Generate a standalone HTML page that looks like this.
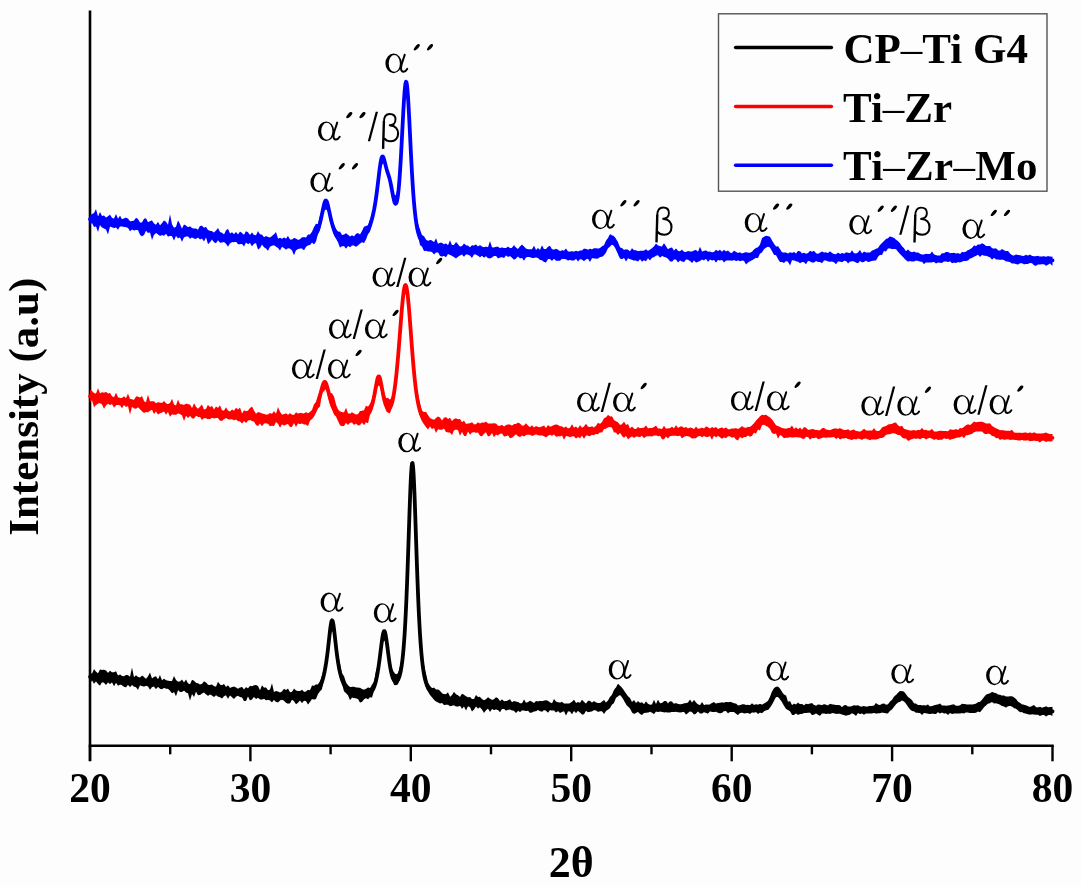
<!DOCTYPE html>
<html><head><meta charset="utf-8"><style>
html,body{margin:0;padding:0;background:#fdfdfd;width:1081px;height:887px;overflow:hidden}
svg{display:block;filter:blur(0.50px)}
.tk{font-family:"Liberation Serif",serif;font-weight:bold;font-size:41.5px;fill:#000}
.lb{font-family:"Liberation Serif",serif;fill:#000}
.lg{font-family:"Liberation Serif",serif;font-weight:bold;font-size:43px;fill:#000}
.ti{font-family:"Liberation Serif",serif;font-weight:bold;font-size:43px;fill:#000}
.ti2{font-family:"Liberation Serif",serif;font-weight:bold;font-size:44px;fill:#000}
</style></head><body>
<svg width="1081" height="887" viewBox="0 0 1081 887">
<defs>
<g id="al">
<path fill-rule="evenodd" d="M8.2 0.1 A8.2 9.8 0 1 0 8.2 19.7 A8.2 9.8 0 1 0 8.2 0.1Z M8.9 1.45 A5.6 8.45 0 1 1 8.9 18.35 A5.6 8.45 0 1 1 8.9 1.45Z"/>
<path d="M19.3 1.2 C18.1 6,15.6 10.5,15.6 14.8 C15.6 19,19.4 19.4,21.8 15.4" fill="none" stroke="#000" stroke-width="2.0" stroke-linecap="round"/>
</g>
<path id="ac" d="M4.3 0.2 C5.8 -0.4 7.0 0.6 6.3 2.0 C5.4 3.6 3.6 5.4 2.0 6.2 C0.8 6.8 -0.2 5.9 0.5 4.7 C1.4 3.2 2.8 1.1 4.3 0.2 Z"/>
<path id="sl" d="M7.9 0 L10.2 0 L2.3 29.4 L0 29.4 Z"/>
<g id="be" fill="none" stroke="#000">
<path d="M3.0 9 C3.0 4,5 0.9,8.8 0.9 C12.6 0.9,14.6 3.2,14.6 6.4 C14.6 10,12 12.2,8 12.3" stroke-width="1.9"/>
<path d="M3.0 8 L2.2 35.8" stroke-width="2.4"/>
<path d="M9 12.3 C14.5 12.5,17.2 16,17.2 20.4 C17.2 25.4,14 28.1,10 28.1 C7 28.1,4.5 27,3 25" stroke-width="2.1"/>
</g>
</defs>
<line x1="90" y1="10.5" x2="90" y2="761" stroke="#000" stroke-width="2.6"/>
<line x1="88.7" y1="745.8" x2="1053.8" y2="745.8" stroke="#000" stroke-width="2.6"/>
<line x1="90.0" y1="745.8" x2="90.0" y2="761.3" stroke="#000" stroke-width="2.4"/>
<text x="90.0" y="802" text-anchor="middle" class="tk">20</text>
<line x1="170.2" y1="745.8" x2="170.2" y2="754.3" stroke="#000" stroke-width="2.4"/>
<line x1="250.4" y1="745.8" x2="250.4" y2="761.3" stroke="#000" stroke-width="2.4"/>
<text x="250.4" y="802" text-anchor="middle" class="tk">30</text>
<line x1="330.6" y1="745.8" x2="330.6" y2="754.3" stroke="#000" stroke-width="2.4"/>
<line x1="410.8" y1="745.8" x2="410.8" y2="761.3" stroke="#000" stroke-width="2.4"/>
<text x="410.8" y="802" text-anchor="middle" class="tk">40</text>
<line x1="491.0" y1="745.8" x2="491.0" y2="754.3" stroke="#000" stroke-width="2.4"/>
<line x1="571.2" y1="745.8" x2="571.2" y2="761.3" stroke="#000" stroke-width="2.4"/>
<text x="571.2" y="802" text-anchor="middle" class="tk">50</text>
<line x1="651.5" y1="745.8" x2="651.5" y2="754.3" stroke="#000" stroke-width="2.4"/>
<line x1="731.7" y1="745.8" x2="731.7" y2="761.3" stroke="#000" stroke-width="2.4"/>
<text x="731.7" y="802" text-anchor="middle" class="tk">60</text>
<line x1="811.9" y1="745.8" x2="811.9" y2="754.3" stroke="#000" stroke-width="2.4"/>
<line x1="892.1" y1="745.8" x2="892.1" y2="761.3" stroke="#000" stroke-width="2.4"/>
<text x="892.1" y="802" text-anchor="middle" class="tk">70</text>
<line x1="972.3" y1="745.8" x2="972.3" y2="754.3" stroke="#000" stroke-width="2.4"/>
<line x1="1052.5" y1="745.8" x2="1052.5" y2="761.3" stroke="#000" stroke-width="2.4"/>
<text x="1052.5" y="802" text-anchor="middle" class="tk">80</text>
<path d="M90.0 219.2 L90.50 219.3 L91.00 219.3 L91.50 219.3 L92.00 219.4 L92.50 219.4 L93.00 219.5 L93.50 219.6 L94.00 219.7 L94.50 219.8 L95.00 219.9 L95.50 220.0 L96.00 220.1 L96.50 220.2 L97.00 220.4 L97.50 220.5 L98.00 220.6 L98.50 220.8 L99.00 220.9 L99.50 221.0 L100.00 221.2 L100.50 221.3 L101.00 221.4 L101.50 221.5 L102.00 221.6 L102.50 221.7 L103.00 221.7 L103.50 221.7 L104.00 221.7 L104.50 221.7 L105.00 221.7 L105.50 221.7 L106.00 221.7 L106.50 221.6 L107.00 221.6 L107.50 221.6 L108.00 221.6 L108.50 221.6 L109.00 221.6 L109.50 221.7 L110.00 221.8 L110.50 221.9 L111.00 222.0 L111.50 222.1 L112.00 222.3 L112.50 222.4 L113.00 222.6 L113.50 222.7 L114.00 222.8 L114.50 222.8 L115.00 222.8 L115.50 222.8 L116.00 222.8 L116.50 222.8 L117.00 222.7 L117.50 222.7 L118.00 222.7 L118.50 222.6 L119.00 222.6 L119.50 222.6 L120.00 222.6 L120.50 222.7 L121.00 222.7 L121.50 222.8 L122.00 222.9 L122.50 223.0 L123.00 223.1 L123.50 223.2 L124.00 223.3 L124.50 223.4 L125.00 223.6 L125.50 223.7 L126.00 223.9 L126.50 224.0 L127.00 224.2 L127.50 224.3 L128.00 224.4 L128.50 224.6 L129.00 224.7 L129.50 224.8 L130.00 224.9 L130.50 224.9 L131.00 225.0 L131.50 225.0 L132.00 225.0 L132.50 225.0 L133.00 225.0 L133.50 225.0 L134.00 225.0 L134.50 225.0 L135.00 225.0 L135.50 225.0 L136.00 225.1 L136.50 225.2 L137.00 225.3 L137.50 225.4 L138.00 225.5 L138.50 225.6 L139.00 225.8 L139.50 225.9 L140.00 226.1 L140.50 226.2 L141.00 226.4 L141.50 226.5 L142.00 226.7 L142.50 226.8 L143.00 226.9 L143.50 227.0 L144.00 227.0 L144.50 227.1 L145.00 227.1 L145.50 227.1 L146.00 227.0 L146.50 227.0 L147.00 227.0 L147.50 227.0 L148.00 227.0 L148.50 227.0 L149.00 227.1 L149.50 227.2 L150.00 227.3 L150.50 227.5 L151.00 227.6 L151.50 227.8 L152.00 228.0 L152.50 228.2 L153.00 228.3 L153.50 228.4 L154.00 228.5 L154.50 228.6 L155.00 228.6 L155.50 228.7 L156.00 228.7 L156.50 228.7 L157.00 228.6 L157.50 228.6 L158.00 228.6 L158.50 228.6 L159.00 228.6 L159.50 228.7 L160.00 228.7 L160.50 228.7 L161.00 228.7 L161.50 228.8 L162.00 228.8 L162.50 228.8 L163.00 228.9 L163.50 228.9 L164.00 228.9 L164.50 229.0 L165.00 229.0 L165.50 229.0 L166.00 229.0 L166.50 229.1 L167.00 229.1 L167.50 229.2 L168.00 229.3 L168.50 229.4 L169.00 229.5 L169.50 229.7 L170.00 229.8 L170.50 230.0 L171.00 230.1 L171.50 230.3 L172.00 230.5 L172.50 230.7 L173.00 230.8 L173.50 231.0 L174.00 231.2 L174.50 231.3 L175.00 231.5 L175.50 231.6 L176.00 231.7 L176.50 231.9 L177.00 232.0 L177.50 232.1 L178.00 232.2 L178.50 232.3 L179.00 232.4 L179.50 232.4 L180.00 232.5 L180.50 232.5 L181.00 232.5 L181.50 232.5 L182.00 232.5 L182.50 232.4 L183.00 232.4 L183.50 232.3 L184.00 232.3 L184.50 232.3 L185.00 232.3 L185.50 232.3 L186.00 232.3 L186.50 232.3 L187.00 232.4 L187.50 232.4 L188.00 232.5 L188.50 232.6 L189.00 232.7 L189.50 232.8 L190.00 232.8 L190.50 232.9 L191.00 232.9 L191.50 233.0 L192.00 233.0 L192.50 233.0 L193.00 233.0 L193.50 233.1 L194.00 233.1 L194.50 233.1 L195.00 233.1 L195.50 233.1 L196.00 233.2 L196.50 233.2 L197.00 233.2 L197.50 233.2 L198.00 233.2 L198.50 233.2 L199.00 233.2 L199.50 233.3 L200.00 233.3 L200.50 233.4 L201.00 233.4 L201.50 233.5 L202.00 233.6 L202.50 233.6 L203.00 233.7 L203.50 233.8 L204.00 233.8 L204.50 233.9 L205.00 234.0 L205.50 234.1 L206.00 234.2 L206.50 234.3 L207.00 234.4 L207.50 234.5 L208.00 234.6 L208.50 234.7 L209.00 234.9 L209.50 235.0 L210.00 235.2 L210.50 235.3 L211.00 235.5 L211.50 235.6 L212.00 235.8 L212.50 235.9 L213.00 236.1 L213.50 236.2 L214.00 236.3 L214.50 236.4 L215.00 236.5 L215.50 236.6 L216.00 236.7 L216.50 236.7 L217.00 236.8 L217.50 236.8 L218.00 236.8 L218.50 236.8 L219.00 236.9 L219.50 236.9 L220.00 237.0 L220.50 237.0 L221.00 237.1 L221.50 237.2 L222.00 237.3 L222.50 237.4 L223.00 237.5 L223.50 237.6 L224.00 237.7 L224.50 237.8 L225.00 237.9 L225.50 238.0 L226.00 238.0 L226.50 238.0 L227.00 238.0 L227.50 238.0 L228.00 238.0 L228.50 238.0 L229.00 238.0 L229.50 238.0 L230.00 238.0 L230.50 237.9 L231.00 237.9 L231.50 237.9 L232.00 237.9 L232.50 237.9 L233.00 237.9 L233.50 238.0 L234.00 238.0 L234.50 238.0 L235.00 238.0 L235.50 238.0 L236.00 238.0 L236.50 238.0 L237.00 238.0 L237.50 237.9 L238.00 237.9 L238.50 237.8 L239.00 237.8 L239.50 237.7 L240.00 237.7 L240.50 237.7 L241.00 237.7 L241.50 237.7 L242.00 237.8 L242.50 237.9 L243.00 238.0 L243.50 238.2 L244.00 238.3 L244.50 238.4 L245.00 238.5 L245.50 238.6 L246.00 238.7 L246.50 238.8 L247.00 238.8 L247.50 238.8 L248.00 238.8 L248.50 238.8 L249.00 238.8 L249.50 238.8 L250.00 238.8 L250.50 238.8 L251.00 238.8 L251.50 238.9 L252.00 239.0 L252.50 239.1 L253.00 239.3 L253.50 239.4 L254.00 239.6 L254.50 239.7 L255.00 239.8 L255.50 239.9 L256.00 239.9 L256.50 240.0 L257.00 240.0 L257.50 240.0 L258.00 240.0 L258.50 240.0 L259.00 240.0 L259.50 240.0 L260.00 240.1 L260.50 240.2 L261.00 240.3 L261.50 240.4 L262.00 240.5 L262.50 240.6 L263.00 240.7 L263.50 240.9 L264.00 241.0 L264.50 241.1 L265.00 241.1 L265.50 241.2 L266.00 241.3 L266.50 241.3 L267.00 241.3 L267.50 241.3 L268.00 241.3 L268.50 241.2 L269.00 241.2 L269.50 241.1 L270.00 241.0 L270.50 241.0 L271.00 240.9 L271.50 240.9 L272.00 240.8 L272.50 240.8 L273.00 240.9 L273.50 240.9 L274.00 241.0 L274.50 241.1 L275.00 241.2 L275.50 241.4 L276.00 241.5 L276.50 241.7 L277.00 241.8 L277.50 242.0 L278.00 242.1 L278.50 242.2 L279.00 242.3 L279.50 242.4 L280.00 242.5 L280.50 242.6 L281.00 242.7 L281.50 242.7 L282.00 242.8 L282.50 242.8 L283.00 242.8 L283.50 242.8 L284.00 242.8 L284.50 242.8 L285.00 242.7 L285.50 242.7 L286.00 242.7 L286.50 242.7 L287.00 242.7 L287.50 242.7 L288.00 242.7 L288.50 242.8 L289.00 242.9 L289.50 243.0 L290.00 243.1 L290.50 243.2 L291.00 243.4 L291.50 243.5 L292.00 243.7 L292.50 243.8 L293.00 243.9 L293.50 244.0 L294.00 244.1 L294.50 244.1 L295.00 244.1 L295.50 244.1 L296.00 244.1 L296.50 244.0 L297.00 243.9 L297.50 243.9 L298.00 243.8 L298.50 243.7 L299.00 243.7 L299.50 243.6 L300.00 243.6 L300.50 243.5 L301.00 243.4 L301.50 243.3 L302.00 243.3 L302.50 243.1 L303.00 243.0 L303.50 242.9 L304.00 242.7 L304.50 242.5 L305.00 242.3 L305.50 242.1 L306.00 241.8 L306.50 241.6 L307.00 241.3 L307.50 241.1 L308.00 240.9 L308.50 240.6 L309.00 240.4 L309.50 240.1 L310.00 239.8 L310.50 239.5 L311.00 239.2 L311.50 238.8 L312.00 238.4 L312.50 238.0 L313.00 237.6 L313.50 237.1 L314.00 236.6 L314.50 236.0 L315.00 235.4 L315.50 234.7 L316.00 233.9 L316.50 233.0 L317.00 232.0 L317.50 230.8 L318.00 229.5 L318.50 228.1 L319.00 226.6 L319.50 224.8 L320.00 223.0 L320.50 220.9 L321.00 218.8 L321.50 216.5 L322.00 214.1 L322.50 211.6 L323.00 209.2 L323.50 206.8 L324.00 204.6 L324.50 202.8 L325.00 201.4 L325.50 200.6 L326.00 200.5 L326.50 201.0 L327.00 202.1 L327.50 203.7 L328.00 205.7 L328.50 207.9 L329.00 210.3 L329.50 212.7 L330.00 215.1 L330.50 217.3 L331.00 219.5 L331.50 221.5 L332.00 223.4 L332.50 225.2 L333.00 226.9 L333.50 228.5 L334.00 229.9 L334.50 231.3 L335.00 232.6 L335.50 233.7 L336.00 234.7 L336.50 235.6 L337.00 236.4 L337.50 237.1 L338.00 237.7 L338.50 238.2 L339.00 238.7 L339.50 239.1 L340.00 239.4 L340.50 239.8 L341.00 240.0 L341.50 240.2 L342.00 240.4 L342.50 240.6 L343.00 240.8 L343.50 240.9 L344.00 241.0 L344.50 241.1 L345.00 241.2 L345.50 241.2 L346.00 241.2 L346.50 241.3 L347.00 241.3 L347.50 241.3 L348.00 241.2 L348.50 241.2 L349.00 241.2 L349.50 241.2 L350.00 241.1 L350.50 241.1 L351.00 241.1 L351.50 241.1 L352.00 241.1 L352.50 241.1 L353.00 241.0 L353.50 241.0 L354.00 240.9 L354.50 240.8 L355.00 240.7 L355.50 240.6 L356.00 240.4 L356.50 240.3 L357.00 240.2 L357.50 240.1 L358.00 239.9 L358.50 239.7 L359.00 239.6 L359.50 239.3 L360.00 239.1 L360.50 238.8 L361.00 238.5 L361.50 238.2 L362.00 237.8 L362.50 237.4 L363.00 236.9 L363.50 236.4 L364.00 235.9 L364.50 235.3 L365.00 234.7 L365.50 234.1 L366.00 233.4 L366.50 232.7 L367.00 232.0 L367.50 231.1 L368.00 230.2 L368.50 229.2 L369.00 228.1 L369.50 226.9 L370.00 225.5 L370.50 224.0 L371.00 222.4 L371.50 220.7 L372.00 218.9 L372.50 216.9 L373.00 214.8 L373.50 212.5 L374.00 210.1 L374.50 207.4 L375.00 204.6 L375.50 201.5 L376.00 198.1 L376.50 194.5 L377.00 190.7 L377.50 186.7 L378.00 182.6 L378.50 178.4 L379.00 174.2 L379.50 170.1 L380.00 166.4 L380.50 163.0 L381.00 160.3 L381.50 158.2 L382.00 156.9 L382.50 156.4 L383.00 156.7 L383.50 157.6 L384.00 159.1 L384.50 160.9 L385.00 162.9 L385.50 164.9 L386.00 166.9 L386.50 168.8 L387.00 170.5 L387.50 172.1 L388.00 173.6 L388.50 175.1 L389.00 176.7 L389.50 178.4 L390.00 180.4 L390.50 182.6 L391.00 185.0 L391.50 187.6 L392.00 190.3 L392.50 193.1 L393.00 195.8 L393.50 198.2 L394.00 200.4 L394.50 202.1 L395.00 203.2 L395.50 203.8 L396.00 203.6 L396.50 202.7 L397.00 201.0 L397.50 198.5 L398.00 195.0 L398.50 190.6 L399.00 185.3 L399.50 179.0 L400.00 171.9 L400.50 163.9 L401.00 155.3 L401.50 146.1 L402.00 136.6 L402.50 126.9 L403.00 117.3 L403.50 108.2 L404.00 99.9 L404.50 92.7 L405.00 87.1 L405.50 83.3 L406.00 81.7 L406.50 82.3 L407.00 85.2 L407.50 90.2 L408.00 96.9 L408.50 105.1 L409.00 114.3 L409.50 124.1 L410.00 134.3 L410.50 144.6 L411.00 154.6 L411.50 164.2 L412.00 173.3 L412.50 181.7 L413.00 189.3 L413.50 196.3 L414.00 202.5 L414.50 208.0 L415.00 212.9 L415.50 217.2 L416.00 221.0 L416.50 224.3 L417.00 227.3 L417.50 229.8 L418.00 232.0 L418.50 233.8 L419.00 235.4 L419.50 236.8 L420.00 237.9 L420.50 238.9 L421.00 239.7 L421.50 240.4 L422.00 241.1 L422.50 241.7 L423.00 242.3 L423.50 242.8 L424.00 243.3 L424.50 243.9 L425.00 244.3 L425.50 244.8 L426.00 245.2 L426.50 245.6 L427.00 246.0 L427.50 246.3 L428.00 246.5 L428.50 246.8 L429.00 246.9 L429.50 247.0 L430.00 247.1 L430.50 247.1 L431.00 247.1 L431.50 247.1 L432.00 247.1 L432.50 247.1 L433.00 247.2 L433.50 247.2 L434.00 247.3 L434.50 247.4 L435.00 247.5 L435.50 247.6 L436.00 247.7 L436.50 247.9 L437.00 248.0 L437.50 248.0 L438.00 248.1 L438.50 248.2 L439.00 248.3 L439.50 248.3 L440.00 248.3 L440.50 248.4 L441.00 248.4 L441.50 248.4 L442.00 248.4 L442.50 248.4 L443.00 248.5 L443.50 248.5 L444.00 248.5 L444.50 248.5 L445.00 248.6 L445.50 248.6 L446.00 248.7 L446.50 248.7 L447.00 248.8 L447.50 248.9 L448.00 249.0 L448.50 249.1 L449.00 249.2 L449.50 249.3 L450.00 249.3 L450.50 249.4 L451.00 249.4 L451.50 249.5 L452.00 249.5 L452.50 249.5 L453.00 249.5 L453.50 249.6 L454.00 249.6 L454.50 249.7 L455.00 249.7 L455.50 249.8 L456.00 249.8 L456.50 249.9 L457.00 250.0 L457.50 250.0 L458.00 250.1 L458.50 250.1 L459.00 250.2 L459.50 250.2 L460.00 250.2 L460.50 250.2 L461.00 250.2 L461.50 250.2 L462.00 250.2 L462.50 250.2 L463.00 250.1 L463.50 250.1 L464.00 250.1 L464.50 250.1 L465.00 250.2 L465.50 250.2 L466.00 250.3 L466.50 250.4 L467.00 250.4 L467.50 250.5 L468.00 250.6 L468.50 250.7 L469.00 250.8 L469.50 250.8 L470.00 250.9 L470.50 250.9 L471.00 251.0 L471.50 251.0 L472.00 251.0 L472.50 251.0 L473.00 251.0 L473.50 251.0 L474.00 250.9 L474.50 250.9 L475.00 250.9 L475.50 250.9 L476.00 250.9 L476.50 250.8 L477.00 250.9 L477.50 250.9 L478.00 250.9 L478.50 250.9 L479.00 251.0 L479.50 251.0 L480.00 251.1 L480.50 251.1 L481.00 251.2 L481.50 251.2 L482.00 251.2 L482.50 251.3 L483.00 251.3 L483.50 251.3 L484.00 251.3 L484.50 251.2 L485.00 251.1 L485.50 251.1 L486.00 251.0 L486.50 250.9 L487.00 250.9 L487.50 250.9 L488.00 250.9 L488.50 250.9 L489.00 251.0 L489.50 251.1 L490.00 251.3 L490.50 251.4 L491.00 251.6 L491.50 251.8 L492.00 251.9 L492.50 252.0 L493.00 252.1 L493.50 252.2 L494.00 252.2 L494.50 252.2 L495.00 252.2 L495.50 252.2 L496.00 252.2 L496.50 252.2 L497.00 252.2 L497.50 252.2 L498.00 252.3 L498.50 252.4 L499.00 252.5 L499.50 252.6 L500.00 252.7 L500.50 252.8 L501.00 252.9 L501.50 252.9 L502.00 252.8 L502.50 252.8 L503.00 252.7 L503.50 252.5 L504.00 252.4 L504.50 252.2 L505.00 252.1 L505.50 252.0 L506.00 251.8 L506.50 251.7 L507.00 251.7 L507.50 251.7 L508.00 251.7 L508.50 251.7 L509.00 251.8 L509.50 251.9 L510.00 252.0 L510.50 252.1 L511.00 252.3 L511.50 252.4 L512.00 252.5 L512.50 252.7 L513.00 252.8 L513.50 252.8 L514.00 252.8 L514.50 252.8 L515.00 252.8 L515.50 252.8 L516.00 252.7 L516.50 252.7 L517.00 252.6 L517.50 252.6 L518.00 252.6 L518.50 252.6 L519.00 252.6 L519.50 252.6 L520.00 252.7 L520.50 252.7 L521.00 252.8 L521.50 252.8 L522.00 252.9 L522.50 252.9 L523.00 253.0 L523.50 253.0 L524.00 253.1 L524.50 253.1 L525.00 253.1 L525.50 253.2 L526.00 253.2 L526.50 253.2 L527.00 253.2 L527.50 253.2 L528.00 253.2 L528.50 253.2 L529.00 253.2 L529.50 253.2 L530.00 253.2 L530.50 253.2 L531.00 253.2 L531.50 253.2 L532.00 253.2 L532.50 253.2 L533.00 253.3 L533.50 253.3 L534.00 253.4 L534.50 253.5 L535.00 253.7 L535.50 253.8 L536.00 253.9 L536.50 254.1 L537.00 254.2 L537.50 254.3 L538.00 254.4 L538.50 254.5 L539.00 254.5 L539.50 254.5 L540.00 254.5 L540.50 254.5 L541.00 254.4 L541.50 254.3 L542.00 254.2 L542.50 254.2 L543.00 254.1 L543.50 254.1 L544.00 254.1 L544.50 254.2 L545.00 254.2 L545.50 254.3 L546.00 254.3 L546.50 254.4 L547.00 254.4 L547.50 254.4 L548.00 254.4 L548.50 254.4 L549.00 254.3 L549.50 254.3 L550.00 254.2 L550.50 254.1 L551.00 254.0 L551.50 253.9 L552.00 253.9 L552.50 253.8 L553.00 253.8 L553.50 253.9 L554.00 253.9 L554.50 254.0 L555.00 254.2 L555.50 254.3 L556.00 254.5 L556.50 254.7 L557.00 254.8 L557.50 255.0 L558.00 255.2 L558.50 255.3 L559.00 255.4 L559.50 255.5 L560.00 255.6 L560.50 255.6 L561.00 255.6 L561.50 255.6 L562.00 255.6 L562.50 255.5 L563.00 255.5 L563.50 255.4 L564.00 255.3 L564.50 255.2 L565.00 255.1 L565.50 255.1 L566.00 255.0 L566.50 255.0 L567.00 254.9 L567.50 254.9 L568.00 254.9 L568.50 255.0 L569.00 255.0 L569.50 255.1 L570.00 255.2 L570.50 255.3 L571.00 255.4 L571.50 255.5 L572.00 255.5 L572.50 255.6 L573.00 255.6 L573.50 255.6 L574.00 255.6 L574.50 255.6 L575.00 255.6 L575.50 255.5 L576.00 255.5 L576.50 255.4 L577.00 255.3 L577.50 255.3 L578.00 255.2 L578.50 255.2 L579.00 255.2 L579.50 255.1 L580.00 255.1 L580.50 255.1 L581.00 255.1 L581.50 255.0 L582.00 255.0 L582.50 255.0 L583.00 255.0 L583.50 255.0 L584.00 254.9 L584.50 254.9 L585.00 254.9 L585.50 254.9 L586.00 254.9 L586.50 254.8 L587.00 254.8 L587.50 254.7 L588.00 254.6 L588.50 254.5 L589.00 254.4 L589.50 254.3 L590.00 254.2 L590.50 254.1 L591.00 254.1 L591.50 254.0 L592.00 254.0 L592.50 254.0 L593.00 254.0 L593.50 254.1 L594.00 254.2 L594.50 254.2 L595.00 254.3 L595.50 254.3 L596.00 254.4 L596.50 254.4 L597.00 254.4 L597.50 254.4 L598.00 254.3 L598.50 254.2 L599.00 254.1 L599.50 253.9 L600.00 253.7 L600.50 253.5 L601.00 253.2 L601.50 252.8 L602.00 252.4 L602.50 251.9 L603.00 251.4 L603.50 250.7 L604.00 250.0 L604.50 249.3 L605.00 248.5 L605.50 247.6 L606.00 246.7 L606.50 245.8 L607.00 244.9 L607.50 243.9 L608.00 243.0 L608.50 242.0 L609.00 241.2 L609.50 240.4 L610.00 239.6 L610.50 239.1 L611.00 238.6 L611.50 238.4 L612.00 238.4 L612.50 238.7 L613.00 239.1 L613.50 239.7 L614.00 240.5 L614.50 241.4 L615.00 242.5 L615.50 243.6 L616.00 244.7 L616.50 245.8 L617.00 246.9 L617.50 247.9 L618.00 248.9 L618.50 249.8 L619.00 250.5 L619.50 251.2 L620.00 251.8 L620.50 252.3 L621.00 252.8 L621.50 253.1 L622.00 253.4 L622.50 253.7 L623.00 253.8 L623.50 254.0 L624.00 254.1 L624.50 254.2 L625.00 254.3 L625.50 254.3 L626.00 254.3 L626.50 254.3 L627.00 254.4 L627.50 254.4 L628.00 254.4 L628.50 254.5 L629.00 254.5 L629.50 254.6 L630.00 254.7 L630.50 254.8 L631.00 255.0 L631.50 255.1 L632.00 255.2 L632.50 255.2 L633.00 255.3 L633.50 255.3 L634.00 255.3 L634.50 255.3 L635.00 255.3 L635.50 255.3 L636.00 255.3 L636.50 255.2 L637.00 255.2 L637.50 255.1 L638.00 255.0 L638.50 255.0 L639.00 254.9 L639.50 254.8 L640.00 254.7 L640.50 254.6 L641.00 254.5 L641.50 254.4 L642.00 254.4 L642.50 254.4 L643.00 254.4 L643.50 254.4 L644.00 254.5 L644.50 254.5 L645.00 254.6 L645.50 254.6 L646.00 254.7 L646.50 254.7 L647.00 254.7 L647.50 254.7 L648.00 254.6 L648.50 254.5 L649.00 254.4 L649.50 254.3 L650.00 254.1 L650.50 253.9 L651.00 253.7 L651.50 253.4 L652.00 253.2 L652.50 252.9 L653.00 252.6 L653.50 252.2 L654.00 251.9 L654.50 251.6 L655.00 251.3 L655.50 251.0 L656.00 250.8 L656.50 250.6 L657.00 250.5 L657.50 250.4 L658.00 250.3 L658.50 250.3 L659.00 250.4 L659.50 250.5 L660.00 250.6 L660.50 250.7 L661.00 250.9 L661.50 251.1 L662.00 251.2 L662.50 251.4 L663.00 251.5 L663.50 251.7 L664.00 251.9 L664.50 252.0 L665.00 252.2 L665.50 252.3 L666.00 252.5 L666.50 252.6 L667.00 252.8 L667.50 253.0 L668.00 253.2 L668.50 253.4 L669.00 253.6 L669.50 253.8 L670.00 254.0 L670.50 254.2 L671.00 254.4 L671.50 254.6 L672.00 254.8 L672.50 255.0 L673.00 255.1 L673.50 255.3 L674.00 255.4 L674.50 255.5 L675.00 255.5 L675.50 255.6 L676.00 255.7 L676.50 255.7 L677.00 255.7 L677.50 255.7 L678.00 255.7 L678.50 255.6 L679.00 255.6 L679.50 255.6 L680.00 255.5 L680.50 255.5 L681.00 255.4 L681.50 255.3 L682.00 255.3 L682.50 255.2 L683.00 255.2 L683.50 255.2 L684.00 255.1 L684.50 255.1 L685.00 255.1 L685.50 255.2 L686.00 255.3 L686.50 255.4 L687.00 255.5 L687.50 255.7 L688.00 255.9 L688.50 256.1 L689.00 256.3 L689.50 256.4 L690.00 256.6 L690.50 256.7 L691.00 256.8 L691.50 256.9 L692.00 256.9 L692.50 256.9 L693.00 256.9 L693.50 256.8 L694.00 256.7 L694.50 256.7 L695.00 256.6 L695.50 256.5 L696.00 256.4 L696.50 256.3 L697.00 256.3 L697.50 256.2 L698.00 256.1 L698.50 256.1 L699.00 256.0 L699.50 255.9 L700.00 255.9 L700.50 255.8 L701.00 255.8 L701.50 255.7 L702.00 255.7 L702.50 255.6 L703.00 255.5 L703.50 255.5 L704.00 255.4 L704.50 255.4 L705.00 255.4 L705.50 255.3 L706.00 255.3 L706.50 255.3 L707.00 255.3 L707.50 255.4 L708.00 255.4 L708.50 255.5 L709.00 255.6 L709.50 255.8 L710.00 255.9 L710.50 256.1 L711.00 256.2 L711.50 256.3 L712.00 256.4 L712.50 256.5 L713.00 256.6 L713.50 256.6 L714.00 256.6 L714.50 256.6 L715.00 256.6 L715.50 256.5 L716.00 256.5 L716.50 256.4 L717.00 256.3 L717.50 256.2 L718.00 256.2 L718.50 256.1 L719.00 256.0 L719.50 256.0 L720.00 255.9 L720.50 255.8 L721.00 255.8 L721.50 255.7 L722.00 255.7 L722.50 255.7 L723.00 255.7 L723.50 255.7 L724.00 255.7 L724.50 255.8 L725.00 255.8 L725.50 255.9 L726.00 256.0 L726.50 256.1 L727.00 256.2 L727.50 256.3 L728.00 256.4 L728.50 256.5 L729.00 256.5 L729.50 256.6 L730.00 256.7 L730.50 256.7 L731.00 256.7 L731.50 256.7 L732.00 256.6 L732.50 256.6 L733.00 256.5 L733.50 256.5 L734.00 256.4 L734.50 256.3 L735.00 256.3 L735.50 256.3 L736.00 256.3 L736.50 256.3 L737.00 256.4 L737.50 256.4 L738.00 256.5 L738.50 256.6 L739.00 256.7 L739.50 256.8 L740.00 256.8 L740.50 256.9 L741.00 257.0 L741.50 257.0 L742.00 257.0 L742.50 257.0 L743.00 257.0 L743.50 257.0 L744.00 257.0 L744.50 256.9 L745.00 256.9 L745.50 256.9 L746.00 256.9 L746.50 256.9 L747.00 256.9 L747.50 257.0 L748.00 257.0 L748.50 257.0 L749.00 257.0 L749.50 256.9 L750.00 256.9 L750.50 256.8 L751.00 256.7 L751.50 256.5 L752.00 256.3 L752.50 256.1 L753.00 255.8 L753.50 255.5 L754.00 255.2 L754.50 254.8 L755.00 254.4 L755.50 254.0 L756.00 253.6 L756.50 253.2 L757.00 252.7 L757.50 252.2 L758.00 251.7 L758.50 251.1 L759.00 250.5 L759.50 249.8 L760.00 249.1 L760.50 248.4 L761.00 247.6 L761.50 246.8 L762.00 246.1 L762.50 245.3 L763.00 244.5 L763.50 243.7 L764.00 243.0 L764.50 242.4 L765.00 241.8 L765.50 241.3 L766.00 240.9 L766.50 240.6 L767.00 240.5 L767.50 240.4 L768.00 240.5 L768.50 240.8 L769.00 241.2 L769.50 241.6 L770.00 242.2 L770.50 242.9 L771.00 243.6 L771.50 244.4 L772.00 245.2 L772.50 246.0 L773.00 246.8 L773.50 247.6 L774.00 248.4 L774.50 249.2 L775.00 249.9 L775.50 250.6 L776.00 251.2 L776.50 251.9 L777.00 252.5 L777.50 253.0 L778.00 253.6 L778.50 254.1 L779.00 254.5 L779.50 254.9 L780.00 255.3 L780.50 255.6 L781.00 255.9 L781.50 256.2 L782.00 256.4 L782.50 256.7 L783.00 256.8 L783.50 257.0 L784.00 257.1 L784.50 257.2 L785.00 257.3 L785.50 257.3 L786.00 257.3 L786.50 257.2 L787.00 257.2 L787.50 257.1 L788.00 257.0 L788.50 256.9 L789.00 256.8 L789.50 256.7 L790.00 256.6 L790.50 256.5 L791.00 256.5 L791.50 256.5 L792.00 256.5 L792.50 256.5 L793.00 256.6 L793.50 256.7 L794.00 256.8 L794.50 256.9 L795.00 257.0 L795.50 257.1 L796.00 257.3 L796.50 257.4 L797.00 257.5 L797.50 257.6 L798.00 257.6 L798.50 257.7 L799.00 257.7 L799.50 257.7 L800.00 257.7 L800.50 257.7 L801.00 257.7 L801.50 257.7 L802.00 257.7 L802.50 257.6 L803.00 257.6 L803.50 257.6 L804.00 257.6 L804.50 257.6 L805.00 257.6 L805.50 257.6 L806.00 257.5 L806.50 257.5 L807.00 257.4 L807.50 257.3 L808.00 257.2 L808.50 257.0 L809.00 256.9 L809.50 256.8 L810.00 256.8 L810.50 256.7 L811.00 256.7 L811.50 256.7 L812.00 256.8 L812.50 256.9 L813.00 257.0 L813.50 257.1 L814.00 257.2 L814.50 257.3 L815.00 257.4 L815.50 257.4 L816.00 257.5 L816.50 257.5 L817.00 257.5 L817.50 257.5 L818.00 257.4 L818.50 257.4 L819.00 257.4 L819.50 257.4 L820.00 257.3 L820.50 257.3 L821.00 257.3 L821.50 257.2 L822.00 257.2 L822.50 257.1 L823.00 257.1 L823.50 257.0 L824.00 256.9 L824.50 256.9 L825.00 256.8 L825.50 256.8 L826.00 256.7 L826.50 256.7 L827.00 256.7 L827.50 256.7 L828.00 256.8 L828.50 256.9 L829.00 257.0 L829.50 257.1 L830.00 257.3 L830.50 257.4 L831.00 257.5 L831.50 257.6 L832.00 257.7 L832.50 257.8 L833.00 257.9 L833.50 257.9 L834.00 258.0 L834.50 258.0 L835.00 258.0 L835.50 257.9 L836.00 257.9 L836.50 257.8 L837.00 257.8 L837.50 257.7 L838.00 257.6 L838.50 257.5 L839.00 257.5 L839.50 257.4 L840.00 257.3 L840.50 257.3 L841.00 257.2 L841.50 257.2 L842.00 257.1 L842.50 257.1 L843.00 257.1 L843.50 257.1 L844.00 257.2 L844.50 257.2 L845.00 257.2 L845.50 257.3 L846.00 257.3 L846.50 257.4 L847.00 257.4 L847.50 257.5 L848.00 257.5 L848.50 257.6 L849.00 257.6 L849.50 257.6 L850.00 257.6 L850.50 257.6 L851.00 257.6 L851.50 257.6 L852.00 257.6 L852.50 257.5 L853.00 257.5 L853.50 257.5 L854.00 257.4 L854.50 257.4 L855.00 257.4 L855.50 257.4 L856.00 257.3 L856.50 257.3 L857.00 257.3 L857.50 257.3 L858.00 257.2 L858.50 257.2 L859.00 257.1 L859.50 257.0 L860.00 257.0 L860.50 256.9 L861.00 256.8 L861.50 256.8 L862.00 256.8 L862.50 256.8 L863.00 256.8 L863.50 256.8 L864.00 256.9 L864.50 256.9 L865.00 256.9 L865.50 256.9 L866.00 256.9 L866.50 256.9 L867.00 256.8 L867.50 256.8 L868.00 256.7 L868.50 256.6 L869.00 256.5 L869.50 256.4 L870.00 256.3 L870.50 256.2 L871.00 256.1 L871.50 256.0 L872.00 256.0 L872.50 255.8 L873.00 255.7 L873.50 255.5 L874.00 255.3 L874.50 255.1 L875.00 254.8 L875.50 254.4 L876.00 254.0 L876.50 253.6 L877.00 253.1 L877.50 252.7 L878.00 252.2 L878.50 251.7 L879.00 251.1 L879.50 250.6 L880.00 250.1 L880.50 249.5 L881.00 249.0 L881.50 248.5 L882.00 247.9 L882.50 247.4 L883.00 246.9 L883.50 246.4 L884.00 245.9 L884.50 245.5 L885.00 245.1 L885.50 244.7 L886.00 244.3 L886.50 244.0 L887.00 243.7 L887.50 243.4 L888.00 243.1 L888.50 242.9 L889.00 242.6 L889.50 242.4 L890.00 242.2 L890.50 242.1 L891.00 242.0 L891.50 241.9 L892.00 241.9 L892.50 242.0 L893.00 242.1 L893.50 242.3 L894.00 242.5 L894.50 242.8 L895.00 243.2 L895.50 243.6 L896.00 244.0 L896.50 244.5 L897.00 245.1 L897.50 245.7 L898.00 246.3 L898.50 247.0 L899.00 247.7 L899.50 248.4 L900.00 249.2 L900.50 249.9 L901.00 250.6 L901.50 251.3 L902.00 251.9 L902.50 252.5 L903.00 253.1 L903.50 253.6 L904.00 254.1 L904.50 254.6 L905.00 255.0 L905.50 255.4 L906.00 255.7 L906.50 255.9 L907.00 256.1 L907.50 256.3 L908.00 256.4 L908.50 256.4 L909.00 256.5 L909.50 256.5 L910.00 256.5 L910.50 256.5 L911.00 256.5 L911.50 256.6 L912.00 256.6 L912.50 256.6 L913.00 256.7 L913.50 256.8 L914.00 256.8 L914.50 256.9 L915.00 256.9 L915.50 256.9 L916.00 257.0 L916.50 257.0 L917.00 257.1 L917.50 257.1 L918.00 257.2 L918.50 257.2 L919.00 257.3 L919.50 257.4 L920.00 257.6 L920.50 257.7 L921.00 257.9 L921.50 258.0 L922.00 258.1 L922.50 258.2 L923.00 258.3 L923.50 258.3 L924.00 258.3 L924.50 258.3 L925.00 258.2 L925.50 258.1 L926.00 258.0 L926.50 257.9 L927.00 257.9 L927.50 257.8 L928.00 257.7 L928.50 257.7 L929.00 257.7 L929.50 257.7 L930.00 257.7 L930.50 257.7 L931.00 257.7 L931.50 257.8 L932.00 257.9 L932.50 258.0 L933.00 258.1 L933.50 258.2 L934.00 258.4 L934.50 258.5 L935.00 258.7 L935.50 258.9 L936.00 259.0 L936.50 259.2 L937.00 259.2 L937.50 259.3 L938.00 259.3 L938.50 259.3 L939.00 259.3 L939.50 259.2 L940.00 259.0 L940.50 258.9 L941.00 258.7 L941.50 258.5 L942.00 258.3 L942.50 258.1 L943.00 257.9 L943.50 257.7 L944.00 257.6 L944.50 257.4 L945.00 257.3 L945.50 257.2 L946.00 257.1 L946.50 257.0 L947.00 257.0 L947.50 257.0 L948.00 257.1 L948.50 257.1 L949.00 257.2 L949.50 257.2 L950.00 257.3 L950.50 257.4 L951.00 257.5 L951.50 257.6 L952.00 257.7 L952.50 257.8 L953.00 257.9 L953.50 257.9 L954.00 258.0 L954.50 258.1 L955.00 258.2 L955.50 258.3 L956.00 258.3 L956.50 258.4 L957.00 258.4 L957.50 258.4 L958.00 258.4 L958.50 258.4 L959.00 258.3 L959.50 258.2 L960.00 258.1 L960.50 258.0 L961.00 257.8 L961.50 257.7 L962.00 257.5 L962.50 257.2 L963.00 257.0 L963.50 256.8 L964.00 256.6 L964.50 256.4 L965.00 256.2 L965.50 255.9 L966.00 255.7 L966.50 255.5 L967.00 255.3 L967.50 255.0 L968.00 254.8 L968.50 254.6 L969.00 254.4 L969.50 254.2 L970.00 254.0 L970.50 253.8 L971.00 253.6 L971.50 253.4 L972.00 253.2 L972.50 252.9 L973.00 252.7 L973.50 252.4 L974.00 252.1 L974.50 251.7 L975.00 251.4 L975.50 251.1 L976.00 250.8 L976.50 250.5 L977.00 250.2 L977.50 250.0 L978.00 249.8 L978.50 249.7 L979.00 249.5 L979.50 249.4 L980.00 249.3 L980.50 249.3 L981.00 249.2 L981.50 249.3 L982.00 249.3 L982.50 249.4 L983.00 249.5 L983.50 249.7 L984.00 249.8 L984.50 250.0 L985.00 250.2 L985.50 250.3 L986.00 250.5 L986.50 250.6 L987.00 250.8 L987.50 251.0 L988.00 251.1 L988.50 251.3 L989.00 251.5 L989.50 251.7 L990.00 251.9 L990.50 252.1 L991.00 252.3 L991.50 252.4 L992.00 252.6 L992.50 252.7 L993.00 252.8 L993.50 252.9 L994.00 253.1 L994.50 253.2 L995.00 253.4 L995.50 253.5 L996.00 253.7 L996.50 253.9 L997.00 254.2 L997.50 254.4 L998.00 254.6 L998.50 254.8 L999.00 255.0 L999.50 255.1 L1000.00 255.2 L1000.50 255.2 L1001.00 255.3 L1001.50 255.3 L1002.00 255.3 L1002.50 255.4 L1003.00 255.4 L1003.50 255.5 L1004.00 255.5 L1004.50 255.6 L1005.00 255.8 L1005.50 255.9 L1006.00 256.1 L1006.50 256.4 L1007.00 256.6 L1007.50 256.9 L1008.00 257.2 L1008.50 257.5 L1009.00 257.8 L1009.50 258.0 L1010.00 258.3 L1010.50 258.5 L1011.00 258.7 L1011.50 258.8 L1012.00 258.9 L1012.50 259.0 L1013.00 259.0 L1013.50 259.1 L1014.00 259.1 L1014.50 259.1 L1015.00 259.2 L1015.50 259.2 L1016.00 259.2 L1016.50 259.3 L1017.00 259.3 L1017.50 259.4 L1018.00 259.5 L1018.50 259.5 L1019.00 259.6 L1019.50 259.6 L1020.00 259.7 L1020.50 259.7 L1021.00 259.7 L1021.50 259.8 L1022.00 259.8 L1022.50 259.8 L1023.00 259.8 L1023.50 259.8 L1024.00 259.7 L1024.50 259.7 L1025.00 259.6 L1025.50 259.6 L1026.00 259.5 L1026.50 259.4 L1027.00 259.4 L1027.50 259.3 L1028.00 259.3 L1028.50 259.3 L1029.00 259.3 L1029.50 259.3 L1030.00 259.3 L1030.50 259.4 L1031.00 259.4 L1031.50 259.5 L1032.00 259.6 L1032.50 259.7 L1033.00 259.8 L1033.50 259.9 L1034.00 260.0 L1034.50 260.1 L1035.00 260.2 L1035.50 260.2 L1036.00 260.3 L1036.50 260.3 L1037.00 260.3 L1037.50 260.4 L1038.00 260.4 L1038.50 260.5 L1039.00 260.5 L1039.50 260.5 L1040.00 260.6 L1040.50 260.6 L1041.00 260.6 L1041.50 260.7 L1042.00 260.7 L1042.50 260.7 L1043.00 260.7 L1043.50 260.7 L1044.00 260.6 L1044.50 260.6 L1045.00 260.5 L1045.50 260.4 L1046.00 260.3 L1046.50 260.2 L1047.00 260.1 L1047.50 260.0 L1048.00 259.9 L1048.50 259.9 L1049.00 259.9 L1049.50 259.9 L1050.00 259.9 L1050.50 260.0 L1051.00 260.1 L1051.50 260.2 L1052.00 260.3 L1052.50 260.4" fill="none" stroke="#0000ff" stroke-width="3.80" stroke-linejoin="round" stroke-linecap="round"/>
<path d="M90.0 215.5 L90.5 215.1 L91.0 214.8 L91.5 214.4 L92.0 214.0 L92.5 213.7 L93.0 213.5 L93.5 213.2 L94.0 213.0 L94.5 212.0 L95.0 211.0 L95.5 210.0 L96.0 209.0 L96.5 210.9 L97.0 212.8 L97.5 214.6 L98.0 216.5 L98.5 215.4 L99.0 214.3 L99.5 213.1 L100.0 212.0 L100.5 213.0 L101.0 214.0 L101.5 215.1 L102.0 216.1 L102.5 215.9 L103.0 215.8 L103.5 215.6 L104.0 215.5 L104.5 216.0 L105.0 216.5 L105.5 217.0 L106.0 217.5 L106.5 217.2 L107.0 216.9 L107.5 216.5 L108.0 216.2 L108.5 215.8 L109.0 215.4 L109.5 215.0 L110.0 214.6 L110.5 215.4 L111.0 216.2 L111.5 217.0 L112.0 217.8 L112.5 218.0 L113.0 218.2 L113.5 218.4 L114.0 218.5 L114.5 217.4 L115.0 216.3 L115.5 215.1 L116.0 214.0 L116.5 215.2 L117.0 216.4 L117.5 217.6 L118.0 218.8 L118.5 218.0 L119.0 217.2 L119.5 216.4 L120.0 215.7 L120.5 216.6 L121.0 217.4 L121.5 218.4 L122.0 219.3 L122.5 219.0 L123.0 218.8 L123.5 218.6 L124.0 218.4 L124.5 218.2 L125.0 218.0 L125.5 217.8 L126.0 217.6 L126.5 217.9 L127.0 218.1 L127.5 218.4 L128.0 218.6 L128.5 219.3 L129.0 219.9 L129.5 220.6 L130.0 221.3 L130.5 221.2 L131.0 221.2 L131.5 221.1 L132.0 221.1 L132.5 221.0 L133.0 220.8 L133.5 220.7 L134.0 220.6 L134.5 219.9 L135.0 219.1 L135.5 218.4 L136.0 217.7 L136.5 218.0 L137.0 218.4 L137.5 218.7 L138.0 219.1 L138.5 220.0 L139.0 220.8 L139.5 221.7 L140.0 222.6 L140.5 222.5 L141.0 222.5 L141.5 222.5 L142.0 222.5 L142.5 221.6 L143.0 220.6 L143.5 219.7 L144.0 218.7 L144.5 218.6 L145.0 218.5 L145.5 218.4 L146.0 218.3 L146.5 219.3 L147.0 220.3 L147.5 221.3 L148.0 222.3 L148.5 222.0 L149.0 221.7 L149.5 221.4 L150.0 221.1 L150.5 220.9 L151.0 220.8 L151.5 220.6 L152.0 220.5 L152.5 221.2 L153.0 221.9 L153.5 222.7 L154.0 223.4 L154.5 223.8 L155.0 224.1 L155.5 224.5 L156.0 224.8 L156.5 224.1 L157.0 223.3 L157.5 222.5 L158.0 221.8 L158.5 222.7 L159.0 223.6 L159.5 224.5 L160.0 225.4 L160.5 224.8 L161.0 224.3 L161.5 223.7 L162.0 223.1 L162.5 222.5 L163.0 221.8 L163.5 221.1 L164.0 220.4 L164.5 220.7 L165.0 221.1 L165.5 221.4 L166.0 221.7 L166.5 222.4 L167.0 223.2 L167.5 223.9 L168.0 224.7 L168.5 222.0 L169.0 219.4 L169.5 216.8 L170.0 214.2 L170.5 216.7 L171.0 219.3 L171.5 221.8 L172.0 224.3 L172.5 225.2 L173.0 226.1 L173.5 226.9 L174.0 227.8 L174.5 227.6 L175.0 227.3 L175.5 227.1 L176.0 226.8 L176.5 225.2 L177.0 223.6 L177.5 222.0 L178.0 220.4 L178.5 221.3 L179.0 222.2 L179.5 223.1 L180.0 224.0 L180.5 225.2 L181.0 226.4 L181.5 227.5 L182.0 228.7 L182.5 227.6 L183.0 226.6 L183.5 225.6 L184.0 224.5 L184.5 224.8 L185.0 225.0 L185.5 225.2 L186.0 225.5 L186.5 225.9 L187.0 226.4 L187.5 226.8 L188.0 227.3 L188.5 227.0 L189.0 226.8 L189.5 226.5 L190.0 226.3 L190.5 226.7 L191.0 227.2 L191.5 227.6 L192.0 228.1 L192.5 228.2 L193.0 228.3 L193.5 228.4 L194.0 228.6 L194.5 228.5 L195.0 228.5 L195.5 228.5 L196.0 228.4 L196.5 228.8 L197.0 229.1 L197.5 229.4 L198.0 229.7 L198.5 228.8 L199.0 227.8 L199.5 226.8 L200.0 225.9 L200.5 225.9 L201.0 225.8 L201.5 225.8 L202.0 225.8 L202.5 226.3 L203.0 226.8 L203.5 227.3 L204.0 227.8 L204.5 227.6 L205.0 227.3 L205.5 227.1 L206.0 226.9 L206.5 227.7 L207.0 228.4 L207.5 229.2 L208.0 230.0 L208.5 230.2 L209.0 230.4 L209.5 230.6 L210.0 230.8 L210.5 230.9 L211.0 231.0 L211.5 231.1 L212.0 231.2 L212.5 231.6 L213.0 231.9 L213.5 232.2 L214.0 232.6 L214.5 232.0 L215.0 231.5 L215.5 231.0 L216.0 230.4 L216.5 229.9 L217.0 229.3 L217.5 228.7 L218.0 228.1 L218.5 229.1 L219.0 230.1 L219.5 231.0 L220.0 232.0 L220.5 232.2 L221.0 232.4 L221.5 232.6 L222.0 232.8 L222.5 233.2 L223.0 233.6 L223.5 234.0 L224.0 234.4 L224.5 233.4 L225.0 232.4 L225.5 231.4 L226.0 230.3 L226.5 230.0 L227.0 229.6 L227.5 229.2 L228.0 228.8 L228.5 230.0 L229.0 231.2 L229.5 232.3 L230.0 233.5 L230.5 233.2 L231.0 232.9 L231.5 232.6 L232.0 232.3 L232.5 232.8 L233.0 233.3 L233.5 233.8 L234.0 234.3 L234.5 233.7 L235.0 233.1 L235.5 232.5 L236.0 231.9 L236.5 232.6 L237.0 233.2 L237.5 233.8 L238.0 234.5 L238.5 233.8 L239.0 233.0 L239.5 232.3 L240.0 231.6 L240.5 231.9 L241.0 232.3 L241.5 232.6 L242.0 233.0 L242.5 233.4 L243.0 233.9 L243.5 234.3 L244.0 234.8 L244.5 233.9 L245.0 233.0 L245.5 232.1 L246.0 231.2 L246.5 231.5 L247.0 231.8 L247.5 232.1 L248.0 232.3 L248.5 233.0 L249.0 233.7 L249.5 234.3 L250.0 235.0 L250.5 234.3 L251.0 233.7 L251.5 233.1 L252.0 232.5 L252.5 233.1 L253.0 233.8 L253.5 234.4 L254.0 235.1 L254.5 235.1 L255.0 235.1 L255.5 235.2 L256.0 235.2 L256.5 234.2 L257.0 233.2 L257.5 232.1 L258.0 231.1 L258.5 231.9 L259.0 232.7 L259.5 233.5 L260.0 234.3 L260.5 234.4 L261.0 234.4 L261.5 234.5 L262.0 234.6 L262.5 235.3 L263.0 235.9 L263.5 236.6 L264.0 237.2 L264.5 236.9 L265.0 236.6 L265.5 236.3 L266.0 235.9 L266.5 236.2 L267.0 236.5 L267.5 236.8 L268.0 237.0 L268.5 237.1 L269.0 237.3 L269.5 237.4 L270.0 237.5 L270.5 237.1 L271.0 236.8 L271.5 236.4 L272.0 236.1 L272.5 235.6 L273.0 235.2 L273.5 234.7 L274.0 234.3 L274.5 233.7 L275.0 233.2 L275.5 232.6 L276.0 232.1 L276.5 233.7 L277.0 235.3 L277.5 237.0 L278.0 238.6 L278.5 238.4 L279.0 238.2 L279.5 237.9 L280.0 237.7 L280.5 238.0 L281.0 238.3 L281.5 238.6 L282.0 238.9 L282.5 238.5 L283.0 238.1 L283.5 237.8 L284.0 237.4 L284.5 237.7 L285.0 238.0 L285.5 238.3 L286.0 238.7 L286.5 237.9 L287.0 237.3 L287.5 236.6 L288.0 235.9 L288.5 236.8 L289.0 237.7 L289.5 238.6 L290.0 239.5 L290.5 239.6 L291.0 239.6 L291.5 239.6 L292.0 239.6 L292.5 239.2 L293.0 238.8 L293.5 238.3 L294.0 237.9 L294.5 238.1 L295.0 238.3 L295.5 238.4 L296.0 238.6 L296.5 238.9 L297.0 239.3 L297.5 239.6 L298.0 239.9 L298.5 239.8 L299.0 239.6 L299.5 239.5 L300.0 239.3 L300.5 238.8 L301.0 238.3 L301.5 237.8 L302.0 237.3 L302.5 237.3 L303.0 237.2 L303.5 237.2 L304.0 237.1 L304.5 237.2 L305.0 237.3 L305.5 237.4 L306.0 237.4 L306.5 236.7 L307.0 236.0 L307.5 235.3 L308.0 234.5 L308.5 234.5 L309.0 234.5 L309.5 234.5 L310.0 234.4 L310.5 233.8 L311.0 233.1 L311.5 232.4 L312.0 231.7 L312.5 230.6 L313.0 229.4 L313.5 228.2 L314.0 227.0 L314.5 226.2 L315.0 225.4 L315.5 224.5 L316.0 223.6 L316.5 223.9 L317.0 224.1 L317.5 224.1 L318.0 224.1 L318.5 222.1 L319.0 220.1 L319.5 217.9 L320.0 215.7 L320.5 214.2 L321.0 212.6 L321.5 211.0 L322.0 209.3 L322.5 207.4 L323.0 205.6 L323.5 204.0 L324.0 202.5 L324.5 201.4 L325.0 200.6 L325.5 200.1 L326.0 200.0 L326.5 200.4 L327.0 201.1 L327.5 202.2 L328.0 203.5 L328.5 204.8 L329.0 206.3 L329.5 207.9 L330.0 209.6 L330.5 211.7 L331.0 213.9 L331.5 216.0 L332.0 218.0 L332.5 219.7 L333.0 221.4 L333.5 222.9 L334.0 224.3 L334.5 225.6 L335.0 226.7 L335.5 227.8 L336.0 228.8 L336.5 229.6 L337.0 230.3 L337.5 230.9 L338.0 231.4 L338.5 231.6 L339.0 231.7 L339.5 231.7 L340.0 231.6 L340.5 232.5 L341.0 233.3 L341.5 234.1 L342.0 234.9 L342.5 234.9 L343.0 234.8 L343.5 234.7 L344.0 234.6 L344.5 234.3 L345.0 234.0 L345.5 233.6 L346.0 233.2 L346.5 233.6 L347.0 234.0 L347.5 234.4 L348.0 234.8 L348.5 235.2 L349.0 235.6 L349.5 236.0 L350.0 236.4 L350.5 236.2 L351.0 235.9 L351.5 235.6 L352.0 235.3 L352.5 235.6 L353.0 235.9 L353.5 236.1 L354.0 236.4 L354.5 235.7 L355.0 235.1 L355.5 234.4 L356.0 233.8 L356.5 233.6 L357.0 233.4 L357.5 233.2 L358.0 233.0 L358.5 233.4 L359.0 233.8 L359.5 234.1 L360.0 234.5 L360.5 233.6 L361.0 232.7 L361.5 231.8 L362.0 230.9 L362.5 229.9 L363.0 228.9 L363.5 227.8 L364.0 226.7 L364.5 226.6 L365.0 226.4 L365.5 226.2 L366.0 225.9 L366.5 225.8 L367.0 225.6 L367.5 225.4 L368.0 225.1 L368.5 223.7 L369.0 222.3 L369.5 220.8 L370.0 219.2 L370.5 218.0 L371.0 216.6 L371.5 215.2 L372.0 213.6 L372.5 211.5 L373.0 209.2 L373.5 206.8 L374.0 204.2 L374.5 201.5 L375.0 198.8 L375.5 195.8 L376.0 192.7 L376.5 189.7 L377.0 186.6 L377.5 183.5 L378.0 180.3 L378.5 176.8 L379.0 173.5 L379.5 170.4 L380.0 167.6 L380.5 164.8 L381.0 162.5 L381.5 160.6 L382.0 159.3 L382.5 158.5 L383.0 158.2 L383.5 158.4 L384.0 158.9 L384.5 160.1 L385.0 161.5 L385.5 163.1 L386.0 164.9 L386.5 166.5 L387.0 168.2 L387.5 169.9 L388.0 171.6 L388.5 173.3 L389.0 175.0 L389.5 176.8 L390.0 178.6 L390.5 180.7 L391.0 182.9 L391.5 185.1 L392.0 187.2 L392.5 189.2 L393.0 191.1 L393.5 192.7 L394.0 194.1 L394.5 194.9 L395.0 195.3 L395.5 195.2 L396.0 194.5 L396.5 192.9 L397.0 190.6 L397.5 187.6 L398.0 183.9 L398.5 179.3 L399.0 174.1 L399.5 168.2 L400.0 161.7 L400.5 155.1 L401.0 148.1 L401.5 140.7 L402.0 133.2 L402.5 126.2 L403.0 119.3 L403.5 113.0 L404.0 107.4 L404.5 102.2 L405.0 98.2 L405.5 95.5 L406.0 94.2 L406.5 95.0 L407.0 97.4 L407.5 101.1 L408.0 106.2 L408.5 111.9 L409.0 118.6 L409.5 126.0 L410.0 133.8 L410.5 142.1 L411.0 150.4 L411.5 158.5 L412.0 166.4 L412.5 174.0 L413.0 181.2 L413.5 187.8 L414.0 193.9 L414.5 199.0 L415.0 203.5 L415.5 207.5 L416.0 211.0 L416.5 214.6 L417.0 217.9 L417.5 220.7 L418.0 223.3 L418.5 225.1 L419.0 226.8 L419.5 228.1 L420.0 229.3 L420.5 230.9 L421.0 232.3 L421.5 233.7 L422.0 234.9 L422.5 235.3 L423.0 235.7 L423.5 236.0 L424.0 236.3 L424.5 237.1 L425.0 238.0 L425.5 238.8 L426.0 239.5 L426.5 239.9 L427.0 240.2 L427.5 240.6 L428.0 240.8 L428.5 240.7 L429.0 240.5 L429.5 240.2 L430.0 240.0 L430.5 240.1 L431.0 240.2 L431.5 240.3 L432.0 240.4 L432.5 240.9 L433.0 241.3 L433.5 241.8 L434.0 242.3 L434.5 241.3 L435.0 240.3 L435.5 239.3 L436.0 238.3 L436.5 239.6 L437.0 241.0 L437.5 242.4 L438.0 243.7 L438.5 243.5 L439.0 243.3 L439.5 243.1 L440.0 242.8 L440.5 242.8 L441.0 242.8 L441.5 242.8 L442.0 242.8 L442.5 243.2 L443.0 243.5 L443.5 243.9 L444.0 244.3 L444.5 244.0 L445.0 243.8 L445.5 243.6 L446.0 243.4 L446.5 243.8 L447.0 244.3 L447.5 244.8 L448.0 245.2 L448.5 244.0 L449.0 242.7 L449.5 241.5 L450.0 240.2 L450.5 241.5 L451.0 242.7 L451.5 243.9 L452.0 245.1 L452.5 245.1 L453.0 245.0 L453.5 244.9 L454.0 244.8 L454.5 244.1 L455.0 243.4 L455.5 242.7 L456.0 241.9 L456.5 242.5 L457.0 243.1 L457.5 243.7 L458.0 244.3 L458.5 244.9 L459.0 245.4 L459.5 245.9 L460.0 246.5 L460.5 246.4 L461.0 246.3 L461.5 246.2 L462.0 246.1 L462.5 245.5 L463.0 244.8 L463.5 244.1 L464.0 243.4 L464.5 243.9 L465.0 244.3 L465.5 244.8 L466.0 245.3 L466.5 245.4 L467.0 245.5 L467.5 245.5 L468.0 245.6 L468.5 246.0 L469.0 246.5 L469.5 246.9 L470.0 247.3 L470.5 246.8 L471.0 246.3 L471.5 245.7 L472.0 245.2 L472.5 245.3 L473.0 245.4 L473.5 245.5 L474.0 245.5 L474.5 245.2 L475.0 244.9 L475.5 244.6 L476.0 244.4 L476.5 244.9 L477.0 245.4 L477.5 245.9 L478.0 246.4 L478.5 246.1 L479.0 245.8 L479.5 245.4 L480.0 245.1 L480.5 245.5 L481.0 245.8 L481.5 246.2 L482.0 246.5 L482.5 246.7 L483.0 246.9 L483.5 247.1 L484.0 247.3 L484.5 247.1 L485.0 246.9 L485.5 246.8 L486.0 246.6 L486.5 246.8 L487.0 246.9 L487.5 247.0 L488.0 247.2 L488.5 245.7 L489.0 244.1 L489.5 242.6 L490.0 241.1 L490.5 242.7 L491.0 244.2 L491.5 245.7 L492.0 247.3 L492.5 247.3 L493.0 247.4 L493.5 247.5 L494.0 247.5 L494.5 247.3 L495.0 247.1 L495.5 246.9 L496.0 246.7 L496.5 246.7 L497.0 246.7 L497.5 246.7 L498.0 246.7 L498.5 247.0 L499.0 247.4 L499.5 247.8 L500.0 248.2 L500.5 248.0 L501.0 247.8 L501.5 247.5 L502.0 247.3 L502.5 247.5 L503.0 247.7 L503.5 247.9 L504.0 248.0 L504.5 248.0 L505.0 248.0 L505.5 248.1 L506.0 248.1 L506.5 247.7 L507.0 247.3 L507.5 246.9 L508.0 246.5 L508.5 246.9 L509.0 247.3 L509.5 247.8 L510.0 248.2 L510.5 248.1 L511.0 248.0 L511.5 247.9 L512.0 247.7 L512.5 247.1 L513.0 246.4 L513.5 245.8 L514.0 245.1 L514.5 245.7 L515.0 246.4 L515.5 247.0 L516.0 247.6 L516.5 248.0 L517.0 248.3 L517.5 248.7 L518.0 249.0 L518.5 248.3 L519.0 247.7 L519.5 247.0 L520.0 246.3 L520.5 245.9 L521.0 245.5 L521.5 245.0 L522.0 244.6 L522.5 245.1 L523.0 245.5 L523.5 246.0 L524.0 246.5 L524.5 247.0 L525.0 247.5 L525.5 248.0 L526.0 248.5 L526.5 248.7 L527.0 248.9 L527.5 249.0 L528.0 249.2 L528.5 249.2 L529.0 249.2 L529.5 249.3 L530.0 249.3 L530.5 249.2 L531.0 249.2 L531.5 249.2 L532.0 249.2 L532.5 248.3 L533.0 247.4 L533.5 246.5 L534.0 245.7 L534.5 246.7 L535.0 247.8 L535.5 248.8 L536.0 249.9 L536.5 249.4 L537.0 248.9 L537.5 248.4 L538.0 247.9 L538.5 248.4 L539.0 248.9 L539.5 249.4 L540.0 249.8 L540.5 248.7 L541.0 247.6 L541.5 246.5 L542.0 245.4 L542.5 246.3 L543.0 247.3 L543.5 248.2 L544.0 249.2 L544.5 249.1 L545.0 249.1 L545.5 249.1 L546.0 249.0 L546.5 248.5 L547.0 247.9 L547.5 247.3 L548.0 246.8 L548.5 246.6 L549.0 246.3 L549.5 246.1 L550.0 245.9 L550.5 246.7 L551.0 247.5 L551.5 248.4 L552.0 249.2 L552.5 249.3 L553.0 249.4 L553.5 249.5 L554.0 249.6 L554.5 249.4 L555.0 249.2 L555.5 249.0 L556.0 248.8 L556.5 249.0 L557.0 249.3 L557.5 249.5 L558.0 249.7 L558.5 250.1 L559.0 250.5 L559.5 250.8 L560.0 251.2 L560.5 250.9 L561.0 250.7 L561.5 250.4 L562.0 250.1 L562.5 250.3 L563.0 250.4 L563.5 250.6 L564.0 250.7 L564.5 250.1 L565.0 249.6 L565.5 249.1 L566.0 248.6 L566.5 249.3 L567.0 250.1 L567.5 250.8 L568.0 251.6 L568.5 251.6 L569.0 251.6 L569.5 251.6 L570.0 251.6 L570.5 251.5 L571.0 251.4 L571.5 251.3 L572.0 251.2 L572.5 251.3 L573.0 251.4 L573.5 251.5 L574.0 251.6 L574.5 251.4 L575.0 251.1 L575.5 250.9 L576.0 250.7 L576.5 250.9 L577.0 251.0 L577.5 251.2 L578.0 251.4 L578.5 251.2 L579.0 251.0 L579.5 250.8 L580.0 250.5 L580.5 250.5 L581.0 250.5 L581.5 250.5 L582.0 250.5 L582.5 250.0 L583.0 249.6 L583.5 249.1 L584.0 248.6 L584.5 248.7 L585.0 248.8 L585.5 248.8 L586.0 248.9 L586.5 249.1 L587.0 249.3 L587.5 249.5 L588.0 249.7 L588.5 249.4 L589.0 249.2 L589.5 248.9 L590.0 248.7 L590.5 248.8 L591.0 249.0 L591.5 249.2 L592.0 249.4 L592.5 249.1 L593.0 248.8 L593.5 248.5 L594.0 248.2 L594.5 248.2 L595.0 248.2 L595.5 248.3 L596.0 248.3 L596.5 248.3 L597.0 248.4 L597.5 248.4 L598.0 248.4 L598.5 248.4 L599.0 248.3 L599.5 248.2 L600.0 248.0 L600.5 247.6 L601.0 247.2 L601.5 246.7 L602.0 246.2 L602.5 246.0 L603.0 245.8 L603.5 245.5 L604.0 245.2 L604.5 244.1 L605.0 243.0 L605.5 241.8 L606.0 240.7 L606.5 240.0 L607.0 239.3 L607.5 238.7 L608.0 238.1 L608.5 237.0 L609.0 236.0 L609.5 235.1 L610.0 234.3 L610.5 234.4 L611.0 234.6 L611.5 234.9 L612.0 235.4 L612.5 235.4 L613.0 235.6 L613.5 235.9 L614.0 236.3 L614.5 236.8 L615.0 237.4 L615.5 238.1 L616.0 238.8 L616.5 239.7 L617.0 240.5 L617.5 241.3 L618.0 242.1 L618.5 243.5 L619.0 244.8 L619.5 246.0 L620.0 247.2 L620.5 247.5 L621.0 247.8 L621.5 248.0 L622.0 248.1 L622.5 248.6 L623.0 249.1 L623.5 249.5 L624.0 249.8 L624.5 249.7 L625.0 249.6 L625.5 249.5 L626.0 249.3 L626.5 249.4 L627.0 249.5 L627.5 249.6 L628.0 249.8 L628.5 250.1 L629.0 250.5 L629.5 250.9 L630.0 251.2 L630.5 250.5 L631.0 249.7 L631.5 249.0 L632.0 248.2 L632.5 248.7 L633.0 249.2 L633.5 249.7 L634.0 250.1 L634.5 250.2 L635.0 250.2 L635.5 250.3 L636.0 250.3 L636.5 250.5 L637.0 250.8 L637.5 251.0 L638.0 251.2 L638.5 251.1 L639.0 251.0 L639.5 250.9 L640.0 250.8 L640.5 250.8 L641.0 250.8 L641.5 250.8 L642.0 250.8 L642.5 250.7 L643.0 250.7 L643.5 250.7 L644.0 250.6 L644.5 250.3 L645.0 249.9 L645.5 249.6 L646.0 249.2 L646.5 249.7 L647.0 250.1 L647.5 250.5 L648.0 250.9 L648.5 250.6 L649.0 250.3 L649.5 249.9 L650.0 249.5 L650.5 249.2 L651.0 248.9 L651.5 248.6 L652.0 248.2 L652.5 247.8 L653.0 247.3 L653.5 246.8 L654.0 246.4 L654.5 245.6 L655.0 244.9 L655.5 244.2 L656.0 243.6 L656.5 244.0 L657.0 244.4 L657.5 244.9 L658.0 245.4 L658.5 245.6 L659.0 245.8 L659.5 246.0 L660.0 246.3 L660.5 246.3 L661.0 246.3 L661.5 246.4 L662.0 246.4 L662.5 245.6 L663.0 244.8 L663.5 244.0 L664.0 243.2 L664.5 243.9 L665.0 244.6 L665.5 245.4 L666.0 246.2 L666.5 246.9 L667.0 247.7 L667.5 248.4 L668.0 249.2 L668.5 248.9 L669.0 248.5 L669.5 248.2 L670.0 247.9 L670.5 247.8 L671.0 247.7 L671.5 247.5 L672.0 247.4 L672.5 248.2 L673.0 249.0 L673.5 249.8 L674.0 250.6 L674.5 250.1 L675.0 249.5 L675.5 248.9 L676.0 248.4 L676.5 249.0 L677.0 249.6 L677.5 250.2 L678.0 250.8 L678.5 251.0 L679.0 251.1 L679.5 251.2 L680.0 251.3 L680.5 250.8 L681.0 250.4 L681.5 250.0 L682.0 249.6 L682.5 250.2 L683.0 250.7 L683.5 251.3 L684.0 251.8 L684.5 251.8 L685.0 251.9 L685.5 251.9 L686.0 251.9 L686.5 251.7 L687.0 251.5 L687.5 251.3 L688.0 251.1 L688.5 251.2 L689.0 251.3 L689.5 251.3 L690.0 251.4 L690.5 251.5 L691.0 251.5 L691.5 251.5 L692.0 251.5 L692.5 251.2 L693.0 251.0 L693.5 250.7 L694.0 250.4 L694.5 250.3 L695.0 250.2 L695.5 250.1 L696.0 249.9 L696.5 250.4 L697.0 250.8 L697.5 251.2 L698.0 251.7 L698.5 250.4 L699.0 249.2 L699.5 247.9 L700.0 246.7 L700.5 247.9 L701.0 249.1 L701.5 250.3 L702.0 251.5 L702.5 251.4 L703.0 251.2 L703.5 251.0 L704.0 250.9 L704.5 250.7 L705.0 250.6 L705.5 250.5 L706.0 250.4 L706.5 250.7 L707.0 251.1 L707.5 251.4 L708.0 251.8 L708.5 251.7 L709.0 251.6 L709.5 251.5 L710.0 251.4 L710.5 251.7 L711.0 251.9 L711.5 252.1 L712.0 252.4 L712.5 252.3 L713.0 252.1 L713.5 252.0 L714.0 251.8 L714.5 251.4 L715.0 250.8 L715.5 250.3 L716.0 249.8 L716.5 250.1 L717.0 250.5 L717.5 250.8 L718.0 251.2 L718.5 250.8 L719.0 250.4 L719.5 250.0 L720.0 249.7 L720.5 250.2 L721.0 250.7 L721.5 251.2 L722.0 251.7 L722.5 251.2 L723.0 250.7 L723.5 250.2 L724.0 249.8 L724.5 250.2 L725.0 250.7 L725.5 251.1 L726.0 251.6 L726.5 251.3 L727.0 251.0 L727.5 250.7 L728.0 250.4 L728.5 251.0 L729.0 251.5 L729.5 252.1 L730.0 252.6 L730.5 252.7 L731.0 252.8 L731.5 252.9 L732.0 252.9 L732.5 252.3 L733.0 251.8 L733.5 251.2 L734.0 250.6 L734.5 250.9 L735.0 251.2 L735.5 251.6 L736.0 251.9 L736.5 252.1 L737.0 252.4 L737.5 252.7 L738.0 252.9 L738.5 252.8 L739.0 252.6 L739.5 252.5 L740.0 252.3 L740.5 252.6 L741.0 252.9 L741.5 253.2 L742.0 253.5 L742.5 253.3 L743.0 253.1 L743.5 252.9 L744.0 252.7 L744.5 252.5 L745.0 252.4 L745.5 252.3 L746.0 252.2 L746.5 252.3 L747.0 252.4 L747.5 252.5 L748.0 252.6 L748.5 252.7 L749.0 252.7 L749.5 252.7 L750.0 252.7 L750.5 252.5 L751.0 252.3 L751.5 252.0 L752.0 251.7 L752.5 251.2 L753.0 250.6 L753.5 250.1 L754.0 249.5 L754.5 249.1 L755.0 248.7 L755.5 248.3 L756.0 247.9 L756.5 247.8 L757.0 247.6 L757.5 247.5 L758.0 247.2 L758.5 246.6 L759.0 245.9 L759.5 245.2 L760.0 244.5 L760.5 242.9 L761.0 241.3 L761.5 239.7 L762.0 238.2 L762.5 237.8 L763.0 237.5 L763.5 237.1 L764.0 236.8 L764.5 236.5 L765.0 236.2 L765.5 236.0 L766.0 235.9 L766.5 235.8 L767.0 235.9 L767.5 236.0 L768.0 236.3 L768.5 236.3 L769.0 236.4 L769.5 236.6 L770.0 236.9 L770.5 237.7 L771.0 238.5 L771.5 239.4 L772.0 240.4 L772.5 241.2 L773.0 242.1 L773.5 242.9 L774.0 243.7 L774.5 244.4 L775.0 245.1 L775.5 245.8 L776.0 246.5 L776.5 246.4 L777.0 246.4 L777.5 246.3 L778.0 246.1 L778.5 246.9 L779.0 247.6 L779.5 248.4 L780.0 249.0 L780.5 249.9 L781.0 250.7 L781.5 251.4 L782.0 252.2 L782.5 252.3 L783.0 252.4 L783.5 252.4 L784.0 252.4 L784.5 252.5 L785.0 252.5 L785.5 252.6 L786.0 252.6 L786.5 252.8 L787.0 253.1 L787.5 253.3 L788.0 253.6 L788.5 253.2 L789.0 252.9 L789.5 252.5 L790.0 252.2 L790.5 252.4 L791.0 252.5 L791.5 252.7 L792.0 252.9 L792.5 252.7 L793.0 252.4 L793.5 252.2 L794.0 251.9 L794.5 252.3 L795.0 252.8 L795.5 253.2 L796.0 253.6 L796.5 252.9 L797.0 252.3 L797.5 251.6 L798.0 250.9 L798.5 251.0 L799.0 251.1 L799.5 251.2 L800.0 251.2 L800.5 251.8 L801.0 252.3 L801.5 252.9 L802.0 253.4 L802.5 253.2 L803.0 253.1 L803.5 252.9 L804.0 252.7 L804.5 253.0 L805.0 253.2 L805.5 253.5 L806.0 253.7 L806.5 253.6 L807.0 253.4 L807.5 253.3 L808.0 253.1 L808.5 252.5 L809.0 251.9 L809.5 251.3 L810.0 250.8 L810.5 251.0 L811.0 251.2 L811.5 251.5 L812.0 251.7 L812.5 251.5 L813.0 251.3 L813.5 251.0 L814.0 250.8 L814.5 251.4 L815.0 252.0 L815.5 252.6 L816.0 253.2 L816.5 253.4 L817.0 253.5 L817.5 253.7 L818.0 253.8 L818.5 253.5 L819.0 253.2 L819.5 252.9 L820.0 252.6 L820.5 252.4 L821.0 252.1 L821.5 251.8 L822.0 251.6 L822.5 251.8 L823.0 252.0 L823.5 252.3 L824.0 252.5 L824.5 252.4 L825.0 252.4 L825.5 252.3 L826.0 252.3 L826.5 252.4 L827.0 252.7 L827.5 252.9 L828.0 253.1 L828.5 252.6 L829.0 252.2 L829.5 251.7 L830.0 251.3 L830.5 251.7 L831.0 252.2 L831.5 252.6 L832.0 253.1 L832.5 253.3 L833.0 253.5 L833.5 253.7 L834.0 253.9 L834.5 254.0 L835.0 254.1 L835.5 254.2 L836.0 254.3 L836.5 253.8 L837.0 253.4 L837.5 253.0 L838.0 252.5 L838.5 252.9 L839.0 253.3 L839.5 253.6 L840.0 254.0 L840.5 253.7 L841.0 253.5 L841.5 253.2 L842.0 252.9 L842.5 253.1 L843.0 253.3 L843.5 253.5 L844.0 253.7 L844.5 253.4 L845.0 253.0 L845.5 252.7 L846.0 252.3 L846.5 252.4 L847.0 252.5 L847.5 252.6 L848.0 252.7 L848.5 252.8 L849.0 252.9 L849.5 253.1 L850.0 253.2 L850.5 252.5 L851.0 251.8 L851.5 251.1 L852.0 250.3 L852.5 251.0 L853.0 251.8 L853.5 252.5 L854.0 253.2 L854.5 253.3 L855.0 253.3 L855.5 253.4 L856.0 253.5 L856.5 253.2 L857.0 253.0 L857.5 252.7 L858.0 252.5 L858.5 251.8 L859.0 251.2 L859.5 250.6 L860.0 250.0 L860.5 250.8 L861.0 251.7 L861.5 252.5 L862.0 253.4 L862.5 252.9 L863.0 252.4 L863.5 251.9 L864.0 251.4 L864.5 251.7 L865.0 251.9 L865.5 252.2 L866.0 252.4 L866.5 252.5 L867.0 252.6 L867.5 252.6 L868.0 252.6 L868.5 252.6 L869.0 252.5 L869.5 252.4 L870.0 252.4 L870.5 251.9 L871.0 251.4 L871.5 251.0 L872.0 250.5 L872.5 250.4 L873.0 250.2 L873.5 250.0 L874.0 249.8 L874.5 249.6 L875.0 249.4 L875.5 249.1 L876.0 248.7 L876.5 248.6 L877.0 248.4 L877.5 248.2 L878.0 248.0 L878.5 247.3 L879.0 246.5 L879.5 245.8 L880.0 245.1 L880.5 244.6 L881.0 244.1 L881.5 243.6 L882.0 243.1 L882.5 242.5 L883.0 242.0 L883.5 241.5 L884.0 241.0 L884.5 240.5 L885.0 240.0 L885.5 239.5 L886.0 239.1 L886.5 238.8 L887.0 238.6 L887.5 238.5 L888.0 238.3 L888.5 237.8 L889.0 237.3 L889.5 236.8 L890.0 236.4 L890.5 236.5 L891.0 236.7 L891.5 236.9 L892.0 237.2 L892.5 237.3 L893.0 237.4 L893.5 237.7 L894.0 237.9 L894.5 238.3 L895.0 238.7 L895.5 239.2 L896.0 239.7 L896.5 240.1 L897.0 240.4 L897.5 240.8 L898.0 241.2 L898.5 241.7 L899.0 242.2 L899.5 242.7 L900.0 243.2 L900.5 244.0 L901.0 244.7 L901.5 245.5 L902.0 246.2 L902.5 246.8 L903.0 247.3 L903.5 247.8 L904.0 248.3 L904.5 249.1 L905.0 249.8 L905.5 250.5 L906.0 251.2 L906.5 250.8 L907.0 250.3 L907.5 249.9 L908.0 249.3 L908.5 249.9 L909.0 250.4 L909.5 250.9 L910.0 251.4 L910.5 251.6 L911.0 251.9 L911.5 252.1 L912.0 252.3 L912.5 252.1 L913.0 251.9 L913.5 251.7 L914.0 251.5 L914.5 251.7 L915.0 251.9 L915.5 252.2 L916.0 252.4 L916.5 252.4 L917.0 252.4 L917.5 252.4 L918.0 252.5 L918.5 252.8 L919.0 253.1 L919.5 253.4 L920.0 253.7 L920.5 253.9 L921.0 254.1 L921.5 254.4 L922.0 254.6 L922.5 254.6 L923.0 254.6 L923.5 254.5 L924.0 254.5 L924.5 254.3 L925.0 254.1 L925.5 253.9 L926.0 253.7 L926.5 253.8 L927.0 253.9 L927.5 254.0 L928.0 254.1 L928.5 254.1 L929.0 254.1 L929.5 254.1 L930.0 254.1 L930.5 253.4 L931.0 252.8 L931.5 252.1 L932.0 251.5 L932.5 252.2 L933.0 252.9 L933.5 253.7 L934.0 254.4 L934.5 254.6 L935.0 254.7 L935.5 254.9 L936.0 255.0 L936.5 255.2 L937.0 255.4 L937.5 255.5 L938.0 255.6 L938.5 255.6 L939.0 255.6 L939.5 255.5 L940.0 255.5 L940.5 254.9 L941.0 254.3 L941.5 253.7 L942.0 253.2 L942.5 253.2 L943.0 253.2 L943.5 253.2 L944.0 253.3 L944.5 252.9 L945.0 252.6 L945.5 252.3 L946.0 252.0 L946.5 252.0 L947.0 252.0 L947.5 252.0 L948.0 252.0 L948.5 252.3 L949.0 252.6 L949.5 252.9 L950.0 253.2 L950.5 253.2 L951.0 253.1 L951.5 253.1 L952.0 253.1 L952.5 253.0 L953.0 252.9 L953.5 252.8 L954.0 252.8 L954.5 253.0 L955.0 253.1 L955.5 253.3 L956.0 253.5 L956.5 253.4 L957.0 253.3 L957.5 253.2 L958.0 253.0 L958.5 253.3 L959.0 253.5 L959.5 253.8 L960.0 254.0 L960.5 253.4 L961.0 252.9 L961.5 252.4 L962.0 251.8 L962.5 251.9 L963.0 252.1 L963.5 252.2 L964.0 252.3 L964.5 252.1 L965.0 251.9 L965.5 251.7 L966.0 251.5 L966.5 251.2 L967.0 250.8 L967.5 250.4 L968.0 250.1 L968.5 249.9 L969.0 249.7 L969.5 249.5 L970.0 249.3 L970.5 249.0 L971.0 248.6 L971.5 248.3 L972.0 248.0 L972.5 247.3 L973.0 246.7 L973.5 246.1 L974.0 245.4 L974.5 245.6 L975.0 245.8 L975.5 246.0 L976.0 246.2 L976.5 245.7 L977.0 245.3 L977.5 244.8 L978.0 244.4 L978.5 244.4 L979.0 244.5 L979.5 244.5 L980.0 244.6 L980.5 244.2 L981.0 243.9 L981.5 243.5 L982.0 243.2 L982.5 243.5 L983.0 243.7 L983.5 244.0 L984.0 244.3 L984.5 244.7 L985.0 245.1 L985.5 245.6 L986.0 246.0 L986.5 246.0 L987.0 246.1 L987.5 246.1 L988.0 246.1 L988.5 246.1 L989.0 246.0 L989.5 245.9 L990.0 245.8 L990.5 246.4 L991.0 247.0 L991.5 247.6 L992.0 248.2 L992.5 248.3 L993.0 248.4 L993.5 248.5 L994.0 248.6 L994.5 248.6 L995.0 248.5 L995.5 248.4 L996.0 248.3 L996.5 248.8 L997.0 249.3 L997.5 249.8 L998.0 250.3 L998.5 250.4 L999.0 250.5 L999.5 250.5 L1000.0 250.6 L1000.5 250.2 L1001.0 249.8 L1001.5 249.4 L1002.0 249.0 L1002.5 249.3 L1003.0 249.6 L1003.5 250.0 L1004.0 250.3 L1004.5 250.5 L1005.0 250.7 L1005.5 251.0 L1006.0 251.2 L1006.5 251.1 L1007.0 251.1 L1007.5 251.0 L1008.0 251.0 L1008.5 251.6 L1009.0 252.2 L1009.5 252.8 L1010.0 253.4 L1010.5 253.9 L1011.0 254.3 L1011.5 254.7 L1012.0 255.1 L1012.5 255.3 L1013.0 255.4 L1013.5 255.5 L1014.0 255.6 L1014.5 255.3 L1015.0 255.0 L1015.5 254.7 L1016.0 254.4 L1016.5 254.6 L1017.0 254.7 L1017.5 254.9 L1018.0 255.1 L1018.5 255.1 L1019.0 255.1 L1019.5 255.2 L1020.0 255.2 L1020.5 255.3 L1021.0 255.5 L1021.5 255.7 L1022.0 255.8 L1022.5 255.8 L1023.0 255.9 L1023.5 255.9 L1024.0 255.9 L1024.5 255.6 L1025.0 255.3 L1025.5 255.0 L1026.0 254.8 L1026.5 255.0 L1027.0 255.2 L1027.5 255.4 L1028.0 255.6 L1028.5 255.3 L1029.0 255.1 L1029.5 254.8 L1030.0 254.6 L1030.5 254.9 L1031.0 255.2 L1031.5 255.6 L1032.0 255.9 L1032.5 256.0 L1033.0 256.1 L1033.5 256.2 L1034.0 256.3 L1034.5 256.3 L1035.0 256.3 L1035.5 256.2 L1036.0 256.2 L1036.5 256.1 L1037.0 256.0 L1037.5 255.9 L1038.0 255.8 L1038.5 256.0 L1039.0 256.2 L1039.5 256.4 L1040.0 256.6 L1040.5 256.6 L1041.0 256.6 L1041.5 256.5 L1042.0 256.5 L1042.5 256.4 L1043.0 256.3 L1043.5 256.3 L1044.0 256.2 L1044.5 256.3 L1045.0 256.5 L1045.5 256.7 L1046.0 256.8 L1046.5 256.6 L1047.0 256.4 L1047.5 256.3 L1048.0 256.1 L1048.5 256.2 L1049.0 256.3 L1049.5 256.5 L1050.0 256.6 L1050.5 256.6 L1051.0 256.6 L1051.5 256.7 L1052.0 256.7 L1052.5 256.4 L1052.5 265.4 L1052.0 265.5 L1051.5 265.0 L1051.0 264.5 L1050.5 264.0 L1050.0 263.5 L1049.5 263.8 L1049.0 264.1 L1048.5 264.4 L1048.0 264.7 L1047.5 264.9 L1047.0 265.2 L1046.5 265.5 L1046.0 265.8 L1045.5 265.4 L1045.0 265.0 L1044.5 264.6 L1044.0 264.2 L1043.5 264.2 L1043.0 264.2 L1042.5 264.2 L1042.0 264.2 L1041.5 264.2 L1041.0 264.3 L1040.5 264.4 L1040.0 264.4 L1039.5 264.4 L1039.0 264.4 L1038.5 264.5 L1038.0 264.5 L1037.5 264.8 L1037.0 265.1 L1036.5 265.5 L1036.0 265.8 L1035.5 265.7 L1035.0 265.6 L1034.5 265.4 L1034.0 265.3 L1033.5 264.8 L1033.0 264.3 L1032.5 263.7 L1032.0 263.2 L1031.5 263.2 L1031.0 263.1 L1030.5 263.1 L1030.0 263.0 L1029.5 263.2 L1029.0 263.4 L1028.5 263.6 L1028.0 263.9 L1027.5 263.9 L1027.0 263.9 L1026.5 264.0 L1026.0 264.0 L1025.5 264.1 L1025.0 264.2 L1024.5 264.3 L1024.0 264.4 L1023.5 264.1 L1023.0 263.8 L1022.5 263.5 L1022.0 263.2 L1021.5 263.2 L1021.0 263.2 L1020.5 263.3 L1020.0 263.3 L1019.5 263.6 L1019.0 264.0 L1018.5 264.3 L1018.0 264.6 L1017.5 264.5 L1017.0 264.3 L1016.5 264.2 L1016.0 264.0 L1015.5 263.9 L1015.0 263.7 L1014.5 263.6 L1014.0 263.4 L1013.5 263.5 L1013.0 263.5 L1012.5 263.6 L1012.0 263.6 L1011.5 263.3 L1011.0 262.9 L1010.5 262.5 L1010.0 262.1 L1009.5 262.0 L1009.0 261.9 L1008.5 261.8 L1008.0 261.6 L1007.5 261.6 L1007.0 261.5 L1006.5 261.5 L1006.0 261.5 L1005.5 261.1 L1005.0 260.7 L1004.5 260.4 L1004.0 260.1 L1003.5 260.0 L1003.0 259.8 L1002.5 259.7 L1002.0 259.6 L1001.5 259.7 L1001.0 259.7 L1000.5 259.8 L1000.0 259.9 L999.5 259.8 L999.0 259.7 L998.5 259.6 L998.0 259.5 L997.5 259.5 L997.0 259.6 L996.5 259.6 L996.0 259.6 L995.5 259.1 L995.0 258.6 L994.5 258.2 L994.0 257.7 L993.5 258.2 L993.0 258.7 L992.5 259.2 L992.0 259.7 L991.5 259.1 L991.0 258.5 L990.5 257.9 L990.0 257.3 L989.5 257.1 L989.0 256.9 L988.5 256.7 L988.0 256.5 L987.5 256.3 L987.0 256.2 L986.5 256.0 L986.0 255.8 L985.5 255.8 L985.0 255.8 L984.5 255.7 L984.0 255.7 L983.5 255.5 L983.0 255.3 L982.5 255.1 L982.0 254.9 L981.5 255.4 L981.0 255.9 L980.5 256.4 L980.0 256.9 L979.5 256.3 L979.0 255.8 L978.5 255.3 L978.0 254.8 L977.5 255.0 L977.0 255.3 L976.5 255.6 L976.0 255.9 L975.5 256.1 L975.0 256.3 L974.5 256.6 L974.0 256.8 L973.5 257.1 L973.0 257.4 L972.5 257.6 L972.0 257.9 L971.5 258.1 L971.0 258.2 L970.5 258.4 L970.0 258.6 L969.5 259.1 L969.0 259.5 L968.5 260.0 L968.0 260.5 L967.5 260.6 L967.0 260.7 L966.5 260.8 L966.0 260.9 L965.5 260.9 L965.0 260.9 L964.5 260.9 L964.0 260.9 L963.5 261.1 L963.0 261.3 L962.5 261.6 L962.0 261.8 L961.5 262.0 L961.0 262.1 L960.5 262.3 L960.0 262.4 L959.5 262.4 L959.0 262.3 L958.5 262.2 L958.0 262.1 L957.5 262.3 L957.0 262.6 L956.5 262.8 L956.0 263.1 L955.5 262.9 L955.0 262.8 L954.5 262.7 L954.0 262.5 L953.5 262.7 L953.0 262.9 L952.5 263.1 L952.0 263.2 L951.5 262.7 L951.0 262.2 L950.5 261.7 L950.0 261.3 L949.5 261.5 L949.0 261.7 L948.5 261.9 L948.0 262.1 L947.5 261.9 L947.0 261.7 L946.5 261.5 L946.0 261.4 L945.5 261.4 L945.0 261.4 L944.5 261.4 L944.0 261.5 L943.5 261.8 L943.0 262.2 L942.5 262.5 L942.0 262.9 L941.5 262.9 L941.0 262.8 L940.5 262.8 L940.0 262.7 L939.5 262.7 L939.0 262.7 L938.5 262.6 L938.0 262.6 L937.5 262.8 L937.0 263.1 L936.5 263.3 L936.0 263.5 L935.5 263.1 L935.0 262.7 L934.5 262.3 L934.0 261.9 L933.5 262.0 L933.0 262.1 L932.5 262.2 L932.0 262.3 L931.5 262.4 L931.0 262.4 L930.5 262.5 L930.0 262.5 L929.5 262.5 L929.0 262.5 L928.5 262.5 L928.0 262.6 L927.5 262.5 L927.0 262.5 L926.5 262.4 L926.0 262.4 L925.5 262.8 L925.0 263.3 L924.5 263.7 L924.0 264.1 L923.5 263.5 L923.0 262.9 L922.5 262.3 L922.0 261.7 L921.5 261.7 L921.0 261.7 L920.5 261.7 L920.0 261.6 L919.5 261.4 L919.0 261.3 L918.5 261.1 L918.0 260.9 L917.5 260.8 L917.0 260.7 L916.5 260.7 L916.0 260.6 L915.5 260.8 L915.0 261.1 L914.5 261.3 L914.0 261.5 L913.5 261.6 L913.0 261.6 L912.5 261.6 L912.0 261.6 L911.5 261.5 L911.0 261.3 L910.5 261.2 L910.0 261.0 L909.5 261.2 L909.0 261.3 L908.5 261.5 L908.0 261.6 L907.5 261.3 L907.0 260.9 L906.5 260.6 L906.0 260.1 L905.5 259.7 L905.0 259.2 L904.5 258.7 L904.0 258.1 L903.5 257.6 L903.0 257.1 L902.5 256.5 L902.0 255.9 L901.5 255.5 L901.0 255.0 L900.5 254.6 L900.0 254.1 L899.5 253.5 L899.0 252.8 L898.5 252.2 L898.0 251.7 L897.5 251.0 L897.0 250.4 L896.5 249.8 L896.0 249.3 L895.5 249.2 L895.0 249.1 L894.5 249.1 L894.0 249.1 L893.5 249.1 L893.0 249.0 L892.5 249.1 L892.0 249.2 L891.5 248.9 L891.0 248.7 L890.5 248.5 L890.0 248.4 L889.5 248.4 L889.0 248.4 L888.5 248.4 L888.0 248.4 L887.5 249.2 L887.0 249.9 L886.5 250.7 L886.0 251.6 L885.5 251.4 L885.0 251.2 L884.5 251.0 L884.0 250.8 L883.5 251.9 L883.0 252.9 L882.5 253.9 L882.0 255.0 L881.5 255.0 L881.0 254.9 L880.5 254.9 L880.0 254.8 L879.5 255.3 L879.0 255.8 L878.5 256.3 L878.0 256.8 L877.5 257.8 L877.0 258.7 L876.5 259.6 L876.0 260.5 L875.5 260.6 L875.0 260.6 L874.5 260.6 L874.0 260.5 L873.5 260.7 L873.0 260.8 L872.5 260.8 L872.0 260.9 L871.5 261.1 L871.0 261.3 L870.5 261.4 L870.0 261.6 L869.5 261.7 L869.0 261.8 L868.5 261.9 L868.0 262.1 L867.5 261.7 L867.0 261.3 L866.5 260.9 L866.0 260.5 L865.5 260.9 L865.0 261.3 L864.5 261.6 L864.0 262.0 L863.5 262.1 L863.0 262.2 L862.5 262.2 L862.0 262.3 L861.5 262.0 L861.0 261.7 L860.5 261.3 L860.0 261.0 L859.5 261.6 L859.0 262.1 L858.5 262.7 L858.0 263.3 L857.5 263.1 L857.0 262.9 L856.5 262.7 L856.0 262.5 L855.5 262.2 L855.0 262.0 L854.5 261.7 L854.0 261.4 L853.5 261.4 L853.0 261.3 L852.5 261.3 L852.0 261.3 L851.5 261.4 L851.0 261.5 L850.5 261.6 L850.0 261.6 L849.5 262.1 L849.0 262.5 L848.5 262.9 L848.0 263.4 L847.5 262.7 L847.0 262.1 L846.5 261.5 L846.0 260.9 L845.5 260.9 L845.0 260.9 L844.5 260.8 L844.0 260.8 L843.5 261.2 L843.0 261.6 L842.5 261.9 L842.0 262.3 L841.5 262.1 L841.0 262.0 L840.5 261.8 L840.0 261.7 L839.5 261.6 L839.0 261.6 L838.5 261.5 L838.0 261.4 L837.5 262.1 L837.0 262.9 L836.5 263.6 L836.0 264.2 L835.5 263.7 L835.0 263.2 L834.5 262.7 L834.0 262.2 L833.5 262.0 L833.0 261.9 L832.5 261.7 L832.0 261.5 L831.5 261.6 L831.0 261.7 L830.5 261.8 L830.0 261.8 L829.5 261.7 L829.0 261.6 L828.5 261.5 L828.0 261.5 L827.5 261.2 L827.0 260.9 L826.5 260.7 L826.0 260.5 L825.5 260.5 L825.0 260.5 L824.5 260.5 L824.0 260.5 L823.5 261.2 L823.0 261.9 L822.5 262.5 L822.0 263.2 L821.5 262.9 L821.0 262.6 L820.5 262.3 L820.0 262.0 L819.5 262.0 L819.0 262.0 L818.5 261.9 L818.0 261.9 L817.5 261.7 L817.0 261.5 L816.5 261.2 L816.0 261.0 L815.5 261.4 L815.0 261.8 L814.5 262.2 L814.0 262.6 L813.5 262.6 L813.0 262.6 L812.5 262.6 L812.0 262.6 L811.5 262.2 L811.0 261.9 L810.5 261.7 L810.0 261.4 L809.5 261.3 L809.0 261.1 L808.5 261.0 L808.0 260.9 L807.5 261.8 L807.0 262.6 L806.5 263.4 L806.0 264.2 L805.5 263.7 L805.0 263.2 L804.5 262.7 L804.0 262.2 L803.5 262.2 L803.0 262.1 L802.5 262.1 L802.0 262.1 L801.5 262.4 L801.0 262.6 L800.5 262.9 L800.0 263.2 L799.5 262.8 L799.0 262.4 L798.5 262.1 L798.0 261.7 L797.5 261.6 L797.0 261.5 L796.5 261.4 L796.0 261.3 L795.5 261.1 L795.0 260.8 L794.5 260.6 L794.0 260.4 L793.5 260.4 L793.0 260.3 L792.5 260.3 L792.0 260.3 L791.5 261.6 L791.0 262.9 L790.5 264.2 L790.0 265.5 L789.5 264.5 L789.0 263.6 L788.5 262.7 L788.0 261.8 L787.5 261.6 L787.0 261.5 L786.5 261.3 L786.0 261.1 L785.5 261.6 L785.0 262.1 L784.5 262.5 L784.0 263.0 L783.5 262.8 L783.0 262.6 L782.5 262.3 L782.0 262.1 L781.5 262.1 L781.0 262.1 L780.5 262.1 L780.0 262.0 L779.5 261.3 L779.0 260.5 L778.5 259.7 L778.0 258.8 L777.5 258.0 L777.0 257.1 L776.5 256.1 L776.0 255.2 L775.5 255.1 L775.0 255.0 L774.5 254.9 L774.0 254.7 L773.5 253.9 L773.0 253.0 L772.5 252.1 L772.0 251.2 L771.5 250.3 L771.0 249.4 L770.5 248.5 L770.0 247.7 L769.5 247.3 L769.0 247.1 L768.5 246.9 L768.0 246.8 L767.5 246.9 L767.0 247.1 L766.5 247.4 L766.0 247.8 L765.5 248.1 L765.0 248.4 L764.5 248.8 L764.0 249.3 L763.5 250.1 L763.0 250.8 L762.5 251.6 L762.0 252.5 L761.5 252.8 L761.0 253.1 L760.5 253.4 L760.0 253.6 L759.5 254.7 L759.0 255.8 L758.5 256.9 L758.0 257.9 L757.5 258.0 L757.0 258.0 L756.5 257.9 L756.0 257.8 L755.5 258.1 L755.0 258.4 L754.5 258.7 L754.0 258.9 L753.5 259.3 L753.0 259.7 L752.5 260.0 L752.0 260.3 L751.5 260.6 L751.0 260.8 L750.5 261.0 L750.0 261.2 L749.5 261.6 L749.0 262.0 L748.5 262.3 L748.0 262.6 L747.5 263.1 L747.0 263.6 L746.5 264.1 L746.0 264.5 L745.5 263.6 L745.0 262.7 L744.5 261.8 L744.0 260.9 L743.5 260.8 L743.0 260.7 L742.5 260.6 L742.0 260.5 L741.5 260.7 L741.0 260.9 L740.5 261.0 L740.0 261.2 L739.5 261.0 L739.0 260.7 L738.5 260.5 L738.0 260.3 L737.5 260.5 L737.0 260.7 L736.5 260.9 L736.0 261.1 L735.5 260.8 L735.0 260.6 L734.5 260.3 L734.0 260.1 L733.5 260.3 L733.0 260.5 L732.5 260.6 L732.0 260.8 L731.5 260.7 L731.0 260.6 L730.5 260.5 L730.0 260.4 L729.5 260.4 L729.0 260.4 L728.5 260.4 L728.0 260.3 L727.5 260.4 L727.0 260.5 L726.5 260.6 L726.0 260.7 L725.5 261.1 L725.0 261.6 L724.5 262.0 L724.0 262.4 L723.5 261.8 L723.0 261.1 L722.5 260.5 L722.0 259.9 L721.5 260.0 L721.0 260.2 L720.5 260.3 L720.0 260.5 L719.5 260.4 L719.0 260.2 L718.5 260.1 L718.0 260.0 L717.5 260.6 L717.0 261.3 L716.5 261.9 L716.0 262.5 L715.5 261.9 L715.0 261.3 L714.5 260.6 L714.0 260.0 L713.5 260.1 L713.0 260.3 L712.5 260.4 L712.0 260.5 L711.5 260.3 L711.0 260.1 L710.5 259.8 L710.0 259.6 L709.5 260.2 L709.0 260.7 L708.5 261.3 L708.0 262.0 L707.5 261.1 L707.0 260.4 L706.5 259.6 L706.0 258.8 L705.5 259.2 L705.0 259.6 L704.5 260.1 L704.0 260.5 L703.5 260.2 L703.0 260.0 L702.5 259.7 L702.0 259.5 L701.5 259.9 L701.0 260.3 L700.5 260.6 L700.0 261.0 L699.5 261.2 L699.0 261.4 L698.5 261.6 L698.0 261.8 L697.5 262.0 L697.0 262.2 L696.5 262.4 L696.0 262.5 L695.5 262.0 L695.0 261.5 L694.5 261.0 L694.0 260.4 L693.5 261.1 L693.0 261.8 L692.5 262.4 L692.0 263.0 L691.5 262.6 L691.0 262.1 L690.5 261.6 L690.0 261.1 L689.5 260.8 L689.0 260.4 L688.5 260.1 L688.0 259.7 L687.5 259.7 L687.0 259.6 L686.5 259.5 L686.0 259.5 L685.5 260.2 L685.0 260.8 L684.5 261.5 L684.0 262.2 L683.5 262.0 L683.0 261.8 L682.5 261.6 L682.0 261.5 L681.5 261.2 L681.0 260.9 L680.5 260.6 L680.0 260.4 L679.5 260.9 L679.0 261.5 L678.5 262.0 L678.0 262.5 L677.5 261.8 L677.0 261.0 L676.5 260.2 L676.0 259.4 L675.5 259.5 L675.0 259.5 L674.5 259.6 L674.0 259.6 L673.5 260.1 L673.0 260.7 L672.5 261.2 L672.0 261.7 L671.5 261.6 L671.0 261.5 L670.5 261.4 L670.0 261.3 L669.5 260.7 L669.0 260.0 L668.5 259.4 L668.0 258.8 L667.5 258.4 L667.0 258.1 L666.5 257.8 L666.0 257.4 L665.5 257.3 L665.0 257.1 L664.5 257.0 L664.0 256.9 L663.5 256.6 L663.0 256.4 L662.5 256.1 L662.0 255.9 L661.5 256.4 L661.0 256.8 L660.5 257.3 L660.0 257.8 L659.5 257.1 L659.0 256.5 L658.5 255.9 L658.0 255.3 L657.5 255.3 L657.0 255.4 L656.5 255.5 L656.0 255.7 L655.5 256.0 L655.0 256.4 L654.5 256.8 L654.0 257.2 L653.5 257.3 L653.0 257.5 L652.5 257.6 L652.0 257.8 L651.5 258.4 L651.0 259.1 L650.5 259.8 L650.0 260.4 L649.5 259.9 L649.0 259.4 L648.5 258.8 L648.0 258.3 L647.5 259.0 L647.0 259.8 L646.5 260.5 L646.0 261.2 L645.5 261.0 L645.0 260.8 L644.5 260.5 L644.0 260.3 L643.5 260.6 L643.0 261.0 L642.5 261.3 L642.0 261.7 L641.5 261.1 L641.0 260.4 L640.5 259.8 L640.0 259.3 L639.5 259.8 L639.0 260.4 L638.5 260.9 L638.0 261.5 L637.5 261.3 L637.0 261.1 L636.5 260.9 L636.0 260.6 L635.5 260.6 L635.0 260.6 L634.5 260.6 L634.0 260.5 L633.5 260.4 L633.0 260.2 L632.5 260.0 L632.0 259.8 L631.5 259.7 L631.0 259.5 L630.5 259.3 L630.0 259.1 L629.5 258.9 L629.0 258.7 L628.5 258.5 L628.0 258.3 L627.5 259.1 L627.0 259.9 L626.5 260.7 L626.0 261.5 L625.5 260.6 L625.0 259.7 L624.5 258.8 L624.0 257.9 L623.5 258.3 L623.0 258.6 L622.5 258.9 L622.0 259.2 L621.5 259.1 L621.0 259.0 L620.5 258.8 L620.0 258.6 L619.5 257.6 L619.0 256.5 L618.5 255.4 L618.0 254.2 L617.5 253.1 L617.0 251.9 L616.5 250.8 L616.0 249.6 L615.5 248.6 L615.0 247.8 L614.5 246.9 L614.0 246.2 L613.5 245.6 L613.0 245.2 L612.5 244.9 L612.0 244.8 L611.5 245.1 L611.0 245.5 L610.5 246.1 L610.0 246.8 L609.5 247.1 L609.0 247.4 L608.5 247.8 L608.0 248.3 L607.5 249.3 L607.0 250.3 L606.5 251.4 L606.0 252.4 L605.5 253.2 L605.0 253.9 L604.5 254.6 L604.0 255.2 L603.5 255.7 L603.0 256.1 L602.5 256.4 L602.0 256.7 L601.5 256.8 L601.0 256.9 L600.5 256.9 L600.0 256.9 L599.5 257.4 L599.0 257.8 L598.5 258.2 L598.0 258.6 L597.5 258.6 L597.0 258.7 L596.5 258.7 L596.0 258.7 L595.5 258.6 L595.0 258.5 L594.5 258.4 L594.0 258.4 L593.5 258.3 L593.0 258.3 L592.5 258.2 L592.0 258.2 L591.5 259.2 L591.0 260.1 L590.5 261.1 L590.0 262.1 L589.5 261.3 L589.0 260.4 L588.5 259.6 L588.0 258.7 L587.5 258.9 L587.0 259.1 L586.5 259.2 L586.0 259.4 L585.5 259.8 L585.0 260.3 L584.5 260.8 L584.0 261.3 L583.5 260.8 L583.0 260.4 L582.5 259.9 L582.0 259.5 L581.5 259.4 L581.0 259.3 L580.5 259.2 L580.0 259.2 L579.5 259.7 L579.0 260.3 L578.5 260.9 L578.0 261.4 L577.5 260.8 L577.0 260.1 L576.5 259.4 L576.0 258.8 L575.5 259.2 L575.0 259.7 L574.5 260.2 L574.0 260.6 L573.5 260.6 L573.0 260.6 L572.5 260.5 L572.0 260.5 L571.5 260.4 L571.0 260.2 L570.5 260.1 L570.0 259.9 L569.5 260.1 L569.0 260.2 L568.5 260.4 L568.0 260.5 L567.5 260.2 L567.0 259.9 L566.5 259.5 L566.0 259.2 L565.5 259.2 L565.0 259.1 L564.5 259.1 L564.0 259.0 L563.5 259.0 L563.0 258.9 L562.5 258.9 L562.0 258.8 L561.5 259.3 L561.0 259.8 L560.5 260.2 L560.0 260.7 L559.5 260.7 L559.0 260.7 L558.5 260.8 L558.0 260.8 L557.5 260.8 L557.0 260.8 L556.5 260.8 L556.0 260.8 L555.5 260.2 L555.0 259.7 L554.5 259.2 L554.0 258.7 L553.5 259.3 L553.0 259.8 L552.5 260.5 L552.0 261.1 L551.5 260.6 L551.0 260.1 L550.5 259.6 L550.0 259.2 L549.5 259.1 L549.0 259.1 L548.5 259.0 L548.0 258.9 L547.5 259.9 L547.0 260.7 L546.5 261.6 L546.0 262.5 L545.5 262.4 L545.0 262.2 L544.5 262.1 L544.0 262.0 L543.5 261.6 L543.0 261.2 L542.5 260.8 L542.0 260.4 L541.5 260.3 L541.0 260.1 L540.5 260.0 L540.0 259.9 L539.5 259.5 L539.0 259.0 L538.5 258.6 L538.0 258.1 L537.5 257.9 L537.0 257.8 L536.5 257.6 L536.0 257.4 L535.5 257.6 L535.0 257.7 L534.5 257.8 L534.0 258.0 L533.5 258.0 L533.0 257.9 L532.5 257.9 L532.0 257.9 L531.5 257.7 L531.0 257.6 L530.5 257.4 L530.0 257.2 L529.5 257.1 L529.0 257.1 L528.5 257.0 L528.0 257.0 L527.5 257.1 L527.0 257.2 L526.5 257.3 L526.0 257.4 L525.5 258.3 L525.0 259.1 L524.5 260.0 L524.0 260.8 L523.5 260.1 L523.0 259.4 L522.5 258.6 L522.0 257.9 L521.5 258.0 L521.0 258.2 L520.5 258.3 L520.0 258.5 L519.5 258.0 L519.0 257.5 L518.5 257.0 L518.0 256.6 L517.5 257.1 L517.0 257.6 L516.5 258.1 L516.0 258.6 L515.5 258.9 L515.0 259.1 L514.5 259.4 L514.0 259.7 L513.5 259.2 L513.0 258.7 L512.5 258.2 L512.0 257.7 L511.5 257.3 L511.0 256.9 L510.5 256.5 L510.0 256.0 L509.5 256.3 L509.0 256.5 L508.5 256.8 L508.0 257.1 L507.5 256.6 L507.0 256.2 L506.5 255.8 L506.0 255.4 L505.5 256.0 L505.0 256.7 L504.5 257.4 L504.0 258.0 L503.5 257.8 L503.0 257.6 L502.5 257.4 L502.0 257.1 L501.5 257.3 L501.0 257.4 L500.5 257.5 L500.0 257.6 L499.5 257.8 L499.0 258.0 L498.5 258.2 L498.0 258.4 L497.5 257.8 L497.0 257.2 L496.5 256.6 L496.0 256.0 L495.5 256.0 L495.0 256.0 L494.5 256.0 L494.0 255.9 L493.5 256.3 L493.0 256.7 L492.5 257.1 L492.0 257.5 L491.5 257.7 L491.0 257.9 L490.5 258.2 L490.0 258.4 L489.5 258.3 L489.0 258.3 L488.5 258.3 L488.0 258.2 L487.5 257.7 L487.0 257.2 L486.5 256.7 L486.0 256.3 L485.5 256.6 L485.0 257.0 L484.5 257.3 L484.0 257.7 L483.5 257.2 L483.0 256.7 L482.5 256.2 L482.0 255.7 L481.5 256.1 L481.0 256.5 L480.5 256.9 L480.0 257.2 L479.5 256.9 L479.0 256.5 L478.5 256.1 L478.0 255.8 L477.5 255.5 L477.0 255.2 L476.5 254.9 L476.0 254.6 L475.5 254.5 L475.0 254.5 L474.5 254.4 L474.0 254.4 L473.5 255.3 L473.0 256.2 L472.5 257.1 L472.0 257.9 L471.5 257.4 L471.0 256.8 L470.5 256.2 L470.0 255.6 L469.5 255.4 L469.0 255.2 L468.5 254.9 L468.0 254.7 L467.5 254.6 L467.0 254.6 L466.5 254.5 L466.0 254.4 L465.5 255.0 L465.0 255.6 L464.5 256.2 L464.0 256.8 L463.5 256.2 L463.0 255.7 L462.5 255.1 L462.0 254.6 L461.5 254.8 L461.0 255.0 L460.5 255.2 L460.0 255.4 L459.5 255.7 L459.0 256.1 L458.5 256.4 L458.0 256.8 L457.5 257.2 L457.0 257.6 L456.5 258.0 L456.0 258.4 L455.5 258.1 L455.0 257.8 L454.5 257.5 L454.0 257.1 L453.5 256.8 L453.0 256.5 L452.5 256.2 L452.0 255.9 L451.5 255.6 L451.0 255.4 L450.5 255.1 L450.0 254.9 L449.5 254.7 L449.0 254.4 L448.5 254.2 L448.0 254.0 L447.5 254.8 L447.0 255.7 L446.5 256.5 L446.0 257.3 L445.5 257.0 L445.0 256.6 L444.5 256.3 L444.0 255.9 L443.5 256.1 L443.0 256.2 L442.5 256.4 L442.0 256.5 L441.5 256.4 L441.0 256.2 L440.5 256.1 L440.0 255.9 L439.5 255.0 L439.0 254.1 L438.5 253.3 L438.0 252.3 L437.5 252.4 L437.0 252.4 L436.5 252.5 L436.0 252.5 L435.5 253.0 L435.0 253.5 L434.5 253.9 L434.0 254.4 L433.5 253.8 L433.0 253.3 L432.5 252.7 L432.0 252.1 L431.5 252.0 L431.0 251.8 L430.5 251.7 L430.0 251.5 L429.5 251.5 L429.0 251.6 L428.5 251.5 L428.0 251.5 L427.5 251.3 L427.0 251.2 L426.5 250.9 L426.0 250.7 L425.5 250.8 L425.0 250.9 L424.5 251.0 L424.0 251.0 L423.5 250.0 L423.0 248.8 L422.5 247.7 L422.0 246.4 L421.5 246.3 L421.0 246.0 L420.5 245.5 L420.0 244.9 L419.5 242.8 L419.0 240.5 L418.5 238.0 L418.0 235.2 L417.5 232.5 L417.0 229.4 L416.5 225.9 L416.0 221.9 L415.5 217.5 L415.0 212.6 L414.5 207.2 L414.0 201.2 L413.5 194.6 L413.0 187.4 L412.5 179.7 L412.0 171.7 L411.5 163.3 L411.0 154.8 L410.5 146.2 L410.0 137.7 L409.5 129.6 L409.0 122.1 L408.5 115.3 L408.0 109.5 L407.5 104.4 L407.0 100.6 L406.5 98.3 L406.0 97.5 L405.5 98.5 L405.0 101.0 L404.5 104.8 L404.0 109.9 L403.5 116.3 L403.0 123.5 L402.5 131.3 L402.0 139.5 L401.5 147.6 L401.0 155.6 L400.5 163.4 L400.0 170.9 L399.5 177.2 L399.0 182.8 L398.5 187.6 L398.0 191.6 L397.5 195.6 L397.0 198.7 L396.5 201.0 L396.0 202.6 L395.5 203.2 L395.0 203.2 L394.5 202.5 L394.0 201.4 L393.5 200.2 L393.0 198.7 L392.5 196.9 L392.0 195.0 L391.5 192.2 L391.0 189.4 L390.5 186.7 L390.0 184.1 L389.5 182.1 L389.0 180.2 L388.5 178.4 L388.0 176.6 L387.5 174.6 L387.0 172.7 L386.5 170.8 L386.0 168.9 L385.5 167.3 L385.0 165.8 L384.5 164.5 L384.0 163.5 L383.5 163.3 L383.0 163.5 L382.5 164.2 L382.0 165.3 L381.5 166.4 L381.0 168.0 L380.5 170.1 L380.0 172.6 L379.5 175.9 L379.0 179.5 L378.5 183.3 L378.0 187.3 L377.5 190.7 L377.0 194.1 L376.5 197.5 L376.0 200.6 L375.5 204.0 L375.0 207.3 L374.5 210.3 L374.0 213.2 L373.5 215.7 L373.0 218.0 L372.5 220.1 L372.0 222.0 L371.5 224.5 L371.0 226.9 L370.5 229.2 L370.0 231.4 L369.5 232.2 L369.0 232.9 L368.5 233.4 L368.0 233.8 L367.5 235.4 L367.0 236.8 L366.5 238.2 L366.0 239.5 L365.5 240.4 L365.0 241.3 L364.5 242.2 L364.0 243.0 L363.5 242.8 L363.0 242.7 L362.5 242.4 L362.0 242.1 L361.5 242.5 L361.0 242.9 L360.5 243.2 L360.0 243.5 L359.5 244.0 L359.0 244.5 L358.5 244.9 L358.0 245.4 L357.5 245.8 L357.0 246.1 L356.5 246.5 L356.0 246.9 L355.5 246.5 L355.0 246.2 L354.5 245.9 L354.0 245.5 L353.5 245.5 L353.0 245.5 L352.5 245.6 L352.0 245.6 L351.5 246.0 L351.0 246.4 L350.5 246.8 L350.0 247.2 L349.5 246.9 L349.0 246.6 L348.5 246.3 L348.0 246.0 L347.5 246.7 L347.0 247.4 L346.5 248.1 L346.0 248.8 L345.5 248.1 L345.0 247.5 L344.5 246.8 L344.0 246.1 L343.5 246.2 L343.0 246.2 L342.5 246.2 L342.0 246.1 L341.5 246.6 L341.0 247.0 L340.5 247.3 L340.0 247.6 L339.5 246.4 L339.0 245.1 L338.5 243.7 L338.0 242.3 L337.5 241.5 L337.0 240.6 L336.5 239.6 L336.0 238.5 L335.5 237.8 L335.0 237.0 L334.5 236.1 L334.0 235.0 L333.5 233.3 L333.0 231.5 L332.5 229.6 L332.0 227.6 L331.5 225.4 L331.0 223.2 L330.5 221.0 L330.0 218.7 L329.5 216.9 L329.0 215.1 L328.5 213.5 L328.0 212.0 L327.5 210.9 L327.0 210.2 L326.5 209.8 L326.0 209.8 L325.5 209.7 L325.0 209.9 L324.5 210.6 L324.0 211.7 L323.5 213.0 L323.0 214.5 L322.5 216.2 L322.0 218.0 L321.5 220.9 L321.0 223.8 L320.5 226.8 L320.0 229.7 L319.5 230.8 L319.0 231.9 L318.5 232.7 L318.0 233.4 L317.5 235.6 L317.0 237.6 L316.5 239.6 L316.0 241.4 L315.5 242.3 L315.0 243.0 L314.5 243.7 L314.0 244.2 L313.5 243.9 L313.0 243.5 L312.5 243.1 L312.0 242.6 L311.5 243.2 L311.0 243.8 L310.5 244.4 L310.0 244.9 L309.5 245.0 L309.0 245.2 L308.5 245.3 L308.0 245.4 L307.5 245.7 L307.0 246.1 L306.5 246.4 L306.0 246.8 L305.5 247.7 L305.0 248.6 L304.5 249.4 L304.0 250.3 L303.5 249.9 L303.0 249.4 L302.5 248.9 L302.0 248.4 L301.5 248.4 L301.0 248.5 L300.5 248.5 L300.0 248.5 L299.5 248.7 L299.0 248.8 L298.5 249.0 L298.0 249.1 L297.5 249.4 L297.0 249.7 L296.5 250.0 L296.0 250.3 L295.5 251.6 L295.0 252.8 L294.5 254.0 L294.0 255.2 L293.5 254.1 L293.0 252.9 L292.5 251.6 L292.0 250.4 L291.5 250.0 L291.0 249.5 L290.5 249.1 L290.0 248.7 L289.5 248.5 L289.0 248.4 L288.5 248.3 L288.0 248.2 L287.5 248.6 L287.0 248.9 L286.5 249.3 L286.0 249.7 L285.5 249.3 L285.0 248.8 L284.5 248.4 L284.0 248.0 L283.5 247.7 L283.0 247.4 L282.5 247.1 L282.0 246.7 L281.5 247.7 L281.0 248.6 L280.5 249.6 L280.0 250.5 L279.5 249.9 L279.0 249.2 L278.5 248.6 L278.0 248.0 L277.5 247.7 L277.0 247.3 L276.5 247.0 L276.0 246.7 L275.5 246.3 L275.0 246.0 L274.5 245.6 L274.0 245.3 L273.5 245.4 L273.0 245.5 L272.5 245.6 L272.0 245.8 L271.5 246.0 L271.0 246.3 L270.5 246.5 L270.0 246.8 L269.5 247.8 L269.0 248.8 L268.5 249.7 L268.0 250.7 L267.5 250.2 L267.0 249.7 L266.5 249.1 L266.0 248.5 L265.5 248.2 L265.0 247.9 L264.5 247.6 L264.0 247.3 L263.5 246.6 L263.0 245.9 L262.5 245.2 L262.0 244.6 L261.5 245.4 L261.0 246.3 L260.5 247.2 L260.0 248.1 L259.5 248.5 L259.0 248.8 L258.5 249.2 L258.0 249.6 L257.5 248.0 L257.0 246.4 L256.5 244.8 L256.0 243.2 L255.5 243.3 L255.0 243.5 L254.5 243.6 L254.0 243.7 L253.5 244.4 L253.0 245.1 L252.5 245.8 L252.0 246.5 L251.5 245.6 L251.0 244.7 L250.5 243.8 L250.0 242.9 L249.5 243.2 L249.0 243.6 L248.5 243.9 L248.0 244.3 L247.5 243.8 L247.0 243.3 L246.5 242.9 L246.0 242.4 L245.5 243.4 L245.0 244.4 L244.5 245.4 L244.0 246.5 L243.5 245.8 L243.0 245.2 L242.5 244.6 L242.0 244.0 L241.5 244.0 L241.0 244.1 L240.5 244.1 L240.0 244.2 L239.5 244.2 L239.0 244.2 L238.5 244.2 L238.0 244.2 L237.5 243.6 L237.0 243.0 L236.5 242.3 L236.0 241.7 L235.5 241.9 L235.0 242.0 L234.5 242.1 L234.0 242.3 L233.5 242.2 L233.0 242.2 L232.5 242.1 L232.0 242.1 L231.5 242.4 L231.0 242.7 L230.5 243.0 L230.0 243.3 L229.5 244.2 L229.0 245.0 L228.5 245.8 L228.0 246.7 L227.5 245.9 L227.0 245.2 L226.5 244.4 L226.0 243.7 L225.5 243.2 L225.0 242.8 L224.5 242.4 L224.0 241.9 L223.5 242.1 L223.0 242.3 L222.5 242.4 L222.0 242.5 L221.5 242.6 L221.0 242.6 L220.5 242.7 L220.0 242.7 L219.5 242.1 L219.0 241.5 L218.5 240.9 L218.0 240.3 L217.5 241.0 L217.0 241.7 L216.5 242.4 L216.0 243.0 L215.5 242.9 L215.0 242.7 L214.5 242.5 L214.0 242.3 L213.5 241.6 L213.0 240.9 L212.5 240.2 L212.0 239.4 L211.5 240.2 L211.0 240.9 L210.5 241.6 L210.0 242.3 L209.5 242.8 L209.0 243.2 L208.5 243.7 L208.0 244.1 L207.5 242.5 L207.0 240.8 L206.5 239.1 L206.0 237.5 L205.5 238.5 L205.0 239.5 L204.5 240.5 L204.0 241.5 L203.5 240.8 L203.0 240.0 L202.5 239.3 L202.0 238.6 L201.5 238.8 L201.0 239.0 L200.5 239.3 L200.0 239.5 L199.5 239.0 L199.0 238.5 L198.5 238.0 L198.0 237.5 L197.5 237.9 L197.0 238.2 L196.5 238.6 L196.0 238.9 L195.5 238.8 L195.0 238.8 L194.5 238.7 L194.0 238.6 L193.5 238.3 L193.0 238.1 L192.5 237.8 L192.0 237.5 L191.5 237.8 L191.0 238.1 L190.5 238.4 L190.0 238.7 L189.5 238.2 L189.0 237.6 L188.5 237.0 L188.0 236.4 L187.5 236.5 L187.0 236.5 L186.5 236.6 L186.0 236.6 L185.5 236.8 L185.0 237.0 L184.5 237.2 L184.0 237.3 L183.5 238.5 L183.0 239.6 L182.5 240.8 L182.0 241.9 L181.5 240.8 L181.0 239.6 L180.5 238.5 L180.0 237.4 L179.5 237.6 L179.0 237.9 L178.5 238.1 L178.0 238.4 L177.5 237.8 L177.0 237.2 L176.5 236.5 L176.0 235.9 L175.5 237.1 L175.0 238.3 L174.5 239.4 L174.0 240.6 L173.5 239.5 L173.0 238.4 L172.5 237.3 L172.0 236.2 L171.5 236.1 L171.0 236.0 L170.5 235.9 L170.0 235.9 L169.5 236.1 L169.0 236.2 L168.5 236.4 L168.0 236.7 L167.5 235.9 L167.0 235.2 L166.5 234.5 L166.0 233.8 L165.5 234.3 L165.0 234.8 L164.5 235.2 L164.0 235.7 L163.5 235.5 L163.0 235.4 L162.5 235.2 L162.0 235.0 L161.5 235.2 L161.0 235.5 L160.5 235.7 L160.0 236.0 L159.5 235.6 L159.0 235.2 L158.5 234.8 L158.0 234.4 L157.5 234.0 L157.0 233.7 L156.5 233.3 L156.0 232.9 L155.5 233.4 L155.0 233.9 L154.5 234.4 L154.0 234.8 L153.5 236.1 L153.0 237.5 L152.5 238.7 L152.0 240.0 L151.5 238.1 L151.0 236.2 L150.5 234.3 L150.0 232.5 L149.5 232.6 L149.0 232.7 L148.5 232.8 L148.0 233.0 L147.5 232.4 L147.0 231.8 L146.5 231.3 L146.0 230.8 L145.5 231.8 L145.0 232.9 L144.5 233.9 L144.0 235.0 L143.5 235.3 L143.0 235.7 L142.5 236.1 L142.0 236.5 L141.5 236.0 L141.0 235.6 L140.5 235.2 L140.0 234.7 L139.5 233.6 L139.0 232.5 L138.5 231.3 L138.0 230.2 L137.5 230.1 L137.0 230.0 L136.5 229.9 L136.0 229.8 L135.5 230.0 L135.0 230.2 L134.5 230.4 L134.0 230.6 L133.5 230.3 L133.0 230.0 L132.5 229.7 L132.0 229.4 L131.5 229.9 L131.0 230.4 L130.5 230.8 L130.0 231.3 L129.5 230.4 L129.0 229.6 L128.5 228.7 L128.0 227.9 L127.5 227.7 L127.0 227.5 L126.5 227.4 L126.0 227.2 L125.5 227.1 L125.0 227.1 L124.5 227.0 L124.0 226.9 L123.5 226.8 L123.0 226.7 L122.5 226.5 L122.0 226.4 L121.5 226.4 L121.0 226.4 L120.5 226.4 L120.0 226.4 L119.5 227.2 L119.0 228.1 L118.5 228.9 L118.0 229.8 L117.5 229.2 L117.0 228.6 L116.5 228.0 L116.0 227.4 L115.5 227.5 L115.0 227.7 L114.5 227.9 L114.0 228.0 L113.5 227.8 L113.0 227.7 L112.5 227.5 L112.0 227.3 L111.5 227.1 L111.0 226.9 L110.5 226.7 L110.0 226.5 L109.5 228.4 L109.0 230.4 L108.5 232.4 L108.0 234.4 L107.5 233.2 L107.0 231.9 L106.5 230.7 L106.0 229.4 L105.5 229.2 L105.0 228.9 L104.5 228.7 L104.0 228.4 L103.5 228.2 L103.0 228.0 L102.5 227.8 L102.0 227.6 L101.5 227.0 L101.0 226.4 L100.5 225.7 L100.0 225.1 L99.5 226.8 L99.0 228.6 L98.5 230.3 L98.0 232.0 L97.5 230.6 L97.0 229.2 L96.5 227.8 L96.0 226.3 L95.5 226.5 L95.0 226.7 L94.5 226.9 L94.0 227.1 L93.5 226.1 L93.0 225.1 L92.5 224.1 L92.0 223.1 L91.5 223.5 L91.0 223.9 L90.5 224.4 L90.0 224.8Z" fill="#0000ff"/>
<path d="M90.0 396.2 L90.50 396.3 L91.00 396.4 L91.50 396.5 L92.00 396.6 L92.50 396.7 L93.00 396.8 L93.50 396.9 L94.00 397.0 L94.50 397.1 L95.00 397.2 L95.50 397.2 L96.00 397.3 L96.50 397.4 L97.00 397.4 L97.50 397.5 L98.00 397.6 L98.50 397.7 L99.00 397.8 L99.50 397.8 L100.00 397.9 L100.50 398.0 L101.00 398.1 L101.50 398.2 L102.00 398.2 L102.50 398.3 L103.00 398.4 L103.50 398.5 L104.00 398.6 L104.50 398.7 L105.00 398.8 L105.50 398.9 L106.00 399.0 L106.50 399.1 L107.00 399.2 L107.50 399.3 L108.00 399.4 L108.50 399.5 L109.00 399.6 L109.50 399.7 L110.00 399.7 L110.50 399.8 L111.00 399.9 L111.50 400.0 L112.00 400.1 L112.50 400.2 L113.00 400.3 L113.50 400.5 L114.00 400.6 L114.50 400.8 L115.00 400.9 L115.50 401.1 L116.00 401.2 L116.50 401.4 L117.00 401.5 L117.50 401.5 L118.00 401.6 L118.50 401.6 L119.00 401.6 L119.50 401.6 L120.00 401.5 L120.50 401.4 L121.00 401.4 L121.50 401.3 L122.00 401.3 L122.50 401.3 L123.00 401.4 L123.50 401.4 L124.00 401.5 L124.50 401.6 L125.00 401.8 L125.50 401.9 L126.00 402.0 L126.50 402.2 L127.00 402.3 L127.50 402.4 L128.00 402.6 L128.50 402.7 L129.00 402.8 L129.50 402.8 L130.00 402.9 L130.50 403.0 L131.00 403.1 L131.50 403.1 L132.00 403.2 L132.50 403.3 L133.00 403.3 L133.50 403.4 L134.00 403.4 L134.50 403.5 L135.00 403.5 L135.50 403.5 L136.00 403.5 L136.50 403.6 L137.00 403.6 L137.50 403.7 L138.00 403.7 L138.50 403.9 L139.00 404.0 L139.50 404.2 L140.00 404.4 L140.50 404.6 L141.00 404.8 L141.50 405.1 L142.00 405.3 L142.50 405.4 L143.00 405.6 L143.50 405.7 L144.00 405.8 L144.50 405.8 L145.00 405.9 L145.50 405.9 L146.00 405.9 L146.50 405.9 L147.00 406.0 L147.50 406.0 L148.00 406.1 L148.50 406.1 L149.00 406.2 L149.50 406.2 L150.00 406.3 L150.50 406.3 L151.00 406.3 L151.50 406.4 L152.00 406.4 L152.50 406.4 L153.00 406.5 L153.50 406.5 L154.00 406.6 L154.50 406.7 L155.00 406.8 L155.50 407.0 L156.00 407.1 L156.50 407.2 L157.00 407.3 L157.50 407.4 L158.00 407.4 L158.50 407.5 L159.00 407.5 L159.50 407.5 L160.00 407.6 L160.50 407.6 L161.00 407.6 L161.50 407.6 L162.00 407.7 L162.50 407.7 L163.00 407.8 L163.50 407.8 L164.00 407.9 L164.50 407.9 L165.00 408.0 L165.50 408.0 L166.00 408.1 L166.50 408.1 L167.00 408.2 L167.50 408.2 L168.00 408.2 L168.50 408.2 L169.00 408.3 L169.50 408.3 L170.00 408.3 L170.50 408.4 L171.00 408.5 L171.50 408.5 L172.00 408.6 L172.50 408.8 L173.00 408.9 L173.50 409.0 L174.00 409.1 L174.50 409.2 L175.00 409.3 L175.50 409.4 L176.00 409.4 L176.50 409.5 L177.00 409.5 L177.50 409.6 L178.00 409.6 L178.50 409.7 L179.00 409.7 L179.50 409.8 L180.00 409.9 L180.50 410.0 L181.00 410.1 L181.50 410.2 L182.00 410.3 L182.50 410.4 L183.00 410.5 L183.50 410.6 L184.00 410.7 L184.50 410.8 L185.00 410.9 L185.50 411.0 L186.00 411.1 L186.50 411.1 L187.00 411.2 L187.50 411.2 L188.00 411.3 L188.50 411.3 L189.00 411.3 L189.50 411.3 L190.00 411.3 L190.50 411.3 L191.00 411.3 L191.50 411.3 L192.00 411.4 L192.50 411.4 L193.00 411.5 L193.50 411.6 L194.00 411.7 L194.50 411.8 L195.00 411.9 L195.50 412.1 L196.00 412.2 L196.50 412.4 L197.00 412.5 L197.50 412.7 L198.00 412.8 L198.50 412.9 L199.00 412.9 L199.50 413.0 L200.00 413.0 L200.50 413.0 L201.00 413.0 L201.50 413.1 L202.00 413.1 L202.50 413.2 L203.00 413.2 L203.50 413.3 L204.00 413.4 L204.50 413.5 L205.00 413.6 L205.50 413.6 L206.00 413.6 L206.50 413.6 L207.00 413.6 L207.50 413.5 L208.00 413.4 L208.50 413.3 L209.00 413.2 L209.50 413.2 L210.00 413.1 L210.50 413.1 L211.00 413.1 L211.50 413.1 L212.00 413.1 L212.50 413.1 L213.00 413.2 L213.50 413.3 L214.00 413.3 L214.50 413.4 L215.00 413.5 L215.50 413.5 L216.00 413.6 L216.50 413.7 L217.00 413.7 L217.50 413.7 L218.00 413.8 L218.50 413.7 L219.00 413.7 L219.50 413.7 L220.00 413.6 L220.50 413.6 L221.00 413.5 L221.50 413.5 L222.00 413.5 L222.50 413.5 L223.00 413.6 L223.50 413.7 L224.00 413.8 L224.50 414.0 L225.00 414.2 L225.50 414.4 L226.00 414.6 L226.50 414.8 L227.00 415.0 L227.50 415.1 L228.00 415.2 L228.50 415.3 L229.00 415.3 L229.50 415.2 L230.00 415.2 L230.50 415.1 L231.00 415.0 L231.50 414.9 L232.00 414.9 L232.50 414.9 L233.00 415.0 L233.50 415.1 L234.00 415.2 L234.50 415.4 L235.00 415.5 L235.50 415.7 L236.00 415.8 L236.50 416.0 L237.00 416.1 L237.50 416.2 L238.00 416.3 L238.50 416.4 L239.00 416.5 L239.50 416.6 L240.00 416.7 L240.50 416.8 L241.00 416.9 L241.50 416.9 L242.00 417.0 L242.50 417.0 L243.00 417.1 L243.50 417.0 L244.00 417.0 L244.50 417.0 L245.00 416.9 L245.50 416.8 L246.00 416.7 L246.50 416.7 L247.00 416.6 L247.50 416.5 L248.00 416.5 L248.50 416.5 L249.00 416.5 L249.50 416.5 L250.00 416.6 L250.50 416.6 L251.00 416.7 L251.50 416.8 L252.00 416.8 L252.50 416.9 L253.00 416.9 L253.50 417.0 L254.00 417.0 L254.50 417.1 L255.00 417.1 L255.50 417.2 L256.00 417.3 L256.50 417.3 L257.00 417.4 L257.50 417.5 L258.00 417.6 L258.50 417.7 L259.00 417.9 L259.50 418.0 L260.00 418.1 L260.50 418.2 L261.00 418.4 L261.50 418.5 L262.00 418.6 L262.50 418.8 L263.00 418.9 L263.50 419.0 L264.00 419.1 L264.50 419.2 L265.00 419.3 L265.50 419.3 L266.00 419.3 L266.50 419.3 L267.00 419.2 L267.50 419.2 L268.00 419.1 L268.50 419.0 L269.00 418.9 L269.50 418.8 L270.00 418.7 L270.50 418.5 L271.00 418.4 L271.50 418.3 L272.00 418.2 L272.50 418.2 L273.00 418.1 L273.50 418.0 L274.00 418.0 L274.50 418.0 L275.00 418.1 L275.50 418.1 L276.00 418.2 L276.50 418.3 L277.00 418.4 L277.50 418.5 L278.00 418.6 L278.50 418.7 L279.00 418.8 L279.50 418.9 L280.00 419.0 L280.50 419.1 L281.00 419.2 L281.50 419.3 L282.00 419.4 L282.50 419.5 L283.00 419.6 L283.50 419.7 L284.00 419.8 L284.50 419.8 L285.00 419.8 L285.50 419.8 L286.00 419.7 L286.50 419.7 L287.00 419.6 L287.50 419.5 L288.00 419.5 L288.50 419.4 L289.00 419.3 L289.50 419.3 L290.00 419.2 L290.50 419.1 L291.00 419.0 L291.50 419.0 L292.00 418.9 L292.50 418.8 L293.00 418.7 L293.50 418.7 L294.00 418.6 L294.50 418.6 L295.00 418.6 L295.50 418.6 L296.00 418.6 L296.50 418.6 L297.00 418.6 L297.50 418.6 L298.00 418.6 L298.50 418.6 L299.00 418.6 L299.50 418.6 L300.00 418.6 L300.50 418.5 L301.00 418.5 L301.50 418.5 L302.00 418.5 L302.50 418.6 L303.00 418.6 L303.50 418.7 L304.00 418.7 L304.50 418.8 L305.00 418.8 L305.50 418.8 L306.00 418.8 L306.50 418.7 L307.00 418.6 L307.50 418.5 L308.00 418.3 L308.50 418.0 L309.00 417.7 L309.50 417.4 L310.00 416.9 L310.50 416.4 L311.00 415.8 L311.50 415.2 L312.00 414.6 L312.50 413.9 L313.00 413.1 L313.50 412.4 L314.00 411.6 L314.50 410.7 L315.00 409.8 L315.50 408.8 L316.00 407.7 L316.50 406.5 L317.00 405.3 L317.50 403.9 L318.00 402.4 L318.50 400.9 L319.00 399.2 L319.50 397.4 L320.00 395.6 L320.50 393.7 L321.00 391.7 L321.50 389.8 L322.00 387.9 L322.50 386.1 L323.00 384.5 L323.50 383.3 L324.00 382.4 L324.50 381.9 L325.00 381.9 L325.50 382.4 L326.00 383.3 L326.50 384.6 L327.00 386.2 L327.50 388.0 L328.00 390.0 L328.50 392.0 L329.00 394.0 L329.50 396.0 L330.00 397.9 L330.50 399.7 L331.00 401.5 L331.50 403.1 L332.00 404.6 L332.50 405.9 L333.00 407.1 L333.50 408.2 L334.00 409.2 L334.50 410.0 L335.00 410.8 L335.50 411.5 L336.00 412.1 L336.50 412.7 L337.00 413.2 L337.50 413.7 L338.00 414.1 L338.50 414.5 L339.00 414.8 L339.50 415.2 L340.00 415.5 L340.50 415.9 L341.00 416.2 L341.50 416.5 L342.00 416.8 L342.50 417.0 L343.00 417.2 L343.50 417.4 L344.00 417.5 L344.50 417.7 L345.00 417.7 L345.50 417.8 L346.00 417.9 L346.50 417.9 L347.00 418.0 L347.50 418.0 L348.00 418.0 L348.50 418.1 L349.00 418.1 L349.50 418.1 L350.00 418.1 L350.50 418.2 L351.00 418.2 L351.50 418.2 L352.00 418.2 L352.50 418.2 L353.00 418.2 L353.50 418.3 L354.00 418.3 L354.50 418.4 L355.00 418.5 L355.50 418.5 L356.00 418.6 L356.50 418.7 L357.00 418.7 L357.50 418.7 L358.00 418.7 L358.50 418.7 L359.00 418.6 L359.50 418.4 L360.00 418.2 L360.50 418.0 L361.00 417.8 L361.50 417.6 L362.00 417.4 L362.50 417.2 L363.00 417.0 L363.50 416.9 L364.00 416.8 L364.50 416.6 L365.00 416.5 L365.50 416.3 L366.00 416.0 L366.50 415.7 L367.00 415.3 L367.50 414.9 L368.00 414.3 L368.50 413.6 L369.00 412.8 L369.50 411.9 L370.00 410.8 L370.50 409.7 L371.00 408.4 L371.50 406.9 L372.00 405.3 L372.50 403.5 L373.00 401.5 L373.50 399.3 L374.00 397.0 L374.50 394.4 L375.00 391.7 L375.50 388.9 L376.00 386.1 L376.50 383.3 L377.00 380.8 L377.50 378.7 L378.00 377.2 L378.50 376.3 L379.00 376.3 L379.50 377.1 L380.00 378.5 L380.50 380.5 L381.00 383.0 L381.50 385.6 L382.00 388.4 L382.50 391.2 L383.00 393.9 L383.50 396.3 L384.00 398.6 L384.50 400.7 L385.00 402.5 L385.50 404.1 L386.00 405.4 L386.50 406.5 L387.00 407.4 L387.50 408.0 L388.00 408.4 L388.50 408.6 L389.00 408.5 L389.50 408.3 L390.00 407.7 L390.50 406.9 L391.00 405.9 L391.50 404.5 L392.00 402.9 L392.50 401.0 L393.00 398.7 L393.50 396.1 L394.00 393.2 L394.50 389.9 L395.00 386.3 L395.50 382.4 L396.00 378.0 L396.50 373.4 L397.00 368.4 L397.50 363.0 L398.00 357.3 L398.50 351.4 L399.00 345.2 L399.50 338.9 L400.00 332.5 L400.50 326.0 L401.00 319.7 L401.50 313.5 L402.00 307.6 L402.50 302.1 L403.00 297.2 L403.50 292.9 L404.00 289.5 L404.50 287.0 L405.00 285.4 L405.50 285.0 L406.00 285.6 L406.50 287.3 L407.00 290.0 L407.50 293.6 L408.00 298.1 L408.50 303.2 L409.00 308.9 L409.50 315.0 L410.00 321.5 L410.50 328.2 L411.00 334.9 L411.50 341.6 L412.00 348.2 L412.50 354.5 L413.00 360.7 L413.50 366.5 L414.00 371.9 L414.50 377.0 L415.00 381.8 L415.50 386.1 L416.00 390.1 L416.50 393.7 L417.00 397.0 L417.50 400.0 L418.00 402.7 L418.50 405.2 L419.00 407.4 L419.50 409.3 L420.00 411.1 L420.50 412.6 L421.00 414.0 L421.50 415.2 L422.00 416.3 L422.50 417.2 L423.00 418.0 L423.50 418.6 L424.00 419.2 L424.50 419.6 L425.00 420.0 L425.50 420.4 L426.00 420.7 L426.50 420.9 L427.00 421.2 L427.50 421.4 L428.00 421.6 L428.50 421.9 L429.00 422.1 L429.50 422.3 L430.00 422.5 L430.50 422.7 L431.00 422.9 L431.50 423.1 L432.00 423.2 L432.50 423.4 L433.00 423.6 L433.50 423.7 L434.00 423.8 L434.50 423.9 L435.00 424.0 L435.50 424.0 L436.00 424.0 L436.50 424.1 L437.00 424.0 L437.50 424.0 L438.00 424.0 L438.50 424.0 L439.00 424.0 L439.50 424.0 L440.00 424.0 L440.50 424.0 L441.00 424.0 L441.50 424.0 L442.00 424.0 L442.50 424.1 L443.00 424.2 L443.50 424.3 L444.00 424.4 L444.50 424.6 L445.00 424.8 L445.50 424.9 L446.00 425.1 L446.50 425.3 L447.00 425.4 L447.50 425.5 L448.00 425.7 L448.50 425.8 L449.00 425.9 L449.50 425.9 L450.00 426.0 L450.50 426.0 L451.00 426.0 L451.50 426.0 L452.00 425.9 L452.50 425.8 L453.00 425.8 L453.50 425.7 L454.00 425.6 L454.50 425.5 L455.00 425.4 L455.50 425.3 L456.00 425.3 L456.50 425.2 L457.00 425.2 L457.50 425.2 L458.00 425.3 L458.50 425.4 L459.00 425.5 L459.50 425.6 L460.00 425.7 L460.50 425.9 L461.00 426.1 L461.50 426.3 L462.00 426.5 L462.50 426.7 L463.00 426.9 L463.50 427.1 L464.00 427.3 L464.50 427.4 L465.00 427.6 L465.50 427.7 L466.00 427.8 L466.50 427.8 L467.00 427.9 L467.50 427.9 L468.00 427.9 L468.50 427.9 L469.00 427.9 L469.50 427.9 L470.00 427.9 L470.50 427.8 L471.00 427.8 L471.50 427.9 L472.00 427.9 L472.50 427.9 L473.00 428.0 L473.50 428.0 L474.00 428.1 L474.50 428.2 L475.00 428.2 L475.50 428.3 L476.00 428.3 L476.50 428.3 L477.00 428.4 L477.50 428.4 L478.00 428.4 L478.50 428.4 L479.00 428.4 L479.50 428.3 L480.00 428.3 L480.50 428.3 L481.00 428.2 L481.50 428.1 L482.00 428.1 L482.50 428.0 L483.00 427.9 L483.50 427.9 L484.00 427.8 L484.50 427.7 L485.00 427.7 L485.50 427.7 L486.00 427.7 L486.50 427.7 L487.00 427.7 L487.50 427.8 L488.00 427.8 L488.50 427.9 L489.00 428.1 L489.50 428.2 L490.00 428.3 L490.50 428.5 L491.00 428.7 L491.50 428.8 L492.00 428.9 L492.50 429.1 L493.00 429.2 L493.50 429.2 L494.00 429.3 L494.50 429.4 L495.00 429.5 L495.50 429.5 L496.00 429.6 L496.50 429.6 L497.00 429.7 L497.50 429.7 L498.00 429.8 L498.50 429.8 L499.00 429.8 L499.50 429.8 L500.00 429.9 L500.50 429.9 L501.00 429.9 L501.50 429.9 L502.00 430.0 L502.50 430.0 L503.00 430.1 L503.50 430.2 L504.00 430.3 L504.50 430.4 L505.00 430.5 L505.50 430.5 L506.00 430.6 L506.50 430.6 L507.00 430.6 L507.50 430.6 L508.00 430.5 L508.50 430.5 L509.00 430.4 L509.50 430.4 L510.00 430.4 L510.50 430.4 L511.00 430.3 L511.50 430.3 L512.00 430.3 L512.50 430.3 L513.00 430.3 L513.50 430.3 L514.00 430.3 L514.50 430.3 L515.00 430.3 L515.50 430.3 L516.00 430.3 L516.50 430.4 L517.00 430.4 L517.50 430.4 L518.00 430.4 L518.50 430.5 L519.00 430.5 L519.50 430.5 L520.00 430.5 L520.50 430.6 L521.00 430.5 L521.50 430.5 L522.00 430.5 L522.50 430.5 L523.00 430.5 L523.50 430.5 L524.00 430.4 L524.50 430.5 L525.00 430.5 L525.50 430.6 L526.00 430.7 L526.50 430.8 L527.00 431.0 L527.50 431.1 L528.00 431.3 L528.50 431.4 L529.00 431.6 L529.50 431.7 L530.00 431.7 L530.50 431.7 L531.00 431.6 L531.50 431.5 L532.00 431.4 L532.50 431.3 L533.00 431.1 L533.50 431.0 L534.00 430.8 L534.50 430.7 L535.00 430.6 L535.50 430.6 L536.00 430.5 L536.50 430.5 L537.00 430.5 L537.50 430.5 L538.00 430.5 L538.50 430.6 L539.00 430.6 L539.50 430.7 L540.00 430.8 L540.50 431.0 L541.00 431.2 L541.50 431.4 L542.00 431.6 L542.50 431.8 L543.00 432.0 L543.50 432.1 L544.00 432.2 L544.50 432.3 L545.00 432.3 L545.50 432.3 L546.00 432.3 L546.50 432.2 L547.00 432.1 L547.50 432.0 L548.00 431.8 L548.50 431.7 L549.00 431.6 L549.50 431.5 L550.00 431.4 L550.50 431.3 L551.00 431.2 L551.50 431.2 L552.00 431.1 L552.50 431.1 L553.00 431.1 L553.50 431.1 L554.00 431.1 L554.50 431.1 L555.00 431.1 L555.50 431.2 L556.00 431.2 L556.50 431.2 L557.00 431.3 L557.50 431.3 L558.00 431.4 L558.50 431.4 L559.00 431.4 L559.50 431.5 L560.00 431.5 L560.50 431.5 L561.00 431.6 L561.50 431.6 L562.00 431.6 L562.50 431.6 L563.00 431.7 L563.50 431.7 L564.00 431.7 L564.50 431.7 L565.00 431.7 L565.50 431.7 L566.00 431.7 L566.50 431.7 L567.00 431.7 L567.50 431.7 L568.00 431.8 L568.50 431.8 L569.00 431.8 L569.50 431.8 L570.00 431.8 L570.50 431.8 L571.00 431.8 L571.50 431.8 L572.00 431.8 L572.50 431.9 L573.00 431.9 L573.50 432.0 L574.00 432.1 L574.50 432.2 L575.00 432.3 L575.50 432.4 L576.00 432.4 L576.50 432.5 L577.00 432.5 L577.50 432.5 L578.00 432.5 L578.50 432.4 L579.00 432.3 L579.50 432.2 L580.00 432.1 L580.50 431.9 L581.00 431.8 L581.50 431.7 L582.00 431.6 L582.50 431.6 L583.00 431.5 L583.50 431.5 L584.00 431.5 L584.50 431.6 L585.00 431.5 L585.50 431.5 L586.00 431.5 L586.50 431.4 L587.00 431.4 L587.50 431.3 L588.00 431.2 L588.50 431.1 L589.00 431.1 L589.50 431.0 L590.00 431.0 L590.50 431.0 L591.00 431.1 L591.50 431.1 L592.00 431.2 L592.50 431.2 L593.00 431.2 L593.50 431.2 L594.00 431.2 L594.50 431.1 L595.00 430.9 L595.50 430.8 L596.00 430.5 L596.50 430.3 L597.00 430.0 L597.50 429.7 L598.00 429.4 L598.50 429.0 L599.00 428.7 L599.50 428.4 L600.00 428.1 L600.50 427.7 L601.00 427.3 L601.50 426.9 L602.00 426.5 L602.50 426.1 L603.00 425.6 L603.50 425.1 L604.00 424.6 L604.50 424.0 L605.00 423.5 L605.50 423.0 L606.00 422.5 L606.50 422.1 L607.00 421.6 L607.50 421.3 L608.00 421.0 L608.50 420.8 L609.00 420.7 L609.50 420.8 L610.00 420.9 L610.50 421.2 L611.00 421.5 L611.50 421.9 L612.00 422.4 L612.50 423.0 L613.00 423.5 L613.50 424.1 L614.00 424.7 L614.50 425.2 L615.00 425.8 L615.50 426.3 L616.00 426.7 L616.50 427.1 L617.00 427.5 L617.50 427.8 L618.00 428.1 L618.50 428.3 L619.00 428.6 L619.50 428.8 L620.00 429.0 L620.50 429.2 L621.00 429.4 L621.50 429.7 L622.00 429.9 L622.50 430.2 L623.00 430.4 L623.50 430.7 L624.00 430.9 L624.50 431.1 L625.00 431.3 L625.50 431.4 L626.00 431.5 L626.50 431.6 L627.00 431.7 L627.50 431.7 L628.00 431.7 L628.50 431.7 L629.00 431.7 L629.50 431.7 L630.00 431.8 L630.50 431.8 L631.00 431.9 L631.50 432.0 L632.00 432.0 L632.50 432.1 L633.00 432.2 L633.50 432.3 L634.00 432.4 L634.50 432.4 L635.00 432.5 L635.50 432.5 L636.00 432.5 L636.50 432.5 L637.00 432.5 L637.50 432.5 L638.00 432.5 L638.50 432.4 L639.00 432.4 L639.50 432.3 L640.00 432.2 L640.50 432.1 L641.00 432.1 L641.50 432.0 L642.00 432.0 L642.50 431.9 L643.00 431.9 L643.50 431.9 L644.00 431.9 L644.50 431.9 L645.00 431.9 L645.50 432.0 L646.00 432.0 L646.50 431.9 L647.00 431.9 L647.50 431.9 L648.00 431.8 L648.50 431.8 L649.00 431.8 L649.50 431.7 L650.00 431.7 L650.50 431.7 L651.00 431.7 L651.50 431.7 L652.00 431.7 L652.50 431.7 L653.00 431.8 L653.50 431.8 L654.00 431.8 L654.50 431.8 L655.00 431.8 L655.50 431.8 L656.00 431.8 L656.50 431.9 L657.00 431.9 L657.50 431.9 L658.00 432.0 L658.50 432.1 L659.00 432.1 L659.50 432.3 L660.00 432.4 L660.50 432.5 L661.00 432.7 L661.50 432.8 L662.00 432.9 L662.50 433.0 L663.00 433.1 L663.50 433.1 L664.00 433.1 L664.50 433.0 L665.00 432.9 L665.50 432.8 L666.00 432.7 L666.50 432.6 L667.00 432.4 L667.50 432.3 L668.00 432.2 L668.50 432.1 L669.00 432.1 L669.50 432.0 L670.00 432.0 L670.50 432.1 L671.00 432.1 L671.50 432.1 L672.00 432.2 L672.50 432.2 L673.00 432.3 L673.50 432.3 L674.00 432.3 L674.50 432.3 L675.00 432.3 L675.50 432.2 L676.00 432.1 L676.50 432.0 L677.00 431.9 L677.50 431.8 L678.00 431.7 L678.50 431.5 L679.00 431.4 L679.50 431.4 L680.00 431.3 L680.50 431.3 L681.00 431.3 L681.50 431.4 L682.00 431.4 L682.50 431.5 L683.00 431.5 L683.50 431.6 L684.00 431.7 L684.50 431.7 L685.00 431.8 L685.50 431.8 L686.00 431.8 L686.50 431.8 L687.00 431.8 L687.50 431.9 L688.00 431.9 L688.50 431.9 L689.00 431.9 L689.50 432.0 L690.00 432.1 L690.50 432.2 L691.00 432.3 L691.50 432.4 L692.00 432.6 L692.50 432.7 L693.00 432.9 L693.50 433.1 L694.00 433.2 L694.50 433.3 L695.00 433.4 L695.50 433.4 L696.00 433.4 L696.50 433.4 L697.00 433.3 L697.50 433.2 L698.00 433.0 L698.50 432.9 L699.00 432.8 L699.50 432.7 L700.00 432.6 L700.50 432.5 L701.00 432.4 L701.50 432.4 L702.00 432.4 L702.50 432.4 L703.00 432.4 L703.50 432.4 L704.00 432.4 L704.50 432.4 L705.00 432.3 L705.50 432.3 L706.00 432.2 L706.50 432.2 L707.00 432.1 L707.50 432.0 L708.00 432.0 L708.50 431.9 L709.00 431.8 L709.50 431.8 L710.00 431.8 L710.50 431.7 L711.00 431.7 L711.50 431.7 L712.00 431.7 L712.50 431.7 L713.00 431.7 L713.50 431.8 L714.00 431.8 L714.50 431.9 L715.00 432.0 L715.50 432.1 L716.00 432.1 L716.50 432.2 L717.00 432.3 L717.50 432.4 L718.00 432.5 L718.50 432.6 L719.00 432.6 L719.50 432.7 L720.00 432.8 L720.50 432.9 L721.00 433.0 L721.50 433.0 L722.00 433.1 L722.50 433.1 L723.00 433.1 L723.50 433.1 L724.00 433.1 L724.50 433.0 L725.00 432.9 L725.50 432.8 L726.00 432.7 L726.50 432.6 L727.00 432.5 L727.50 432.5 L728.00 432.5 L728.50 432.5 L729.00 432.5 L729.50 432.6 L730.00 432.7 L730.50 432.8 L731.00 432.9 L731.50 433.0 L732.00 433.1 L732.50 433.2 L733.00 433.3 L733.50 433.3 L734.00 433.3 L734.50 433.3 L735.00 433.3 L735.50 433.3 L736.00 433.3 L736.50 433.3 L737.00 433.2 L737.50 433.2 L738.00 433.1 L738.50 433.1 L739.00 433.0 L739.50 432.9 L740.00 432.8 L740.50 432.6 L741.00 432.5 L741.50 432.4 L742.00 432.4 L742.50 432.3 L743.00 432.2 L743.50 432.2 L744.00 432.1 L744.50 432.1 L745.00 432.1 L745.50 432.0 L746.00 432.0 L746.50 431.9 L747.00 431.9 L747.50 431.8 L748.00 431.7 L748.50 431.6 L749.00 431.5 L749.50 431.4 L750.00 431.2 L750.50 431.0 L751.00 430.8 L751.50 430.6 L752.00 430.3 L752.50 430.0 L753.00 429.7 L753.50 429.3 L754.00 428.9 L754.50 428.4 L755.00 427.9 L755.50 427.4 L756.00 426.8 L756.50 426.3 L757.00 425.7 L757.50 425.1 L758.00 424.5 L758.50 423.9 L759.00 423.4 L759.50 422.8 L760.00 422.2 L760.50 421.7 L761.00 421.2 L761.50 420.8 L762.00 420.4 L762.50 420.0 L763.00 419.7 L763.50 419.5 L764.00 419.4 L764.50 419.4 L765.00 419.5 L765.50 419.7 L766.00 419.9 L766.50 420.3 L767.00 420.6 L767.50 421.1 L768.00 421.6 L768.50 422.1 L769.00 422.6 L769.50 423.2 L770.00 423.7 L770.50 424.3 L771.00 424.8 L771.50 425.4 L772.00 426.0 L772.50 426.6 L773.00 427.1 L773.50 427.7 L774.00 428.2 L774.50 428.6 L775.00 429.1 L775.50 429.4 L776.00 429.7 L776.50 430.0 L777.00 430.2 L777.50 430.5 L778.00 430.6 L778.50 430.8 L779.00 431.0 L779.50 431.2 L780.00 431.4 L780.50 431.6 L781.00 431.7 L781.50 431.9 L782.00 432.1 L782.50 432.2 L783.00 432.3 L783.50 432.4 L784.00 432.5 L784.50 432.5 L785.00 432.5 L785.50 432.6 L786.00 432.6 L786.50 432.6 L787.00 432.6 L787.50 432.6 L788.00 432.6 L788.50 432.7 L789.00 432.7 L789.50 432.8 L790.00 432.8 L790.50 432.8 L791.00 432.8 L791.50 432.8 L792.00 432.8 L792.50 432.8 L793.00 432.7 L793.50 432.6 L794.00 432.6 L794.50 432.5 L795.00 432.5 L795.50 432.5 L796.00 432.5 L796.50 432.5 L797.00 432.5 L797.50 432.6 L798.00 432.7 L798.50 432.8 L799.00 432.9 L799.50 432.9 L800.00 433.0 L800.50 433.1 L801.00 433.1 L801.50 433.2 L802.00 433.2 L802.50 433.3 L803.00 433.3 L803.50 433.4 L804.00 433.5 L804.50 433.5 L805.00 433.5 L805.50 433.6 L806.00 433.6 L806.50 433.5 L807.00 433.5 L807.50 433.5 L808.00 433.5 L808.50 433.4 L809.00 433.4 L809.50 433.4 L810.00 433.5 L810.50 433.5 L811.00 433.6 L811.50 433.7 L812.00 433.7 L812.50 433.8 L813.00 433.8 L813.50 433.8 L814.00 433.8 L814.50 433.8 L815.00 433.8 L815.50 433.7 L816.00 433.6 L816.50 433.6 L817.00 433.5 L817.50 433.5 L818.00 433.5 L818.50 433.5 L819.00 433.6 L819.50 433.7 L820.00 433.7 L820.50 433.8 L821.00 433.8 L821.50 433.9 L822.00 433.9 L822.50 433.9 L823.00 433.9 L823.50 433.9 L824.00 433.9 L824.50 433.8 L825.00 433.8 L825.50 433.7 L826.00 433.7 L826.50 433.6 L827.00 433.6 L827.50 433.6 L828.00 433.5 L828.50 433.5 L829.00 433.5 L829.50 433.5 L830.00 433.5 L830.50 433.5 L831.00 433.5 L831.50 433.6 L832.00 433.5 L832.50 433.5 L833.00 433.5 L833.50 433.5 L834.00 433.5 L834.50 433.4 L835.00 433.4 L835.50 433.4 L836.00 433.4 L836.50 433.4 L837.00 433.4 L837.50 433.4 L838.00 433.4 L838.50 433.5 L839.00 433.5 L839.50 433.6 L840.00 433.6 L840.50 433.7 L841.00 433.8 L841.50 433.9 L842.00 434.0 L842.50 434.1 L843.00 434.1 L843.50 434.2 L844.00 434.3 L844.50 434.4 L845.00 434.4 L845.50 434.5 L846.00 434.5 L846.50 434.5 L847.00 434.6 L847.50 434.6 L848.00 434.6 L848.50 434.6 L849.00 434.7 L849.50 434.7 L850.00 434.8 L850.50 434.8 L851.00 434.9 L851.50 434.9 L852.00 435.0 L852.50 435.0 L853.00 435.0 L853.50 435.0 L854.00 435.0 L854.50 435.0 L855.00 435.0 L855.50 435.0 L856.00 435.0 L856.50 435.0 L857.00 435.1 L857.50 435.1 L858.00 435.2 L858.50 435.2 L859.00 435.2 L859.50 435.3 L860.00 435.3 L860.50 435.3 L861.00 435.2 L861.50 435.2 L862.00 435.2 L862.50 435.1 L863.00 435.1 L863.50 435.1 L864.00 435.0 L864.50 435.0 L865.00 435.0 L865.50 435.0 L866.00 434.9 L866.50 434.9 L867.00 434.8 L867.50 434.8 L868.00 434.7 L868.50 434.6 L869.00 434.6 L869.50 434.5 L870.00 434.5 L870.50 434.5 L871.00 434.5 L871.50 434.6 L872.00 434.7 L872.50 434.8 L873.00 434.9 L873.50 435.0 L874.00 435.1 L874.50 435.2 L875.00 435.3 L875.50 435.3 L876.00 435.3 L876.50 435.3 L877.00 435.2 L877.50 435.1 L878.00 434.9 L878.50 434.7 L879.00 434.5 L879.50 434.2 L880.00 434.0 L880.50 433.7 L881.00 433.4 L881.50 433.1 L882.00 432.8 L882.50 432.5 L883.00 432.3 L883.50 432.0 L884.00 431.7 L884.50 431.5 L885.00 431.2 L885.50 430.9 L886.00 430.6 L886.50 430.3 L887.00 430.0 L887.50 429.8 L888.00 429.5 L888.50 429.2 L889.00 429.0 L889.50 428.8 L890.00 428.6 L890.50 428.4 L891.00 428.2 L891.50 428.1 L892.00 428.0 L892.50 428.0 L893.00 428.0 L893.50 428.0 L894.00 428.0 L894.50 428.1 L895.00 428.3 L895.50 428.4 L896.00 428.6 L896.50 428.8 L897.00 429.0 L897.50 429.3 L898.00 429.5 L898.50 429.8 L899.00 430.1 L899.50 430.4 L900.00 430.7 L900.50 431.0 L901.00 431.3 L901.50 431.7 L902.00 432.0 L902.50 432.3 L903.00 432.7 L903.50 433.0 L904.00 433.3 L904.50 433.6 L905.00 433.8 L905.50 434.0 L906.00 434.2 L906.50 434.3 L907.00 434.4 L907.50 434.4 L908.00 434.5 L908.50 434.5 L909.00 434.5 L909.50 434.5 L910.00 434.5 L910.50 434.5 L911.00 434.6 L911.50 434.6 L912.00 434.7 L912.50 434.8 L913.00 434.8 L913.50 434.9 L914.00 434.9 L914.50 434.9 L915.00 434.9 L915.50 434.9 L916.00 434.9 L916.50 434.9 L917.00 434.9 L917.50 434.8 L918.00 434.8 L918.50 434.8 L919.00 434.8 L919.50 434.9 L920.00 434.9 L920.50 434.9 L921.00 434.9 L921.50 434.9 L922.00 434.9 L922.50 434.8 L923.00 434.7 L923.50 434.7 L924.00 434.6 L924.50 434.5 L925.00 434.4 L925.50 434.3 L926.00 434.3 L926.50 434.2 L927.00 434.2 L927.50 434.2 L928.00 434.2 L928.50 434.2 L929.00 434.2 L929.50 434.2 L930.00 434.3 L930.50 434.3 L931.00 434.4 L931.50 434.5 L932.00 434.6 L932.50 434.7 L933.00 434.8 L933.50 435.0 L934.00 435.2 L934.50 435.4 L935.00 435.5 L935.50 435.7 L936.00 435.8 L936.50 435.9 L937.00 436.0 L937.50 436.1 L938.00 436.1 L938.50 436.0 L939.00 436.0 L939.50 435.9 L940.00 435.7 L940.50 435.6 L941.00 435.4 L941.50 435.3 L942.00 435.1 L942.50 435.0 L943.00 434.9 L943.50 434.8 L944.00 434.8 L944.50 434.8 L945.00 434.8 L945.50 434.8 L946.00 434.8 L946.50 434.9 L947.00 434.9 L947.50 434.9 L948.00 434.9 L948.50 435.0 L949.00 434.9 L949.50 434.9 L950.00 434.9 L950.50 434.9 L951.00 434.9 L951.50 434.8 L952.00 434.8 L952.50 434.8 L953.00 434.8 L953.50 434.7 L954.00 434.7 L954.50 434.7 L955.00 434.6 L955.50 434.5 L956.00 434.4 L956.50 434.3 L957.00 434.1 L957.50 434.0 L958.00 433.7 L958.50 433.5 L959.00 433.3 L959.50 433.0 L960.00 432.8 L960.50 432.6 L961.00 432.4 L961.50 432.2 L962.00 432.1 L962.50 432.0 L963.00 431.9 L963.50 431.9 L964.00 431.8 L964.50 431.7 L965.00 431.6 L965.50 431.5 L966.00 431.3 L966.50 431.1 L967.00 430.9 L967.50 430.7 L968.00 430.4 L968.50 430.1 L969.00 429.8 L969.50 429.5 L970.00 429.3 L970.50 429.0 L971.00 428.8 L971.50 428.6 L972.00 428.4 L972.50 428.2 L973.00 428.1 L973.50 427.9 L974.00 427.7 L974.50 427.5 L975.00 427.3 L975.50 427.1 L976.00 426.9 L976.50 426.8 L977.00 426.6 L977.50 426.4 L978.00 426.3 L978.50 426.3 L979.00 426.3 L979.50 426.3 L980.00 426.3 L980.50 426.4 L981.00 426.6 L981.50 426.7 L982.00 426.9 L982.50 427.2 L983.00 427.4 L983.50 427.6 L984.00 427.8 L984.50 428.0 L985.00 428.1 L985.50 428.2 L986.00 428.3 L986.50 428.3 L987.00 428.4 L987.50 428.5 L988.00 428.5 L988.50 428.7 L989.00 428.8 L989.50 429.0 L990.00 429.3 L990.50 429.6 L991.00 429.9 L991.50 430.3 L992.00 430.6 L992.50 431.0 L993.00 431.3 L993.50 431.7 L994.00 432.0 L994.50 432.2 L995.00 432.5 L995.50 432.7 L996.00 432.9 L996.50 433.1 L997.00 433.3 L997.50 433.5 L998.00 433.7 L998.50 433.9 L999.00 434.1 L999.50 434.4 L1000.00 434.6 L1000.50 434.7 L1001.00 434.9 L1001.50 435.0 L1002.00 435.2 L1002.50 435.3 L1003.00 435.3 L1003.50 435.4 L1004.00 435.4 L1004.50 435.4 L1005.00 435.4 L1005.50 435.4 L1006.00 435.4 L1006.50 435.4 L1007.00 435.3 L1007.50 435.3 L1008.00 435.3 L1008.50 435.3 L1009.00 435.3 L1009.50 435.3 L1010.00 435.3 L1010.50 435.4 L1011.00 435.5 L1011.50 435.6 L1012.00 435.7 L1012.50 435.8 L1013.00 436.0 L1013.50 436.1 L1014.00 436.3 L1014.50 436.4 L1015.00 436.5 L1015.50 436.6 L1016.00 436.7 L1016.50 436.8 L1017.00 436.8 L1017.50 436.9 L1018.00 436.9 L1018.50 436.9 L1019.00 436.9 L1019.50 436.9 L1020.00 436.8 L1020.50 436.7 L1021.00 436.7 L1021.50 436.6 L1022.00 436.5 L1022.50 436.4 L1023.00 436.4 L1023.50 436.4 L1024.00 436.4 L1024.50 436.4 L1025.00 436.4 L1025.50 436.4 L1026.00 436.5 L1026.50 436.5 L1027.00 436.5 L1027.50 436.5 L1028.00 436.6 L1028.50 436.5 L1029.00 436.5 L1029.50 436.5 L1030.00 436.5 L1030.50 436.5 L1031.00 436.5 L1031.50 436.6 L1032.00 436.6 L1032.50 436.7 L1033.00 436.7 L1033.50 436.8 L1034.00 436.9 L1034.50 437.0 L1035.00 437.1 L1035.50 437.3 L1036.00 437.3 L1036.50 437.4 L1037.00 437.5 L1037.50 437.5 L1038.00 437.6 L1038.50 437.6 L1039.00 437.6 L1039.50 437.5 L1040.00 437.5 L1040.50 437.5 L1041.00 437.4 L1041.50 437.3 L1042.00 437.3 L1042.50 437.2 L1043.00 437.2 L1043.50 437.1 L1044.00 437.1 L1044.50 437.1 L1045.00 437.1 L1045.50 437.1 L1046.00 437.2 L1046.50 437.2 L1047.00 437.3 L1047.50 437.4 L1048.00 437.4 L1048.50 437.5 L1049.00 437.6 L1049.50 437.7 L1050.00 437.7 L1050.50 437.7 L1051.00 437.8 L1051.50 437.8 L1052.00 437.8 L1052.50 437.8" fill="none" stroke="#ff0000" stroke-width="3.80" stroke-linejoin="round" stroke-linecap="round"/>
<path d="M90.0 389.5 L90.5 389.9 L91.0 390.2 L91.5 390.6 L92.0 391.0 L92.5 391.5 L93.0 392.0 L93.5 392.5 L94.0 393.0 L94.5 393.2 L95.0 393.3 L95.5 393.5 L96.0 393.6 L96.5 392.3 L97.0 390.9 L97.5 389.5 L98.0 388.1 L98.5 389.4 L99.0 390.8 L99.5 392.1 L100.0 393.5 L100.5 393.1 L101.0 392.8 L101.5 392.5 L102.0 392.2 L102.5 392.3 L103.0 392.5 L103.5 392.6 L104.0 392.7 L104.5 392.5 L105.0 392.3 L105.5 392.1 L106.0 391.9 L106.5 392.3 L107.0 392.7 L107.5 393.1 L108.0 393.5 L108.5 393.4 L109.0 393.2 L109.5 393.1 L110.0 393.0 L110.5 393.8 L111.0 394.6 L111.5 395.4 L112.0 396.2 L112.5 396.4 L113.0 396.7 L113.5 396.9 L114.0 397.2 L114.5 396.1 L115.0 395.0 L115.5 393.8 L116.0 392.7 L116.5 393.8 L117.0 395.0 L117.5 396.1 L118.0 397.2 L118.5 397.4 L119.0 397.6 L119.5 397.8 L120.0 398.0 L120.5 398.0 L121.0 398.0 L121.5 398.0 L122.0 398.0 L122.5 397.6 L123.0 397.1 L123.5 396.7 L124.0 396.3 L124.5 396.7 L125.0 397.2 L125.5 397.7 L126.0 398.2 L126.5 397.1 L127.0 395.9 L127.5 394.7 L128.0 393.5 L128.5 394.9 L129.0 396.2 L129.5 397.6 L130.0 398.9 L130.5 399.0 L131.0 399.1 L131.5 399.2 L132.0 399.3 L132.5 399.4 L133.0 399.6 L133.5 399.7 L134.0 399.8 L134.5 399.0 L135.0 398.2 L135.5 397.4 L136.0 396.6 L136.5 396.6 L137.0 396.6 L137.5 396.6 L138.0 396.6 L138.5 396.9 L139.0 397.1 L139.5 397.4 L140.0 397.6 L140.5 397.2 L141.0 396.8 L141.5 396.4 L142.0 395.9 L142.5 397.2 L143.0 398.5 L143.5 399.8 L144.0 401.1 L144.5 401.4 L145.0 401.7 L145.5 401.9 L146.0 402.2 L146.5 400.3 L147.0 398.5 L147.5 396.6 L148.0 394.7 L148.5 396.4 L149.0 398.1 L149.5 399.7 L150.0 401.4 L150.5 401.3 L151.0 401.3 L151.5 401.2 L152.0 401.2 L152.5 401.2 L153.0 401.2 L153.5 401.2 L154.0 401.2 L154.5 401.7 L155.0 402.3 L155.5 402.8 L156.0 403.3 L156.5 403.0 L157.0 402.7 L157.5 402.4 L158.0 402.1 L158.5 402.2 L159.0 402.4 L159.5 402.6 L160.0 402.7 L160.5 402.7 L161.0 402.8 L161.5 402.8 L162.0 402.9 L162.5 402.4 L163.0 401.9 L163.5 401.5 L164.0 401.0 L164.5 401.6 L165.0 402.1 L165.5 402.7 L166.0 403.3 L166.5 403.5 L167.0 403.7 L167.5 403.9 L168.0 404.1 L168.5 403.8 L169.0 403.6 L169.5 403.3 L170.0 403.0 L170.5 401.9 L171.0 400.9 L171.5 399.8 L172.0 398.8 L172.5 400.2 L173.0 401.6 L173.5 403.0 L174.0 404.4 L174.5 404.7 L175.0 404.9 L175.5 405.2 L176.0 405.4 L176.5 404.0 L177.0 402.5 L177.5 401.1 L178.0 399.6 L178.5 400.8 L179.0 402.0 L179.5 403.1 L180.0 404.3 L180.5 404.3 L181.0 404.3 L181.5 404.3 L182.0 404.3 L182.5 404.5 L183.0 404.6 L183.5 404.8 L184.0 405.0 L184.5 404.6 L185.0 404.3 L185.5 403.9 L186.0 403.5 L186.5 403.7 L187.0 403.8 L187.5 404.0 L188.0 404.2 L188.5 404.2 L189.0 404.3 L189.5 404.4 L190.0 404.4 L190.5 405.4 L191.0 406.3 L191.5 407.3 L192.0 408.2 L192.5 406.9 L193.0 405.7 L193.5 404.5 L194.0 403.2 L194.5 404.1 L195.0 405.0 L195.5 405.9 L196.0 406.7 L196.5 407.3 L197.0 407.8 L197.5 408.3 L198.0 408.8 L198.5 408.3 L199.0 407.8 L199.5 407.3 L200.0 406.7 L200.5 406.1 L201.0 405.6 L201.5 405.0 L202.0 404.4 L202.5 405.7 L203.0 406.9 L203.5 408.2 L204.0 409.5 L204.5 409.3 L205.0 409.2 L205.5 409.0 L206.0 408.8 L206.5 407.8 L207.0 406.8 L207.5 405.8 L208.0 404.7 L208.5 405.4 L209.0 406.0 L209.5 406.6 L210.0 407.3 L210.5 406.9 L211.0 406.5 L211.5 406.2 L212.0 405.8 L212.5 406.8 L213.0 407.7 L213.5 408.6 L214.0 409.5 L214.5 408.7 L215.0 408.0 L215.5 407.2 L216.0 406.4 L216.5 406.8 L217.0 407.2 L217.5 407.6 L218.0 408.0 L218.5 407.3 L219.0 406.6 L219.5 405.9 L220.0 405.2 L220.5 406.5 L221.0 407.7 L221.5 408.9 L222.0 410.2 L222.5 410.3 L223.0 410.4 L223.5 410.5 L224.0 410.6 L224.5 409.8 L225.0 409.0 L225.5 408.2 L226.0 407.3 L226.5 408.1 L227.0 408.9 L227.5 409.7 L228.0 410.4 L228.5 410.8 L229.0 411.1 L229.5 411.3 L230.0 411.6 L230.5 411.0 L231.0 410.5 L231.5 409.9 L232.0 409.4 L232.5 409.7 L233.0 410.0 L233.5 410.4 L234.0 410.8 L234.5 410.0 L235.0 409.3 L235.5 408.5 L236.0 407.8 L236.5 408.2 L237.0 408.6 L237.5 409.0 L238.0 409.4 L238.5 408.9 L239.0 408.5 L239.5 408.0 L240.0 407.6 L240.5 409.1 L241.0 410.6 L241.5 412.0 L242.0 413.5 L242.5 412.7 L243.0 411.9 L243.5 411.0 L244.0 410.2 L244.5 410.5 L245.0 410.7 L245.5 411.0 L246.0 411.3 L246.5 411.1 L247.0 410.9 L247.5 410.7 L248.0 410.5 L248.5 409.9 L249.0 409.3 L249.5 408.7 L250.0 408.1 L250.5 407.7 L251.0 407.3 L251.5 406.9 L252.0 406.5 L252.5 407.4 L253.0 408.4 L253.5 409.4 L254.0 410.4 L254.5 411.2 L255.0 412.1 L255.5 412.9 L256.0 413.8 L256.5 413.3 L257.0 412.9 L257.5 412.5 L258.0 412.1 L258.5 412.2 L259.0 412.3 L259.5 412.4 L260.0 412.5 L260.5 412.8 L261.0 413.0 L261.5 413.2 L262.0 413.5 L262.5 413.6 L263.0 413.7 L263.5 413.8 L264.0 413.9 L264.5 414.1 L265.0 414.3 L265.5 414.5 L266.0 414.7 L266.5 414.6 L267.0 414.6 L267.5 414.5 L268.0 414.4 L268.5 414.1 L269.0 413.7 L269.5 413.3 L270.0 413.0 L270.5 413.2 L271.0 413.4 L271.5 413.6 L272.0 413.9 L272.5 413.1 L273.0 412.4 L273.5 411.7 L274.0 411.0 L274.5 411.7 L275.0 412.4 L275.5 413.1 L276.0 413.8 L276.5 412.1 L277.0 410.5 L277.5 408.8 L278.0 407.1 L278.5 408.3 L279.0 409.4 L279.5 410.6 L280.0 411.7 L280.5 412.4 L281.0 413.2 L281.5 413.9 L282.0 414.6 L282.5 414.5 L283.0 414.4 L283.5 414.2 L284.0 414.0 L284.5 413.9 L285.0 413.7 L285.5 413.5 L286.0 413.3 L286.5 413.7 L287.0 414.0 L287.5 414.4 L288.0 414.8 L288.5 414.4 L289.0 414.0 L289.5 413.6 L290.0 413.2 L290.5 413.6 L291.0 413.9 L291.5 414.3 L292.0 414.7 L292.5 414.7 L293.0 414.8 L293.5 414.8 L294.0 414.9 L294.5 414.2 L295.0 413.5 L295.5 412.9 L296.0 412.2 L296.5 412.6 L297.0 412.9 L297.5 413.3 L298.0 413.6 L298.5 413.4 L299.0 413.2 L299.5 413.0 L300.0 412.7 L300.5 412.9 L301.0 413.0 L301.5 413.1 L302.0 413.2 L302.5 413.3 L303.0 413.3 L303.5 413.4 L304.0 413.4 L304.5 413.1 L305.0 412.8 L305.5 412.4 L306.0 412.1 L306.5 412.4 L307.0 412.7 L307.5 413.0 L308.0 413.2 L308.5 413.0 L309.0 412.6 L309.5 412.2 L310.0 411.8 L310.5 411.3 L311.0 410.9 L311.5 410.4 L312.0 409.8 L312.5 408.5 L313.0 407.1 L313.5 405.7 L314.0 404.3 L314.5 403.8 L315.0 403.2 L315.5 402.6 L316.0 401.9 L316.5 400.3 L317.0 398.6 L317.5 396.9 L318.0 395.2 L318.5 394.2 L319.0 393.2 L319.5 392.1 L320.0 390.9 L320.5 389.2 L321.0 387.4 L321.5 385.8 L322.0 384.3 L322.5 383.0 L323.0 381.8 L323.5 380.9 L324.0 380.2 L324.5 380.1 L325.0 380.3 L325.5 380.7 L326.0 381.4 L326.5 382.2 L327.0 383.2 L327.5 384.3 L328.0 385.7 L328.5 387.3 L329.0 389.1 L329.5 390.9 L330.0 392.7 L330.5 393.0 L331.0 393.2 L331.5 393.2 L332.0 393.1 L332.5 394.1 L333.0 395.0 L333.5 395.7 L334.0 396.4 L334.5 398.5 L335.0 400.5 L335.5 402.5 L336.0 404.4 L336.5 405.7 L337.0 407.0 L337.5 408.2 L338.0 409.3 L338.5 409.9 L339.0 410.4 L339.5 410.9 L340.0 411.3 L340.5 411.6 L341.0 411.8 L341.5 411.9 L342.0 412.1 L342.5 412.2 L343.0 412.3 L343.5 412.3 L344.0 412.4 L344.5 411.2 L345.0 410.1 L345.5 408.9 L346.0 407.7 L346.5 409.1 L347.0 410.5 L347.5 411.9 L348.0 413.3 L348.5 413.4 L349.0 413.5 L349.5 413.6 L350.0 413.8 L350.5 413.4 L351.0 413.0 L351.5 412.6 L352.0 412.3 L352.5 412.6 L353.0 412.9 L353.5 413.2 L354.0 413.5 L354.5 413.7 L355.0 414.0 L355.5 414.2 L356.0 414.5 L356.5 414.4 L357.0 414.3 L357.5 414.2 L358.0 414.1 L358.5 413.4 L359.0 412.6 L359.5 411.8 L360.0 411.0 L360.5 411.0 L361.0 410.9 L361.5 410.8 L362.0 410.7 L362.5 410.6 L363.0 410.5 L363.5 410.4 L364.0 410.2 L364.5 409.1 L365.0 408.0 L365.5 406.8 L366.0 405.6 L366.5 406.0 L367.0 406.3 L367.5 406.5 L368.0 406.6 L368.5 406.1 L369.0 405.4 L369.5 404.6 L370.0 403.7 L370.5 402.7 L371.0 401.6 L371.5 400.3 L372.0 398.9 L372.5 397.1 L373.0 395.2 L373.5 393.2 L374.0 391.2 L374.5 388.7 L375.0 386.3 L375.5 384.0 L376.0 381.8 L376.5 380.1 L377.0 378.7 L377.5 377.5 L378.0 376.8 L378.5 375.9 L379.0 375.5 L379.5 375.4 L380.0 375.7 L380.5 377.6 L381.0 379.8 L381.5 382.2 L382.0 384.9 L382.5 386.6 L383.0 388.3 L383.5 390.0 L384.0 391.5 L384.5 393.4 L385.0 395.0 L385.5 396.6 L386.0 397.9 L386.5 398.1 L387.0 398.2 L387.5 398.0 L388.0 397.5 L388.5 398.3 L389.0 398.9 L389.5 399.3 L390.0 399.4 L390.5 398.9 L391.0 398.2 L391.5 397.2 L392.0 395.9 L392.5 394.0 L393.0 391.8 L393.5 389.3 L394.0 386.5 L394.5 383.0 L395.0 379.3 L395.5 375.3 L396.0 371.0 L396.5 367.0 L397.0 362.6 L397.5 358.0 L398.0 353.1 L398.5 347.7 L399.0 342.2 L399.5 336.5 L400.0 330.9 L400.5 324.9 L401.0 319.0 L401.5 313.4 L402.0 308.2 L402.5 304.0 L403.0 300.3 L403.5 297.2 L404.0 294.8 L404.5 292.7 L405.0 291.3 L405.5 290.8 L406.0 291.1 L406.5 292.6 L407.0 295.0 L407.5 298.1 L408.0 301.9 L408.5 306.2 L409.0 310.9 L409.5 316.1 L410.0 321.6 L410.5 327.1 L411.0 332.8 L411.5 338.5 L412.0 344.1 L412.5 349.5 L413.0 354.6 L413.5 359.5 L414.0 364.1 L414.5 369.4 L415.0 374.4 L415.5 379.2 L416.0 383.7 L416.5 386.7 L417.0 389.3 L417.5 391.7 L418.0 393.7 L418.5 396.3 L419.0 398.7 L419.5 400.9 L420.0 402.8 L420.5 405.0 L421.0 406.9 L421.5 408.8 L422.0 410.5 L422.5 411.0 L423.0 411.5 L423.5 411.8 L424.0 412.1 L424.5 412.1 L425.0 412.0 L425.5 411.9 L426.0 411.7 L426.5 412.6 L427.0 413.4 L427.5 414.2 L428.0 415.1 L428.5 415.8 L429.0 416.6 L429.5 417.3 L430.0 418.1 L430.5 418.3 L431.0 418.6 L431.5 418.8 L432.0 419.0 L432.5 419.2 L433.0 419.4 L433.5 419.6 L434.0 419.8 L434.5 419.4 L435.0 418.9 L435.5 418.5 L436.0 418.0 L436.5 417.6 L437.0 417.2 L437.5 416.8 L438.0 416.4 L438.5 416.7 L439.0 417.0 L439.5 417.2 L440.0 417.5 L440.5 418.2 L441.0 419.0 L441.5 419.7 L442.0 420.5 L442.5 419.8 L443.0 419.1 L443.5 418.4 L444.0 417.8 L444.5 417.6 L445.0 417.5 L445.5 417.3 L446.0 417.2 L446.5 417.6 L447.0 418.1 L447.5 418.6 L448.0 419.0 L448.5 418.7 L449.0 418.4 L449.5 418.1 L450.0 417.7 L450.5 418.6 L451.0 419.5 L451.5 420.3 L452.0 421.2 L452.5 420.6 L453.0 420.0 L453.5 419.4 L454.0 418.9 L454.5 418.7 L455.0 418.6 L455.5 418.5 L456.0 418.4 L456.5 418.6 L457.0 418.8 L457.5 419.0 L458.0 419.3 L458.5 419.2 L459.0 419.1 L459.5 419.1 L460.0 419.0 L460.5 419.8 L461.0 420.6 L461.5 421.4 L462.0 422.2 L462.5 421.8 L463.0 421.4 L463.5 421.0 L464.0 420.6 L464.5 421.5 L465.0 422.3 L465.5 423.1 L466.0 423.9 L466.5 423.8 L467.0 423.7 L467.5 423.5 L468.0 423.4 L468.5 423.4 L469.0 423.3 L469.5 423.3 L470.0 423.3 L470.5 423.0 L471.0 422.7 L471.5 422.4 L472.0 422.2 L472.5 422.7 L473.0 423.3 L473.5 423.8 L474.0 424.4 L474.5 424.3 L475.0 424.3 L475.5 424.3 L476.0 424.3 L476.5 423.8 L477.0 423.3 L477.5 422.8 L478.0 422.3 L478.5 422.7 L479.0 423.0 L479.5 423.3 L480.0 423.6 L480.5 423.3 L481.0 423.1 L481.5 422.8 L482.0 422.6 L482.5 422.6 L483.0 422.6 L483.5 422.6 L484.0 422.7 L484.5 422.4 L485.0 422.1 L485.5 421.9 L486.0 421.6 L486.5 422.1 L487.0 422.5 L487.5 423.0 L488.0 423.4 L488.5 423.4 L489.0 423.4 L489.5 423.4 L490.0 423.4 L490.5 423.4 L491.0 423.4 L491.5 423.5 L492.0 423.5 L492.5 423.4 L493.0 423.3 L493.5 423.3 L494.0 423.2 L494.5 423.3 L495.0 423.4 L495.5 423.4 L496.0 423.5 L496.5 424.1 L497.0 424.6 L497.5 425.2 L498.0 425.7 L498.5 425.8 L499.0 425.8 L499.5 425.8 L500.0 425.9 L500.5 425.6 L501.0 425.3 L501.5 425.0 L502.0 424.7 L502.5 425.2 L503.0 425.7 L503.5 426.1 L504.0 426.6 L504.5 426.2 L505.0 425.8 L505.5 425.4 L506.0 425.0 L506.5 424.9 L507.0 424.7 L507.5 424.6 L508.0 424.4 L508.5 424.4 L509.0 424.5 L509.5 424.5 L510.0 424.6 L510.5 424.8 L511.0 425.1 L511.5 425.4 L512.0 425.6 L512.5 425.3 L513.0 424.9 L513.5 424.5 L514.0 424.1 L514.5 424.1 L515.0 424.0 L515.5 424.0 L516.0 423.9 L516.5 423.6 L517.0 423.3 L517.5 423.0 L518.0 422.6 L518.5 422.9 L519.0 423.1 L519.5 423.3 L520.0 423.6 L520.5 424.1 L521.0 424.6 L521.5 425.2 L522.0 425.7 L522.5 425.6 L523.0 425.5 L523.5 425.5 L524.0 425.4 L524.5 424.9 L525.0 424.3 L525.5 423.8 L526.0 423.3 L526.5 423.8 L527.0 424.4 L527.5 425.0 L528.0 425.5 L528.5 426.0 L529.0 426.4 L529.5 426.8 L530.0 427.1 L530.5 426.7 L531.0 426.3 L531.5 425.8 L532.0 425.3 L532.5 425.8 L533.0 426.4 L533.5 426.9 L534.0 427.5 L534.5 427.1 L535.0 426.8 L535.5 426.4 L536.0 426.1 L536.5 426.3 L537.0 426.5 L537.5 426.7 L538.0 426.9 L538.5 427.0 L539.0 427.1 L539.5 427.2 L540.0 427.3 L540.5 427.1 L541.0 426.8 L541.5 426.6 L542.0 426.4 L542.5 426.2 L543.0 426.0 L543.5 425.7 L544.0 425.5 L544.5 426.1 L545.0 426.8 L545.5 427.4 L546.0 427.9 L546.5 427.2 L547.0 426.4 L547.5 425.7 L548.0 424.9 L548.5 425.4 L549.0 425.8 L549.5 426.3 L550.0 426.8 L550.5 426.6 L551.0 426.4 L551.5 426.2 L552.0 426.0 L552.5 425.7 L553.0 425.5 L553.5 425.2 L554.0 424.9 L554.5 424.8 L555.0 424.7 L555.5 424.5 L556.0 424.4 L556.5 424.5 L557.0 424.7 L557.5 424.8 L558.0 424.9 L558.5 425.3 L559.0 425.6 L559.5 425.9 L560.0 426.2 L560.5 426.3 L561.0 426.3 L561.5 426.3 L562.0 426.3 L562.5 426.7 L563.0 427.0 L563.5 427.4 L564.0 427.7 L564.5 427.4 L565.0 427.1 L565.5 426.8 L566.0 426.5 L566.5 426.9 L567.0 427.4 L567.5 427.9 L568.0 428.4 L568.5 428.2 L569.0 428.0 L569.5 427.9 L570.0 427.7 L570.5 426.8 L571.0 426.0 L571.5 425.1 L572.0 424.2 L572.5 425.1 L573.0 426.0 L573.5 426.8 L574.0 427.7 L574.5 427.4 L575.0 427.1 L575.5 426.7 L576.0 426.4 L576.5 426.9 L577.0 427.4 L577.5 427.9 L578.0 428.4 L578.5 427.6 L579.0 426.8 L579.5 425.9 L580.0 425.1 L580.5 425.7 L581.0 426.4 L581.5 427.1 L582.0 427.7 L582.5 427.4 L583.0 427.1 L583.5 426.8 L584.0 426.5 L584.5 425.8 L585.0 425.1 L585.5 424.4 L586.0 423.7 L586.5 424.5 L587.0 425.2 L587.5 425.9 L588.0 426.7 L588.5 426.7 L589.0 426.8 L589.5 426.9 L590.0 427.0 L590.5 426.8 L591.0 426.7 L591.5 426.5 L592.0 426.3 L592.5 426.6 L593.0 426.9 L593.5 427.2 L594.0 427.5 L594.5 427.1 L595.0 426.6 L595.5 426.2 L596.0 425.7 L596.5 425.0 L597.0 424.3 L597.5 423.6 L598.0 422.8 L598.5 423.1 L599.0 423.4 L599.5 423.6 L600.0 423.8 L600.5 423.4 L601.0 423.0 L601.5 422.5 L602.0 422.0 L602.5 421.1 L603.0 420.2 L603.5 419.2 L604.0 418.3 L604.5 418.1 L605.0 417.8 L605.5 417.6 L606.0 417.4 L606.5 416.7 L607.0 416.1 L607.5 415.5 L608.0 415.0 L608.5 415.3 L609.0 415.6 L609.5 416.0 L610.0 416.5 L610.5 416.4 L611.0 416.3 L611.5 416.3 L612.0 416.4 L612.5 417.2 L613.0 418.1 L613.5 419.0 L614.0 420.0 L614.5 420.3 L615.0 420.7 L615.5 421.0 L616.0 421.2 L616.5 421.5 L617.0 421.8 L617.5 422.0 L618.0 422.2 L618.5 422.9 L619.0 423.6 L619.5 424.3 L620.0 425.0 L620.5 424.8 L621.0 424.6 L621.5 424.5 L622.0 424.2 L622.5 423.6 L623.0 422.9 L623.5 422.2 L624.0 421.5 L624.5 422.4 L625.0 423.3 L625.5 424.1 L626.0 425.0 L626.5 424.7 L627.0 424.5 L627.5 424.3 L628.0 424.0 L628.5 425.1 L629.0 426.3 L629.5 427.4 L630.0 428.5 L630.5 428.0 L631.0 427.5 L631.5 427.0 L632.0 426.5 L632.5 427.1 L633.0 427.6 L633.5 428.1 L634.0 428.7 L634.5 428.8 L635.0 428.8 L635.5 428.9 L636.0 429.0 L636.5 428.5 L637.0 428.0 L637.5 427.5 L638.0 426.9 L638.5 427.3 L639.0 427.6 L639.5 427.9 L640.0 428.2 L640.5 428.1 L641.0 428.0 L641.5 428.0 L642.0 427.9 L642.5 427.8 L643.0 427.8 L643.5 427.7 L644.0 427.7 L644.5 427.1 L645.0 426.5 L645.5 426.0 L646.0 425.4 L646.5 426.1 L647.0 426.9 L647.5 427.6 L648.0 428.4 L648.5 428.2 L649.0 428.1 L649.5 427.9 L650.0 427.8 L650.5 427.9 L651.0 427.9 L651.5 428.0 L652.0 428.1 L652.5 427.8 L653.0 427.6 L653.5 427.3 L654.0 427.1 L654.5 426.7 L655.0 426.3 L655.5 425.9 L656.0 425.5 L656.5 426.3 L657.0 427.0 L657.5 427.8 L658.0 428.6 L658.5 428.6 L659.0 428.6 L659.5 428.6 L660.0 428.6 L660.5 428.7 L661.0 428.8 L661.5 428.9 L662.0 429.0 L662.5 428.2 L663.0 427.4 L663.5 426.6 L664.0 425.7 L664.5 426.5 L665.0 427.2 L665.5 428.0 L666.0 428.7 L666.5 428.6 L667.0 428.5 L667.5 428.5 L668.0 428.4 L668.5 428.3 L669.0 428.3 L669.5 428.2 L670.0 428.2 L670.5 427.8 L671.0 427.4 L671.5 427.0 L672.0 426.6 L672.5 427.1 L673.0 427.5 L673.5 427.9 L674.0 428.3 L674.5 427.6 L675.0 426.8 L675.5 426.0 L676.0 425.2 L676.5 425.8 L677.0 426.5 L677.5 427.2 L678.0 427.9 L678.5 427.6 L679.0 427.3 L679.5 427.0 L680.0 426.7 L680.5 426.6 L681.0 426.5 L681.5 426.4 L682.0 426.3 L682.5 426.7 L683.0 427.1 L683.5 427.5 L684.0 427.9 L684.5 427.6 L685.0 427.4 L685.5 427.1 L686.0 426.9 L686.5 427.3 L687.0 427.7 L687.5 428.1 L688.0 428.5 L688.5 428.3 L689.0 428.0 L689.5 427.7 L690.0 427.4 L690.5 427.6 L691.0 427.7 L691.5 427.9 L692.0 428.0 L692.5 428.3 L693.0 428.6 L693.5 428.9 L694.0 429.1 L694.5 428.5 L695.0 427.9 L695.5 427.2 L696.0 426.5 L696.5 427.1 L697.0 427.7 L697.5 428.2 L698.0 428.8 L698.5 428.7 L699.0 428.6 L699.5 428.5 L700.0 428.4 L700.5 428.2 L701.0 428.0 L701.5 427.8 L702.0 427.6 L702.5 427.9 L703.0 428.1 L703.5 428.3 L704.0 428.6 L704.5 428.1 L705.0 427.5 L705.5 427.0 L706.0 426.4 L706.5 426.6 L707.0 426.8 L707.5 427.0 L708.0 427.2 L708.5 427.5 L709.0 427.9 L709.5 428.2 L710.0 428.5 L710.5 428.1 L711.0 427.8 L711.5 427.4 L712.0 427.1 L712.5 427.3 L713.0 427.6 L713.5 427.8 L714.0 428.1 L714.5 427.8 L715.0 427.6 L715.5 427.3 L716.0 427.0 L716.5 427.5 L717.0 428.0 L717.5 428.5 L718.0 428.9 L718.5 428.7 L719.0 428.5 L719.5 428.3 L720.0 428.1 L720.5 428.0 L721.0 427.8 L721.5 427.6 L722.0 427.4 L722.5 427.7 L723.0 428.0 L723.5 428.4 L724.0 428.6 L724.5 428.3 L725.0 428.0 L725.5 427.7 L726.0 427.4 L726.5 427.8 L727.0 428.3 L727.5 428.7 L728.0 429.2 L728.5 429.2 L729.0 429.2 L729.5 429.2 L730.0 429.2 L730.5 429.0 L731.0 428.8 L731.5 428.6 L732.0 428.4 L732.5 428.4 L733.0 428.4 L733.5 428.4 L734.0 428.4 L734.5 428.4 L735.0 428.3 L735.5 428.2 L736.0 428.1 L736.5 428.4 L737.0 428.6 L737.5 428.8 L738.0 429.1 L738.5 428.8 L739.0 428.4 L739.5 428.1 L740.0 427.8 L740.5 427.3 L741.0 426.9 L741.5 426.5 L742.0 426.1 L742.5 426.5 L743.0 426.8 L743.5 427.2 L744.0 427.6 L744.5 427.6 L745.0 427.7 L745.5 427.8 L746.0 427.8 L746.5 427.6 L747.0 427.4 L747.5 427.1 L748.0 426.8 L748.5 426.9 L749.0 426.9 L749.5 426.9 L750.0 426.8 L750.5 426.5 L751.0 426.1 L751.5 425.7 L752.0 425.3 L752.5 424.8 L753.0 424.3 L753.5 423.8 L754.0 423.2 L754.5 422.5 L755.0 421.9 L755.5 421.2 L756.0 420.5 L756.5 420.1 L757.0 419.6 L757.5 419.1 L758.0 418.6 L758.5 418.0 L759.0 417.4 L759.5 416.8 L760.0 416.3 L760.5 415.9 L761.0 415.5 L761.5 415.1 L762.0 414.8 L762.5 414.8 L763.0 414.9 L763.5 415.0 L764.0 415.2 L764.5 415.0 L765.0 414.9 L765.5 414.8 L766.0 414.8 L766.5 415.1 L767.0 415.4 L767.5 415.8 L768.0 416.3 L768.5 416.5 L769.0 416.8 L769.5 417.1 L770.0 417.4 L770.5 417.9 L771.0 418.4 L771.5 418.9 L772.0 419.4 L772.5 420.1 L773.0 420.8 L773.5 421.5 L774.0 422.2 L774.5 422.9 L775.0 423.7 L775.5 424.4 L776.0 425.1 L776.5 425.4 L777.0 425.7 L777.5 425.9 L778.0 426.1 L778.5 426.3 L779.0 426.6 L779.5 426.8 L780.0 427.0 L780.5 427.2 L781.0 427.5 L781.5 427.8 L782.0 428.0 L782.5 428.1 L783.0 428.2 L783.5 428.2 L784.0 428.3 L784.5 428.4 L785.0 428.5 L785.5 428.6 L786.0 428.7 L786.5 428.6 L787.0 428.4 L787.5 428.2 L788.0 428.1 L788.5 428.0 L789.0 428.0 L789.5 427.9 L790.0 427.9 L790.5 427.3 L791.0 426.7 L791.5 426.1 L792.0 425.5 L792.5 426.4 L793.0 427.3 L793.5 428.1 L794.0 429.0 L794.5 428.6 L795.0 428.2 L795.5 427.7 L796.0 427.3 L796.5 427.8 L797.0 428.3 L797.5 428.8 L798.0 429.3 L798.5 428.8 L799.0 428.4 L799.5 427.9 L800.0 427.4 L800.5 428.0 L801.0 428.6 L801.5 429.2 L802.0 429.8 L802.5 429.1 L803.0 428.5 L803.5 427.8 L804.0 427.1 L804.5 427.3 L805.0 427.4 L805.5 427.5 L806.0 427.6 L806.5 428.2 L807.0 428.7 L807.5 429.3 L808.0 429.8 L808.5 429.8 L809.0 429.7 L809.5 429.7 L810.0 429.6 L810.5 429.5 L811.0 429.3 L811.5 429.2 L812.0 429.1 L812.5 429.1 L813.0 429.2 L813.5 429.2 L814.0 429.2 L814.5 429.5 L815.0 429.7 L815.5 429.9 L816.0 430.1 L816.5 430.1 L817.0 430.1 L817.5 430.1 L818.0 430.2 L818.5 430.2 L819.0 430.2 L819.5 430.2 L820.0 430.3 L820.5 429.8 L821.0 429.3 L821.5 428.8 L822.0 428.3 L822.5 428.2 L823.0 428.1 L823.5 427.9 L824.0 427.8 L824.5 428.2 L825.0 428.7 L825.5 429.1 L826.0 429.6 L826.5 429.6 L827.0 429.7 L827.5 429.7 L828.0 429.8 L828.5 429.9 L829.0 430.0 L829.5 430.1 L830.0 430.2 L830.5 430.0 L831.0 429.7 L831.5 429.5 L832.0 429.2 L832.5 429.1 L833.0 428.9 L833.5 428.7 L834.0 428.5 L834.5 428.5 L835.0 428.4 L835.5 428.4 L836.0 428.3 L836.5 428.5 L837.0 428.7 L837.5 428.8 L838.0 429.0 L838.5 428.8 L839.0 428.5 L839.5 428.3 L840.0 428.1 L840.5 428.4 L841.0 428.6 L841.5 428.9 L842.0 429.1 L842.5 429.4 L843.0 429.6 L843.5 429.8 L844.0 430.0 L844.5 430.1 L845.0 430.1 L845.5 430.1 L846.0 430.1 L846.5 429.9 L847.0 429.6 L847.5 429.4 L848.0 429.2 L848.5 429.6 L849.0 429.9 L849.5 430.3 L850.0 430.7 L850.5 430.6 L851.0 430.4 L851.5 430.2 L852.0 430.1 L852.5 429.9 L853.0 429.8 L853.5 429.6 L854.0 429.5 L854.5 429.9 L855.0 430.3 L855.5 430.7 L856.0 431.1 L856.5 431.1 L857.0 431.1 L857.5 431.2 L858.0 431.2 L858.5 431.3 L859.0 431.5 L859.5 431.6 L860.0 431.7 L860.5 431.4 L861.0 431.1 L861.5 430.8 L862.0 430.5 L862.5 430.1 L863.0 429.6 L863.5 429.2 L864.0 428.7 L864.5 429.1 L865.0 429.5 L865.5 430.0 L866.0 430.4 L866.5 430.4 L867.0 430.5 L867.5 430.6 L868.0 430.7 L868.5 430.6 L869.0 430.5 L869.5 430.4 L870.0 430.4 L870.5 430.4 L871.0 430.5 L871.5 430.6 L872.0 430.7 L872.5 430.1 L873.0 429.4 L873.5 428.8 L874.0 428.1 L874.5 428.8 L875.0 429.5 L875.5 430.1 L876.0 430.7 L876.5 430.8 L877.0 431.0 L877.5 431.0 L878.0 431.1 L878.5 430.9 L879.0 430.7 L879.5 430.5 L880.0 430.2 L880.5 429.6 L881.0 428.9 L881.5 428.2 L882.0 427.5 L882.5 427.2 L883.0 427.0 L883.5 426.8 L884.0 426.5 L884.5 426.4 L885.0 426.3 L885.5 426.2 L886.0 426.1 L886.5 425.7 L887.0 425.3 L887.5 424.9 L888.0 424.5 L888.5 424.4 L889.0 424.3 L889.5 424.3 L890.0 424.3 L890.5 424.1 L891.0 424.0 L891.5 423.9 L892.0 423.9 L892.5 423.5 L893.0 423.3 L893.5 423.0 L894.0 422.8 L894.5 422.7 L895.0 422.7 L895.5 422.6 L896.0 422.6 L896.5 423.2 L897.0 423.9 L897.5 424.6 L898.0 425.2 L898.5 425.5 L899.0 425.9 L899.5 426.2 L900.0 426.5 L900.5 426.3 L901.0 426.1 L901.5 425.9 L902.0 425.7 L902.5 426.5 L903.0 427.3 L903.5 428.0 L904.0 428.8 L904.5 429.0 L905.0 429.1 L905.5 429.3 L906.0 429.4 L906.5 429.5 L907.0 429.7 L907.5 429.8 L908.0 429.9 L908.5 430.1 L909.0 430.3 L909.5 430.5 L910.0 430.6 L910.5 430.6 L911.0 430.5 L911.5 430.5 L912.0 430.4 L912.5 430.3 L913.0 430.2 L913.5 430.1 L914.0 430.0 L914.5 430.2 L915.0 430.3 L915.5 430.5 L916.0 430.6 L916.5 430.4 L917.0 430.2 L917.5 430.0 L918.0 429.8 L918.5 429.9 L919.0 429.9 L919.5 429.9 L920.0 430.0 L920.5 429.4 L921.0 428.9 L921.5 428.4 L922.0 427.8 L922.5 428.4 L923.0 429.0 L923.5 429.6 L924.0 430.2 L924.5 430.0 L925.0 429.9 L925.5 429.8 L926.0 429.7 L926.5 429.9 L927.0 430.2 L927.5 430.4 L928.0 430.6 L928.5 430.5 L929.0 430.5 L929.5 430.4 L930.0 430.4 L930.5 430.0 L931.0 429.6 L931.5 429.3 L932.0 429.0 L932.5 429.5 L933.0 430.1 L933.5 430.8 L934.0 431.4 L934.5 431.4 L935.0 431.4 L935.5 431.5 L936.0 431.5 L936.5 431.4 L937.0 431.4 L937.5 431.3 L938.0 431.2 L938.5 431.1 L939.0 431.0 L939.5 430.8 L940.0 430.7 L940.5 430.7 L941.0 430.8 L941.5 430.8 L942.0 430.9 L942.5 430.9 L943.0 430.9 L943.5 431.0 L944.0 431.0 L944.5 431.0 L945.0 431.0 L945.5 431.0 L946.0 431.1 L946.5 431.1 L947.0 431.2 L947.5 431.3 L948.0 431.3 L948.5 430.8 L949.0 430.3 L949.5 429.8 L950.0 429.3 L950.5 429.4 L951.0 429.5 L951.5 429.6 L952.0 429.7 L952.5 429.7 L953.0 429.8 L953.5 429.8 L954.0 429.8 L954.5 429.6 L955.0 429.5 L955.5 429.3 L956.0 429.1 L956.5 429.3 L957.0 429.5 L957.5 429.7 L958.0 429.9 L958.5 429.5 L959.0 429.0 L959.5 428.5 L960.0 428.1 L960.5 428.1 L961.0 428.2 L961.5 428.3 L962.0 428.3 L962.5 428.0 L963.0 427.6 L963.5 427.3 L964.0 426.9 L964.5 426.5 L965.0 426.1 L965.5 425.6 L966.0 425.2 L966.5 424.9 L967.0 424.7 L967.5 424.5 L968.0 424.2 L968.5 424.4 L969.0 424.6 L969.5 424.9 L970.0 425.1 L970.5 424.7 L971.0 424.3 L971.5 423.9 L972.0 423.6 L972.5 423.1 L973.0 422.6 L973.5 422.1 L974.0 421.6 L974.5 421.8 L975.0 421.9 L975.5 422.1 L976.0 422.2 L976.5 422.2 L977.0 422.1 L977.5 422.1 L978.0 422.1 L978.5 421.9 L979.0 421.8 L979.5 421.7 L980.0 421.7 L980.5 421.7 L981.0 421.7 L981.5 421.7 L982.0 421.8 L982.5 421.9 L983.0 422.1 L983.5 422.3 L984.0 422.5 L984.5 422.7 L985.0 423.0 L985.5 423.3 L986.0 423.5 L986.5 423.5 L987.0 423.5 L987.5 423.5 L988.0 423.6 L988.5 423.5 L989.0 423.4 L989.5 423.3 L990.0 423.3 L990.5 423.9 L991.0 424.6 L991.5 425.3 L992.0 426.0 L992.5 426.3 L993.0 426.6 L993.5 426.8 L994.0 427.1 L994.5 427.4 L995.0 427.7 L995.5 428.0 L996.0 428.3 L996.5 428.5 L997.0 428.7 L997.5 428.9 L998.0 429.1 L998.5 429.4 L999.0 429.6 L999.5 429.9 L1000.0 430.2 L1000.5 430.2 L1001.0 430.2 L1001.5 430.1 L1002.0 430.1 L1002.5 430.2 L1003.0 430.3 L1003.5 430.3 L1004.0 430.4 L1004.5 430.5 L1005.0 430.6 L1005.5 430.7 L1006.0 430.8 L1006.5 430.8 L1007.0 430.8 L1007.5 430.8 L1008.0 430.8 L1008.5 430.8 L1009.0 430.8 L1009.5 430.9 L1010.0 430.9 L1010.5 430.6 L1011.0 430.3 L1011.5 430.0 L1012.0 429.7 L1012.5 430.4 L1013.0 431.1 L1013.5 431.8 L1014.0 432.5 L1014.5 432.6 L1015.0 432.6 L1015.5 432.7 L1016.0 432.7 L1016.5 432.8 L1017.0 432.8 L1017.5 432.8 L1018.0 432.8 L1018.5 432.8 L1019.0 432.8 L1019.5 432.8 L1020.0 432.8 L1020.5 432.8 L1021.0 432.8 L1021.5 432.9 L1022.0 432.9 L1022.5 432.8 L1023.0 432.7 L1023.5 432.7 L1024.0 432.7 L1024.5 432.6 L1025.0 432.6 L1025.5 432.6 L1026.0 432.5 L1026.5 432.7 L1027.0 432.8 L1027.5 433.0 L1028.0 433.2 L1028.5 433.0 L1029.0 432.8 L1029.5 432.6 L1030.0 432.4 L1030.5 432.6 L1031.0 432.8 L1031.5 433.0 L1032.0 433.2 L1032.5 432.9 L1033.0 432.7 L1033.5 432.4 L1034.0 432.2 L1034.5 432.5 L1035.0 432.7 L1035.5 433.0 L1036.0 433.2 L1036.5 433.3 L1037.0 433.4 L1037.5 433.4 L1038.0 433.5 L1038.5 433.5 L1039.0 433.5 L1039.5 433.5 L1040.0 433.4 L1040.5 433.4 L1041.0 433.4 L1041.5 433.4 L1042.0 433.4 L1042.5 433.3 L1043.0 433.3 L1043.5 433.3 L1044.0 433.2 L1044.5 433.0 L1045.0 432.8 L1045.5 432.7 L1046.0 432.5 L1046.5 432.7 L1047.0 432.9 L1047.5 433.2 L1048.0 433.4 L1048.5 433.6 L1049.0 433.8 L1049.5 434.0 L1050.0 434.2 L1050.5 434.1 L1051.0 434.1 L1051.5 434.0 L1052.0 434.0 L1052.5 433.8 L1052.5 441.2 L1052.0 441.2 L1051.5 441.3 L1051.0 441.4 L1050.5 441.4 L1050.0 441.5 L1049.5 441.4 L1049.0 441.4 L1048.5 441.3 L1048.0 441.2 L1047.5 441.4 L1047.0 441.6 L1046.5 441.8 L1046.0 442.0 L1045.5 441.7 L1045.0 441.4 L1044.5 441.1 L1044.0 440.8 L1043.5 440.8 L1043.0 440.7 L1042.5 440.7 L1042.0 440.7 L1041.5 441.2 L1041.0 441.6 L1040.5 442.1 L1040.0 442.5 L1039.5 442.2 L1039.0 441.9 L1038.5 441.5 L1038.0 441.1 L1037.5 441.1 L1037.0 441.1 L1036.5 441.0 L1036.0 441.0 L1035.5 440.9 L1035.0 440.8 L1034.5 440.7 L1034.0 440.6 L1033.5 440.7 L1033.0 440.8 L1032.5 440.9 L1032.0 441.0 L1031.5 441.0 L1031.0 441.1 L1030.5 441.2 L1030.0 441.3 L1029.5 441.1 L1029.0 440.8 L1028.5 440.5 L1028.0 440.3 L1027.5 440.3 L1027.0 440.4 L1026.5 440.4 L1026.0 440.4 L1025.5 440.5 L1025.0 440.5 L1024.5 440.6 L1024.0 440.7 L1023.5 440.5 L1023.0 440.3 L1022.5 440.1 L1022.0 439.9 L1021.5 440.1 L1021.0 440.2 L1020.5 440.4 L1020.0 440.5 L1019.5 440.5 L1019.0 440.5 L1018.5 440.5 L1018.0 440.4 L1017.5 440.3 L1017.0 440.2 L1016.5 440.1 L1016.0 440.0 L1015.5 439.9 L1015.0 439.9 L1014.5 439.8 L1014.0 439.7 L1013.5 439.7 L1013.0 439.7 L1012.5 439.7 L1012.0 439.7 L1011.5 439.7 L1011.0 439.8 L1010.5 439.9 L1010.0 440.0 L1009.5 439.8 L1009.0 439.5 L1008.5 439.4 L1008.0 439.2 L1007.5 439.3 L1007.0 439.4 L1006.5 439.4 L1006.0 439.5 L1005.5 439.6 L1005.0 439.7 L1004.5 439.7 L1004.0 439.7 L1003.5 439.6 L1003.0 439.4 L1002.5 439.2 L1002.0 438.9 L1001.5 439.2 L1001.0 439.5 L1000.5 439.8 L1000.0 440.0 L999.5 439.5 L999.0 439.0 L998.5 438.5 L998.0 437.9 L997.5 438.0 L997.0 438.1 L996.5 438.2 L996.0 438.3 L995.5 437.8 L995.0 437.3 L994.5 436.8 L994.0 436.3 L993.5 436.2 L993.0 436.1 L992.5 436.0 L992.0 435.9 L991.5 435.4 L991.0 434.9 L990.5 434.5 L990.0 434.1 L989.5 433.9 L989.0 433.8 L988.5 433.7 L988.0 433.6 L987.5 433.8 L987.0 434.0 L986.5 434.1 L986.0 434.3 L985.5 434.1 L985.0 433.9 L984.5 433.7 L984.0 433.4 L983.5 433.0 L983.0 432.5 L982.5 432.1 L982.0 431.6 L981.5 431.6 L981.0 431.5 L980.5 431.5 L980.0 431.6 L979.5 431.5 L979.0 431.5 L978.5 431.5 L978.0 431.5 L977.5 431.5 L977.0 431.5 L976.5 431.5 L976.0 431.6 L975.5 431.7 L975.0 431.9 L974.5 432.1 L974.0 432.3 L973.5 432.7 L973.0 433.1 L972.5 433.5 L972.0 434.0 L971.5 434.1 L971.0 434.2 L970.5 434.3 L970.0 434.5 L969.5 434.6 L969.0 434.8 L968.5 434.9 L968.0 435.1 L967.5 435.2 L967.0 435.2 L966.5 435.3 L966.0 435.3 L965.5 436.0 L965.0 436.7 L964.5 437.4 L964.0 438.1 L963.5 437.7 L963.0 437.2 L962.5 436.8 L962.0 436.3 L961.5 436.6 L961.0 436.8 L960.5 437.1 L960.0 437.4 L959.5 437.4 L959.0 437.4 L958.5 437.4 L958.0 437.4 L957.5 437.5 L957.0 437.7 L956.5 437.8 L956.0 437.9 L955.5 438.1 L955.0 438.3 L954.5 438.5 L954.0 438.7 L953.5 438.8 L953.0 438.9 L952.5 439.0 L952.0 439.1 L951.5 439.3 L951.0 439.6 L950.5 439.8 L950.0 440.1 L949.5 439.7 L949.0 439.3 L948.5 439.0 L948.0 438.6 L947.5 438.7 L947.0 438.8 L946.5 438.9 L946.0 439.0 L945.5 438.8 L945.0 438.6 L944.5 438.5 L944.0 438.3 L943.5 438.7 L943.0 439.0 L942.5 439.4 L942.0 439.8 L941.5 439.8 L941.0 439.8 L940.5 439.8 L940.0 439.7 L939.5 439.8 L939.0 439.9 L938.5 440.0 L938.0 440.1 L937.5 439.8 L937.0 439.6 L936.5 439.3 L936.0 439.0 L935.5 439.3 L935.0 439.5 L934.5 439.7 L934.0 439.9 L933.5 439.6 L933.0 439.3 L932.5 439.1 L932.0 438.8 L931.5 438.5 L931.0 438.3 L930.5 438.0 L930.0 437.7 L929.5 437.9 L929.0 438.0 L928.5 438.2 L928.0 438.4 L927.5 438.6 L927.0 438.9 L926.5 439.2 L926.0 439.4 L925.5 439.1 L925.0 438.7 L924.5 438.3 L924.0 438.0 L923.5 438.0 L923.0 438.1 L922.5 438.1 L922.0 438.1 L921.5 438.4 L921.0 438.7 L920.5 439.0 L920.0 439.2 L919.5 439.0 L919.0 438.8 L918.5 438.6 L918.0 438.4 L917.5 438.5 L917.0 438.6 L916.5 438.8 L916.0 438.9 L915.5 438.8 L915.0 438.7 L914.5 438.6 L914.0 438.5 L913.5 438.6 L913.0 438.7 L912.5 438.9 L912.0 439.0 L911.5 439.3 L911.0 439.5 L910.5 439.8 L910.0 440.0 L909.5 440.3 L909.0 440.5 L908.5 440.7 L908.0 440.9 L907.5 440.3 L907.0 439.7 L906.5 439.1 L906.0 438.4 L905.5 438.5 L905.0 438.5 L904.5 438.5 L904.0 438.5 L903.5 438.2 L903.0 438.0 L902.5 437.7 L902.0 437.4 L901.5 436.8 L901.0 436.3 L900.5 435.7 L900.0 435.2 L899.5 435.1 L899.0 435.1 L898.5 435.1 L898.0 435.0 L897.5 434.7 L897.0 434.5 L896.5 434.2 L896.0 433.9 L895.5 433.8 L895.0 433.6 L894.5 433.5 L894.0 433.4 L893.5 433.3 L893.0 433.3 L892.5 433.3 L892.0 433.4 L891.5 433.5 L891.0 433.7 L890.5 433.9 L890.0 434.1 L889.5 434.2 L889.0 434.2 L888.5 434.3 L888.0 434.4 L887.5 434.5 L887.0 434.6 L886.5 434.7 L886.0 434.8 L885.5 435.4 L885.0 436.0 L884.5 436.5 L884.0 437.1 L883.5 437.3 L883.0 437.5 L882.5 437.7 L882.0 437.9 L881.5 437.9 L881.0 438.0 L880.5 438.0 L880.0 438.0 L879.5 438.3 L879.0 438.5 L878.5 438.8 L878.0 439.0 L877.5 439.1 L877.0 439.3 L876.5 439.4 L876.0 439.5 L875.5 439.5 L875.0 439.6 L874.5 439.6 L874.0 439.6 L873.5 439.5 L873.0 439.5 L872.5 439.4 L872.0 439.3 L871.5 439.5 L871.0 439.8 L870.5 440.0 L870.0 440.2 L869.5 440.0 L869.0 439.8 L868.5 439.6 L868.0 439.4 L867.5 439.2 L867.0 438.9 L866.5 438.7 L866.0 438.4 L865.5 438.5 L865.0 438.6 L864.5 438.7 L864.0 438.7 L863.5 439.0 L863.0 439.3 L862.5 439.6 L862.0 439.9 L861.5 439.7 L861.0 439.4 L860.5 439.2 L860.0 438.9 L859.5 438.8 L859.0 438.7 L858.5 438.6 L858.0 438.5 L857.5 438.7 L857.0 438.9 L856.5 439.2 L856.0 439.4 L855.5 439.3 L855.0 439.2 L854.5 439.1 L854.0 439.0 L853.5 439.3 L853.0 439.6 L852.5 439.8 L852.0 440.1 L851.5 439.9 L851.0 439.7 L850.5 439.6 L850.0 439.4 L849.5 439.3 L849.0 439.2 L848.5 439.1 L848.0 439.1 L847.5 438.8 L847.0 438.5 L846.5 438.2 L846.0 437.9 L845.5 438.0 L845.0 438.2 L844.5 438.3 L844.0 438.4 L843.5 438.4 L843.0 438.4 L842.5 438.4 L842.0 438.4 L841.5 438.7 L841.0 439.0 L840.5 439.3 L840.0 439.6 L839.5 439.1 L839.0 438.5 L838.5 438.0 L838.0 437.4 L837.5 437.9 L837.0 438.3 L836.5 438.7 L836.0 439.2 L835.5 438.6 L835.0 438.1 L834.5 437.5 L834.0 437.0 L833.5 437.1 L833.0 437.2 L832.5 437.2 L832.0 437.3 L831.5 437.4 L831.0 437.4 L830.5 437.5 L830.0 437.6 L829.5 437.5 L829.0 437.5 L828.5 437.4 L828.0 437.4 L827.5 437.5 L827.0 437.6 L826.5 437.7 L826.0 437.8 L825.5 437.7 L825.0 437.7 L824.5 437.6 L824.0 437.5 L823.5 437.6 L823.0 437.7 L822.5 437.8 L822.0 437.9 L821.5 438.1 L821.0 438.3 L820.5 438.5 L820.0 438.7 L819.5 438.8 L819.0 438.9 L818.5 439.0 L818.0 439.2 L817.5 438.7 L817.0 438.3 L816.5 437.8 L816.0 437.4 L815.5 437.6 L815.0 437.9 L814.5 438.1 L814.0 438.3 L813.5 438.2 L813.0 438.1 L812.5 438.0 L812.0 437.9 L811.5 438.4 L811.0 438.8 L810.5 439.3 L810.0 439.8 L809.5 439.1 L809.0 438.4 L808.5 437.6 L808.0 436.9 L807.5 436.9 L807.0 436.9 L806.5 436.8 L806.0 436.8 L805.5 437.4 L805.0 438.0 L804.5 438.5 L804.0 439.1 L803.5 439.0 L803.0 438.8 L802.5 438.7 L802.0 438.5 L801.5 438.3 L801.0 438.0 L800.5 437.8 L800.0 437.6 L799.5 437.5 L799.0 437.4 L798.5 437.4 L798.0 437.3 L797.5 437.3 L797.0 437.3 L796.5 437.2 L796.0 437.2 L795.5 437.2 L795.0 437.2 L794.5 437.2 L794.0 437.3 L793.5 437.4 L793.0 437.4 L792.5 437.5 L792.0 437.6 L791.5 437.5 L791.0 437.3 L790.5 437.2 L790.0 437.0 L789.5 437.2 L789.0 437.4 L788.5 437.6 L788.0 437.8 L787.5 437.7 L787.0 437.7 L786.5 437.7 L786.0 437.7 L785.5 437.8 L785.0 438.0 L784.5 438.1 L784.0 438.2 L783.5 437.7 L783.0 437.2 L782.5 436.7 L782.0 436.1 L781.5 435.8 L781.0 435.6 L780.5 435.3 L780.0 434.9 L779.5 435.9 L779.0 436.9 L778.5 437.8 L778.0 438.7 L777.5 437.4 L777.0 436.1 L776.5 434.8 L776.0 433.4 L775.5 433.6 L775.0 433.8 L774.5 433.9 L774.0 434.0 L773.5 433.8 L773.0 433.5 L772.5 433.2 L772.0 432.9 L771.5 431.9 L771.0 430.9 L770.5 429.9 L770.0 428.9 L769.5 428.4 L769.0 427.9 L768.5 427.4 L768.0 426.9 L767.5 426.6 L767.0 426.4 L766.5 426.2 L766.0 426.1 L765.5 425.6 L765.0 425.3 L764.5 424.9 L764.0 424.7 L763.5 424.7 L763.0 424.9 L762.5 425.1 L762.0 425.3 L761.5 426.5 L761.0 427.8 L760.5 429.1 L760.0 430.5 L759.5 430.3 L759.0 430.0 L758.5 429.8 L758.0 429.6 L757.5 430.6 L757.0 431.6 L756.5 432.6 L756.0 433.6 L755.5 433.4 L755.0 433.2 L754.5 432.9 L754.0 432.6 L753.5 433.5 L753.0 434.3 L752.5 435.1 L752.0 435.9 L751.5 436.1 L751.0 436.3 L750.5 436.5 L750.0 436.7 L749.5 436.4 L749.0 436.1 L748.5 435.8 L748.0 435.5 L747.5 435.9 L747.0 436.3 L746.5 436.6 L746.0 437.0 L745.5 437.0 L745.0 437.0 L744.5 437.0 L744.0 437.0 L743.5 437.4 L743.0 437.7 L742.5 438.1 L742.0 438.4 L741.5 438.0 L741.0 437.6 L740.5 437.2 L740.0 436.8 L739.5 437.7 L739.0 438.6 L738.5 439.5 L738.0 440.4 L737.5 440.2 L737.0 440.0 L736.5 439.8 L736.0 439.6 L735.5 439.0 L735.0 438.3 L734.5 437.7 L734.0 437.0 L733.5 437.2 L733.0 437.4 L732.5 437.6 L732.0 437.8 L731.5 437.4 L731.0 437.1 L730.5 436.7 L730.0 436.4 L729.5 436.3 L729.0 436.3 L728.5 436.2 L728.0 436.2 L727.5 436.7 L727.0 437.2 L726.5 437.7 L726.0 438.2 L725.5 438.0 L725.0 437.8 L724.5 437.6 L724.0 437.4 L723.5 437.8 L723.0 438.1 L722.5 438.4 L722.0 438.8 L721.5 438.4 L721.0 438.1 L720.5 437.7 L720.0 437.3 L719.5 437.0 L719.0 436.6 L718.5 436.2 L718.0 435.8 L717.5 436.2 L717.0 436.6 L716.5 437.0 L716.0 437.4 L715.5 437.0 L715.0 436.6 L714.5 436.2 L714.0 435.8 L713.5 436.8 L713.0 437.8 L712.5 438.8 L712.0 439.8 L711.5 438.9 L711.0 437.9 L710.5 437.0 L710.0 436.0 L709.5 436.2 L709.0 436.4 L708.5 436.6 L708.0 436.9 L707.5 436.9 L707.0 436.9 L706.5 436.9 L706.0 436.9 L705.5 436.7 L705.0 436.5 L704.5 436.3 L704.0 436.1 L703.5 436.3 L703.0 436.6 L702.5 436.9 L702.0 437.2 L701.5 436.9 L701.0 436.6 L700.5 436.3 L700.0 436.1 L699.5 436.1 L699.0 436.2 L698.5 436.3 L698.0 436.4 L697.5 436.8 L697.0 437.3 L696.5 437.8 L696.0 438.2 L695.5 438.2 L695.0 438.2 L694.5 438.2 L694.0 438.2 L693.5 438.3 L693.0 438.4 L692.5 438.5 L692.0 438.6 L691.5 438.2 L691.0 437.8 L690.5 437.4 L690.0 437.0 L689.5 436.8 L689.0 436.6 L688.5 436.4 L688.0 436.3 L687.5 436.2 L687.0 436.1 L686.5 436.1 L686.0 436.0 L685.5 436.2 L685.0 436.4 L684.5 436.6 L684.0 436.8 L683.5 437.2 L683.0 437.6 L682.5 438.1 L682.0 438.5 L681.5 437.7 L681.0 437.0 L680.5 436.2 L680.0 435.5 L679.5 435.7 L679.0 435.9 L678.5 436.1 L678.0 436.3 L677.5 436.1 L677.0 436.0 L676.5 435.9 L676.0 435.8 L675.5 435.8 L675.0 435.7 L674.5 435.7 L674.0 435.7 L673.5 435.7 L673.0 435.8 L672.5 435.8 L672.0 435.8 L671.5 435.9 L671.0 435.9 L670.5 436.0 L670.0 436.0 L669.5 436.7 L669.0 437.3 L668.5 438.0 L668.0 438.6 L667.5 438.1 L667.0 437.5 L666.5 437.0 L666.0 436.4 L665.5 437.2 L665.0 437.9 L664.5 438.6 L664.0 439.3 L663.5 439.3 L663.0 439.3 L662.5 439.2 L662.0 439.2 L661.5 438.3 L661.0 437.5 L660.5 436.6 L660.0 435.7 L659.5 435.9 L659.0 436.0 L658.5 436.2 L658.0 436.3 L657.5 436.1 L657.0 435.8 L656.5 435.6 L656.0 435.4 L655.5 435.4 L655.0 435.4 L654.5 435.5 L654.0 435.5 L653.5 435.7 L653.0 436.0 L652.5 436.2 L652.0 436.5 L651.5 436.4 L651.0 436.3 L650.5 436.3 L650.0 436.2 L649.5 436.2 L649.0 436.2 L648.5 436.2 L648.0 436.2 L647.5 436.3 L647.0 436.3 L646.5 436.4 L646.0 436.5 L645.5 436.9 L645.0 437.4 L644.5 437.8 L644.0 438.3 L643.5 437.6 L643.0 437.0 L642.5 436.4 L642.0 435.7 L641.5 436.0 L641.0 436.4 L640.5 436.7 L640.0 437.0 L639.5 437.0 L639.0 436.9 L638.5 436.8 L638.0 436.7 L637.5 436.7 L637.0 436.6 L636.5 436.6 L636.0 436.5 L635.5 436.9 L635.0 437.3 L634.5 437.6 L634.0 438.0 L633.5 437.6 L633.0 437.2 L632.5 436.8 L632.0 436.3 L631.5 436.7 L631.0 437.0 L630.5 437.3 L630.0 437.7 L629.5 438.1 L629.0 438.5 L628.5 439.0 L628.0 439.4 L627.5 438.5 L627.0 437.6 L626.5 436.7 L626.0 435.8 L625.5 436.3 L625.0 436.8 L624.5 437.3 L624.0 437.7 L623.5 437.3 L623.0 436.9 L622.5 436.4 L622.0 436.0 L621.5 435.1 L621.0 434.3 L620.5 433.5 L620.0 432.7 L619.5 433.4 L619.0 434.0 L618.5 434.6 L618.0 435.1 L617.5 434.5 L617.0 433.8 L616.5 433.2 L616.0 432.5 L615.5 432.5 L615.0 432.6 L614.5 432.6 L614.0 432.6 L613.5 431.4 L613.0 430.1 L612.5 428.9 L612.0 427.7 L611.5 427.5 L611.0 427.3 L610.5 427.1 L610.0 427.0 L609.5 427.0 L609.0 427.1 L608.5 427.3 L608.0 427.6 L607.5 427.8 L607.0 428.0 L606.5 428.3 L606.0 428.7 L605.5 428.8 L605.0 428.9 L604.5 429.0 L604.0 429.1 L603.5 429.9 L603.0 430.8 L602.5 431.7 L602.0 432.5 L601.5 432.5 L601.0 432.5 L600.5 432.4 L600.0 432.3 L599.5 432.8 L599.0 433.3 L598.5 433.8 L598.0 434.3 L597.5 434.2 L597.0 434.2 L596.5 434.1 L596.0 434.0 L595.5 434.3 L595.0 434.5 L594.5 434.7 L594.0 434.9 L593.5 434.9 L593.0 434.9 L592.5 434.9 L592.0 434.8 L591.5 435.1 L591.0 435.5 L590.5 435.8 L590.0 436.2 L589.5 436.0 L589.0 435.9 L588.5 435.8 L588.0 435.7 L587.5 435.6 L587.0 435.6 L586.5 435.6 L586.0 435.5 L585.5 436.4 L585.0 437.2 L584.5 438.0 L584.0 438.9 L583.5 438.0 L583.0 437.2 L582.5 436.4 L582.0 435.6 L581.5 436.2 L581.0 436.9 L580.5 437.6 L580.0 438.2 L579.5 437.9 L579.0 437.6 L578.5 437.3 L578.0 437.0 L577.5 437.4 L577.0 437.8 L576.5 438.2 L576.0 438.6 L575.5 438.0 L575.0 437.5 L574.5 436.9 L574.0 436.3 L573.5 436.3 L573.0 436.3 L572.5 436.4 L572.0 436.4 L571.5 436.6 L571.0 436.8 L570.5 437.0 L570.0 437.3 L569.5 437.0 L569.0 436.8 L568.5 436.6 L568.0 436.4 L567.5 436.3 L567.0 436.2 L566.5 436.1 L566.0 436.0 L565.5 437.0 L565.0 437.9 L564.5 438.8 L564.0 439.7 L563.5 438.7 L563.0 437.6 L562.5 436.5 L562.0 435.4 L561.5 435.7 L561.0 435.9 L560.5 436.2 L560.0 436.4 L559.5 436.3 L559.0 436.3 L558.5 436.2 L558.0 436.2 L557.5 436.3 L557.0 436.5 L556.5 436.7 L556.0 436.8 L555.5 436.2 L555.0 435.6 L554.5 435.0 L554.0 434.5 L553.5 434.8 L553.0 435.1 L552.5 435.4 L552.0 435.7 L551.5 435.5 L551.0 435.2 L550.5 435.0 L550.0 434.8 L549.5 435.0 L549.0 435.2 L548.5 435.5 L548.0 435.7 L547.5 436.2 L547.0 436.6 L546.5 437.0 L546.0 437.4 L545.5 437.1 L545.0 436.8 L544.5 436.5 L544.0 436.2 L543.5 436.0 L543.0 435.8 L542.5 435.6 L542.0 435.4 L541.5 435.4 L541.0 435.4 L540.5 435.4 L540.0 435.4 L539.5 435.4 L539.0 435.3 L538.5 435.3 L538.0 435.3 L537.5 435.0 L537.0 434.7 L536.5 434.5 L536.0 434.3 L535.5 434.5 L535.0 434.8 L534.5 435.1 L534.0 435.3 L533.5 435.5 L533.0 435.6 L532.5 435.8 L532.0 435.9 L531.5 435.6 L531.0 435.4 L530.5 435.1 L530.0 434.8 L529.5 434.8 L529.0 434.7 L528.5 434.7 L528.0 434.6 L527.5 434.7 L527.0 434.8 L526.5 434.9 L526.0 435.0 L525.5 435.4 L525.0 435.8 L524.5 436.2 L524.0 436.6 L523.5 436.3 L523.0 436.0 L522.5 435.8 L522.0 435.5 L521.5 435.9 L521.0 436.3 L520.5 436.7 L520.0 437.1 L519.5 436.8 L519.0 436.6 L518.5 436.4 L518.0 436.2 L517.5 435.7 L517.0 435.2 L516.5 434.8 L516.0 434.3 L515.5 434.7 L515.0 435.1 L514.5 435.6 L514.0 436.0 L513.5 436.4 L513.0 436.8 L512.5 437.2 L512.0 437.7 L511.5 437.8 L511.0 437.9 L510.5 438.1 L510.0 438.2 L509.5 437.5 L509.0 436.8 L508.5 436.1 L508.0 435.4 L507.5 435.6 L507.0 435.7 L506.5 435.9 L506.0 436.1 L505.5 436.2 L505.0 436.3 L504.5 436.4 L504.0 436.5 L503.5 435.8 L503.0 435.1 L502.5 434.3 L502.0 433.6 L501.5 433.6 L501.0 433.7 L500.5 433.7 L500.0 433.8 L499.5 434.2 L499.0 434.6 L498.5 435.0 L498.0 435.4 L497.5 435.2 L497.0 435.0 L496.5 434.8 L496.0 434.6 L495.5 435.3 L495.0 436.0 L494.5 436.6 L494.0 437.2 L493.5 436.2 L493.0 435.2 L492.5 434.1 L492.0 433.0 L491.5 433.7 L491.0 434.4 L490.5 435.1 L490.0 435.8 L489.5 436.0 L489.0 436.1 L488.5 436.3 L488.0 436.5 L487.5 435.4 L487.0 434.4 L486.5 433.3 L486.0 432.3 L485.5 432.6 L485.0 433.0 L484.5 433.4 L484.0 433.7 L483.5 434.4 L483.0 435.0 L482.5 435.7 L482.0 436.3 L481.5 436.2 L481.0 436.1 L480.5 436.0 L480.0 435.8 L479.5 435.0 L479.0 434.2 L478.5 433.3 L478.0 432.4 L477.5 432.5 L477.0 432.7 L476.5 432.8 L476.0 432.8 L475.5 432.7 L475.0 432.5 L474.5 432.3 L474.0 432.2 L473.5 432.2 L473.0 432.3 L472.5 432.4 L472.0 432.5 L471.5 433.0 L471.0 433.6 L470.5 434.2 L470.0 434.8 L469.5 434.0 L469.0 433.1 L468.5 432.3 L468.0 431.5 L467.5 432.7 L467.0 433.8 L466.5 434.9 L466.0 436.0 L465.5 436.0 L465.0 436.0 L464.5 435.9 L464.0 435.8 L463.5 434.8 L463.0 433.8 L462.5 432.8 L462.0 431.8 L461.5 432.8 L461.0 433.8 L460.5 434.8 L460.0 435.8 L459.5 434.4 L459.0 433.0 L458.5 431.6 L458.0 430.3 L457.5 430.1 L457.0 429.9 L456.5 429.7 L456.0 429.5 L455.5 429.7 L455.0 430.0 L454.5 430.2 L454.0 430.5 L453.5 431.6 L453.0 432.7 L452.5 433.9 L452.0 435.0 L451.5 434.4 L451.0 433.8 L450.5 433.2 L450.0 432.5 L449.5 432.5 L449.0 432.5 L448.5 432.4 L448.0 432.4 L447.5 432.3 L447.0 432.2 L446.5 432.1 L446.0 432.1 L445.5 431.2 L445.0 430.3 L444.5 429.4 L444.0 428.6 L443.5 428.8 L443.0 429.1 L442.5 429.4 L442.0 429.7 L441.5 429.7 L441.0 429.7 L440.5 429.8 L440.0 429.8 L439.5 429.7 L439.0 429.5 L438.5 429.3 L438.0 429.2 L437.5 430.2 L437.0 431.1 L436.5 432.1 L436.0 433.0 L435.5 431.7 L435.0 430.4 L434.5 429.1 L434.0 427.8 L433.5 428.2 L433.0 428.5 L432.5 428.8 L432.0 429.2 L431.5 428.5 L431.0 427.8 L430.5 427.1 L430.0 426.4 L429.5 427.2 L429.0 428.0 L428.5 428.7 L428.0 429.5 L427.5 428.9 L427.0 428.3 L426.5 427.7 L426.0 427.0 L425.5 426.4 L425.0 425.8 L424.5 425.0 L424.0 424.2 L423.5 423.6 L423.0 422.9 L422.5 422.1 L422.0 421.2 L421.5 420.2 L421.0 419.0 L420.5 417.7 L420.0 416.1 L419.5 414.3 L419.0 412.3 L418.5 410.0 L418.0 407.4 L417.5 403.8 L417.0 399.8 L416.5 395.6 L416.0 391.1 L415.5 387.2 L415.0 383.0 L414.5 378.4 L414.0 373.4 L413.5 368.0 L413.0 362.3 L412.5 356.5 L412.0 350.4 L411.5 344.5 L411.0 338.5 L410.5 332.6 L410.0 326.9 L409.5 320.8 L409.0 315.1 L408.5 309.9 L408.0 305.3 L407.5 301.4 L407.0 298.2 L406.5 295.9 L406.0 294.3 L405.5 294.1 L405.0 294.7 L404.5 296.1 L404.0 298.4 L403.5 301.1 L403.0 304.6 L402.5 308.6 L402.0 313.2 L401.5 318.3 L401.0 323.7 L400.5 329.4 L400.0 335.2 L399.5 341.0 L399.0 346.8 L398.5 352.4 L398.0 358.0 L397.5 363.9 L397.0 369.6 L396.5 375.1 L396.0 380.3 L395.5 384.9 L395.0 389.2 L394.5 393.2 L394.0 396.9 L393.5 399.8 L393.0 402.4 L392.5 404.7 L392.0 406.6 L391.5 408.6 L391.0 410.4 L390.5 411.8 L390.0 413.0 L389.5 413.2 L389.0 413.2 L388.5 412.9 L388.0 412.4 L387.5 412.3 L387.0 412.0 L386.5 411.4 L386.0 410.5 L385.5 408.9 L385.0 407.0 L384.5 405.0 L384.0 402.7 L383.5 401.1 L383.0 399.4 L382.5 397.6 L382.0 395.7 L381.5 393.1 L381.0 390.7 L380.5 388.6 L380.0 386.9 L379.5 386.0 L379.0 385.6 L378.5 385.7 L378.0 386.2 L377.5 386.9 L377.0 388.0 L376.5 389.4 L376.0 391.0 L375.5 393.4 L375.0 395.9 L374.5 398.4 L374.0 400.9 L373.5 403.6 L373.0 406.1 L372.5 408.5 L372.0 410.8 L371.5 412.0 L371.0 412.9 L370.5 413.7 L370.0 414.2 L369.5 416.7 L369.0 419.0 L368.5 421.2 L368.0 423.3 L367.5 423.1 L367.0 422.9 L366.5 422.5 L366.0 422.0 L365.5 422.9 L365.0 423.7 L364.5 424.5 L364.0 425.3 L363.5 424.6 L363.0 424.0 L362.5 423.3 L362.0 422.6 L361.5 423.2 L361.0 423.8 L360.5 424.4 L360.0 425.0 L359.5 425.2 L359.0 425.3 L358.5 425.4 L358.0 425.4 L357.5 425.0 L357.0 424.6 L356.5 424.1 L356.0 423.6 L355.5 424.0 L355.0 424.3 L354.5 424.6 L354.0 424.9 L353.5 424.3 L353.0 423.8 L352.5 423.2 L352.0 422.6 L351.5 422.6 L351.0 422.7 L350.5 422.7 L350.0 422.8 L349.5 423.3 L349.0 423.8 L348.5 424.4 L348.0 424.9 L347.5 424.4 L347.0 423.9 L346.5 423.4 L346.0 422.8 L345.5 423.6 L345.0 424.4 L344.5 425.2 L344.0 426.0 L343.5 426.0 L343.0 426.0 L342.5 426.0 L342.0 426.0 L341.5 425.9 L341.0 425.8 L340.5 425.6 L340.0 425.4 L339.5 424.3 L339.0 423.2 L338.5 422.1 L338.0 420.9 L337.5 419.9 L337.0 418.8 L336.5 417.7 L336.0 416.5 L335.5 416.1 L335.0 415.7 L334.5 415.1 L334.0 414.4 L333.5 413.2 L333.0 411.9 L332.5 410.4 L332.0 408.9 L331.5 408.0 L331.0 407.0 L330.5 405.9 L330.0 404.6 L329.5 402.7 L329.0 400.7 L328.5 398.8 L328.0 397.0 L327.5 394.8 L327.0 392.8 L326.5 391.1 L326.0 389.6 L325.5 389.6 L325.0 389.9 L324.5 390.6 L324.0 391.5 L323.5 391.6 L323.0 391.9 L322.5 392.4 L322.0 393.1 L321.5 396.2 L321.0 399.5 L320.5 402.9 L320.0 406.4 L319.5 407.0 L319.0 407.6 L318.5 408.0 L318.0 408.2 L317.5 409.5 L317.0 410.6 L316.5 411.7 L316.0 412.6 L315.5 413.7 L315.0 414.8 L314.5 415.7 L314.0 416.6 L313.5 417.3 L313.0 417.9 L312.5 418.5 L312.0 419.0 L311.5 419.5 L311.0 420.0 L310.5 420.3 L310.0 420.7 L309.5 422.1 L309.0 423.5 L308.5 424.8 L308.0 426.1 L307.5 425.8 L307.0 425.4 L306.5 425.0 L306.0 424.6 L305.5 424.6 L305.0 424.5 L304.5 424.5 L304.0 424.4 L303.5 424.2 L303.0 424.0 L302.5 423.7 L302.0 423.5 L301.5 423.6 L301.0 423.8 L300.5 423.9 L300.0 424.0 L299.5 423.9 L299.0 423.7 L298.5 423.6 L298.0 423.4 L297.5 424.3 L297.0 425.2 L296.5 426.0 L296.0 426.9 L295.5 425.9 L295.0 424.9 L294.5 424.0 L294.0 423.0 L293.5 423.9 L293.0 424.9 L292.5 425.8 L292.0 426.8 L291.5 426.9 L291.0 426.9 L290.5 427.0 L290.0 427.1 L289.5 426.3 L289.0 425.5 L288.5 424.7 L288.0 423.9 L287.5 424.1 L287.0 424.3 L286.5 424.4 L286.0 424.6 L285.5 424.9 L285.0 425.1 L284.5 425.4 L284.0 425.6 L283.5 425.3 L283.0 425.0 L282.5 424.7 L282.0 424.3 L281.5 425.2 L281.0 426.0 L280.5 426.9 L280.0 427.7 L279.5 426.8 L279.0 425.8 L278.5 424.8 L278.0 423.8 L277.5 423.4 L277.0 422.9 L276.5 422.4 L276.0 422.0 L275.5 423.0 L275.0 424.0 L274.5 425.0 L274.0 426.1 L273.5 426.0 L273.0 425.9 L272.5 425.8 L272.0 425.7 L271.5 425.8 L271.0 426.0 L270.5 426.1 L270.0 426.3 L269.5 425.7 L269.0 425.1 L268.5 424.5 L268.0 423.8 L267.5 423.7 L267.0 423.5 L266.5 423.4 L266.0 423.2 L265.5 423.3 L265.0 423.4 L264.5 423.4 L264.0 423.5 L263.5 424.2 L263.0 424.9 L262.5 425.6 L262.0 426.3 L261.5 425.6 L261.0 425.0 L260.5 424.3 L260.0 423.6 L259.5 424.1 L259.0 424.7 L258.5 425.3 L258.0 425.9 L257.5 425.7 L257.0 425.4 L256.5 425.2 L256.0 425.0 L255.5 424.2 L255.0 423.3 L254.5 422.4 L254.0 421.6 L253.5 421.4 L253.0 421.3 L252.5 421.2 L252.0 421.0 L251.5 420.8 L251.0 420.6 L250.5 420.3 L250.0 420.1 L249.5 420.2 L249.0 420.3 L248.5 420.4 L248.0 420.6 L247.5 421.2 L247.0 421.8 L246.5 422.4 L246.0 423.0 L245.5 422.5 L245.0 422.0 L244.5 421.5 L244.0 421.0 L243.5 421.7 L243.0 422.3 L242.5 423.0 L242.0 423.6 L241.5 423.1 L241.0 422.5 L240.5 421.9 L240.0 421.4 L239.5 421.3 L239.0 421.3 L238.5 421.3 L238.0 421.3 L237.5 420.8 L237.0 420.3 L236.5 419.9 L236.0 419.4 L235.5 419.6 L235.0 419.9 L234.5 420.1 L234.0 420.4 L233.5 420.1 L233.0 419.8 L232.5 419.5 L232.0 419.3 L231.5 419.3 L231.0 419.3 L230.5 419.3 L230.0 419.4 L229.5 419.4 L229.0 419.4 L228.5 419.3 L228.0 419.3 L227.5 419.0 L227.0 418.6 L226.5 418.2 L226.0 417.8 L225.5 418.2 L225.0 418.5 L224.5 418.9 L224.0 419.2 L223.5 419.6 L223.0 420.0 L222.5 420.4 L222.0 420.9 L221.5 420.8 L221.0 420.8 L220.5 420.7 L220.0 420.7 L219.5 420.0 L219.0 419.4 L218.5 418.7 L218.0 418.0 L217.5 418.0 L217.0 418.0 L216.5 418.0 L216.0 418.0 L215.5 418.1 L215.0 418.3 L214.5 418.4 L214.0 418.5 L213.5 418.3 L213.0 418.1 L212.5 418.0 L212.0 417.8 L211.5 418.1 L211.0 418.4 L210.5 418.7 L210.0 419.0 L209.5 419.0 L209.0 419.1 L208.5 419.1 L208.0 419.2 L207.5 419.0 L207.0 418.7 L206.5 418.5 L206.0 418.3 L205.5 418.3 L205.0 418.2 L204.5 418.2 L204.0 418.1 L203.5 418.6 L203.0 419.1 L202.5 419.6 L202.0 420.1 L201.5 419.3 L201.0 418.6 L200.5 417.8 L200.0 417.0 L199.5 417.0 L199.0 417.0 L198.5 417.0 L198.0 416.9 L197.5 416.6 L197.0 416.3 L196.5 416.0 L196.0 415.7 L195.5 416.4 L195.0 417.2 L194.5 417.9 L194.0 418.7 L193.5 418.6 L193.0 418.5 L192.5 418.4 L192.0 418.3 L191.5 417.7 L191.0 417.0 L190.5 416.4 L190.0 415.8 L189.5 416.4 L189.0 416.9 L188.5 417.5 L188.0 418.0 L187.5 417.5 L187.0 416.9 L186.5 416.3 L186.0 415.7 L185.5 417.1 L185.0 418.4 L184.5 419.7 L184.0 421.1 L183.5 419.6 L183.0 418.2 L182.5 416.7 L182.0 415.3 L181.5 415.0 L181.0 414.7 L180.5 414.4 L180.0 414.1 L179.5 414.0 L179.0 413.8 L178.5 413.6 L178.0 413.4 L177.5 413.8 L177.0 414.1 L176.5 414.5 L176.0 414.8 L175.5 414.8 L175.0 414.8 L174.5 414.8 L174.0 414.8 L173.5 414.7 L173.0 414.6 L172.5 414.4 L172.0 414.3 L171.5 414.9 L171.0 415.6 L170.5 416.2 L170.0 416.8 L169.5 415.6 L169.0 414.4 L168.5 413.2 L168.0 412.0 L167.5 412.6 L167.0 413.3 L166.5 414.0 L166.0 414.7 L165.5 413.9 L165.0 413.1 L164.5 412.3 L164.0 411.5 L163.5 411.7 L163.0 412.0 L162.5 412.2 L162.0 412.5 L161.5 412.7 L161.0 412.9 L160.5 413.0 L160.0 413.2 L159.5 413.5 L159.0 413.9 L158.5 414.2 L158.0 414.5 L157.5 413.7 L157.0 413.0 L156.5 412.2 L156.0 411.5 L155.5 412.1 L155.0 412.8 L154.5 413.4 L154.0 414.1 L153.5 413.0 L153.0 411.9 L152.5 410.8 L152.0 409.8 L151.5 410.0 L151.0 410.2 L150.5 410.4 L150.0 410.7 L149.5 411.1 L149.0 411.5 L148.5 412.0 L148.0 412.4 L147.5 412.3 L147.0 412.2 L146.5 412.1 L146.0 412.0 L145.5 412.2 L145.0 412.5 L144.5 412.7 L144.0 412.9 L143.5 412.5 L143.0 412.2 L142.5 411.8 L142.0 411.4 L141.5 410.8 L141.0 410.3 L140.5 409.8 L140.0 409.2 L139.5 408.7 L139.0 408.2 L138.5 407.8 L138.0 407.3 L137.5 407.7 L137.0 408.0 L136.5 408.4 L136.0 408.8 L135.5 408.7 L135.0 408.6 L134.5 408.5 L134.0 408.4 L133.5 408.0 L133.0 407.6 L132.5 407.2 L132.0 406.7 L131.5 408.7 L131.0 410.7 L130.5 412.7 L130.0 414.7 L129.5 412.5 L129.0 410.4 L128.5 408.2 L128.0 406.0 L127.5 406.3 L127.0 406.5 L126.5 406.8 L126.0 407.1 L125.5 406.6 L125.0 406.0 L124.5 405.5 L124.0 405.0 L123.5 405.8 L123.0 406.6 L122.5 407.5 L122.0 408.3 L121.5 407.6 L121.0 406.8 L120.5 406.1 L120.0 405.3 L119.5 405.2 L119.0 405.2 L118.5 405.1 L118.0 404.9 L117.5 405.0 L117.0 405.1 L116.5 405.2 L116.0 405.2 L115.5 405.9 L115.0 406.5 L114.5 407.1 L114.0 407.7 L113.5 406.8 L113.0 405.8 L112.5 404.9 L112.0 404.0 L111.5 404.2 L111.0 404.5 L110.5 404.8 L110.0 405.1 L109.5 404.8 L109.0 404.5 L108.5 404.1 L108.0 403.8 L107.5 404.2 L107.0 404.6 L106.5 404.9 L106.0 405.3 L105.5 406.2 L105.0 407.0 L104.5 407.9 L104.0 408.8 L103.5 407.7 L103.0 406.6 L102.5 405.5 L102.0 404.4 L101.5 404.1 L101.0 403.7 L100.5 403.4 L100.0 403.1 L99.5 403.2 L99.0 403.3 L98.5 403.5 L98.0 403.6 L97.5 404.0 L97.0 404.4 L96.5 404.8 L96.0 405.1 L95.5 405.6 L95.0 406.2 L94.5 406.7 L94.0 407.2 L93.5 405.5 L93.0 403.8 L92.5 402.1 L92.0 400.4 L91.5 400.6 L91.0 400.9 L90.5 401.2 L90.0 401.4Z" fill="#ff0000"/>
<path d="M90.0 676.8 L90.50 676.8 L91.00 676.9 L91.50 676.9 L92.00 676.9 L92.50 677.0 L93.00 677.0 L93.50 677.0 L94.00 677.0 L94.50 677.1 L95.00 677.1 L95.50 677.1 L96.00 677.1 L96.50 677.1 L97.00 677.1 L97.50 677.1 L98.00 677.0 L98.50 677.0 L99.00 677.1 L99.50 677.1 L100.00 677.1 L100.50 677.1 L101.00 677.1 L101.50 677.2 L102.00 677.3 L102.50 677.3 L103.00 677.5 L103.50 677.6 L104.00 677.7 L104.50 677.8 L105.00 677.9 L105.50 678.0 L106.00 678.1 L106.50 678.2 L107.00 678.2 L107.50 678.2 L108.00 678.2 L108.50 678.1 L109.00 678.1 L109.50 678.1 L110.00 678.1 L110.50 678.1 L111.00 678.2 L111.50 678.2 L112.00 678.3 L112.50 678.4 L113.00 678.5 L113.50 678.7 L114.00 678.8 L114.50 678.9 L115.00 679.0 L115.50 679.0 L116.00 679.1 L116.50 679.1 L117.00 679.1 L117.50 679.1 L118.00 679.1 L118.50 679.1 L119.00 679.1 L119.50 679.1 L120.00 679.1 L120.50 679.1 L121.00 679.2 L121.50 679.2 L122.00 679.3 L122.50 679.4 L123.00 679.5 L123.50 679.6 L124.00 679.7 L124.50 679.8 L125.00 679.9 L125.50 679.9 L126.00 680.0 L126.50 680.0 L127.00 680.1 L127.50 680.1 L128.00 680.1 L128.50 680.2 L129.00 680.2 L129.50 680.2 L130.00 680.3 L130.50 680.3 L131.00 680.4 L131.50 680.5 L132.00 680.6 L132.50 680.7 L133.00 680.8 L133.50 680.9 L134.00 680.9 L134.50 681.0 L135.00 681.1 L135.50 681.1 L136.00 681.1 L136.50 681.1 L137.00 681.1 L137.50 681.1 L138.00 681.2 L138.50 681.2 L139.00 681.3 L139.50 681.3 L140.00 681.4 L140.50 681.5 L141.00 681.6 L141.50 681.7 L142.00 681.8 L142.50 681.9 L143.00 681.9 L143.50 682.0 L144.00 682.0 L144.50 682.1 L145.00 682.1 L145.50 682.2 L146.00 682.2 L146.50 682.2 L147.00 682.2 L147.50 682.3 L148.00 682.3 L148.50 682.3 L149.00 682.3 L149.50 682.3 L150.00 682.4 L150.50 682.4 L151.00 682.4 L151.50 682.4 L152.00 682.5 L152.50 682.5 L153.00 682.5 L153.50 682.6 L154.00 682.6 L154.50 682.7 L155.00 682.7 L155.50 682.7 L156.00 682.8 L156.50 682.8 L157.00 682.9 L157.50 682.9 L158.00 683.0 L158.50 683.1 L159.00 683.1 L159.50 683.2 L160.00 683.3 L160.50 683.5 L161.00 683.6 L161.50 683.7 L162.00 683.7 L162.50 683.8 L163.00 683.9 L163.50 683.9 L164.00 684.0 L164.50 684.0 L165.00 684.0 L165.50 684.0 L166.00 684.1 L166.50 684.1 L167.00 684.2 L167.50 684.2 L168.00 684.3 L168.50 684.5 L169.00 684.6 L169.50 684.7 L170.00 684.9 L170.50 685.0 L171.00 685.2 L171.50 685.3 L172.00 685.5 L172.50 685.6 L173.00 685.7 L173.50 685.7 L174.00 685.8 L174.50 685.8 L175.00 685.8 L175.50 685.8 L176.00 685.9 L176.50 685.9 L177.00 685.9 L177.50 686.0 L178.00 686.1 L178.50 686.2 L179.00 686.3 L179.50 686.4 L180.00 686.5 L180.50 686.6 L181.00 686.6 L181.50 686.6 L182.00 686.7 L182.50 686.7 L183.00 686.6 L183.50 686.6 L184.00 686.6 L184.50 686.6 L185.00 686.6 L185.50 686.7 L186.00 686.7 L186.50 686.8 L187.00 686.9 L187.50 687.0 L188.00 687.2 L188.50 687.3 L189.00 687.4 L189.50 687.5 L190.00 687.6 L190.50 687.7 L191.00 687.8 L191.50 687.8 L192.00 687.8 L192.50 687.8 L193.00 687.8 L193.50 687.8 L194.00 687.8 L194.50 687.7 L195.00 687.7 L195.50 687.7 L196.00 687.7 L196.50 687.7 L197.00 687.8 L197.50 687.8 L198.00 687.9 L198.50 687.9 L199.00 688.0 L199.50 688.0 L200.00 688.1 L200.50 688.1 L201.00 688.2 L201.50 688.2 L202.00 688.3 L202.50 688.3 L203.00 688.4 L203.50 688.4 L204.00 688.4 L204.50 688.5 L205.00 688.5 L205.50 688.6 L206.00 688.7 L206.50 688.7 L207.00 688.8 L207.50 688.9 L208.00 689.0 L208.50 689.0 L209.00 689.1 L209.50 689.2 L210.00 689.3 L210.50 689.4 L211.00 689.5 L211.50 689.5 L212.00 689.6 L212.50 689.7 L213.00 689.8 L213.50 689.8 L214.00 689.9 L214.50 690.0 L215.00 690.0 L215.50 690.1 L216.00 690.1 L216.50 690.1 L217.00 690.2 L217.50 690.2 L218.00 690.2 L218.50 690.2 L219.00 690.1 L219.50 690.1 L220.00 690.1 L220.50 690.1 L221.00 690.2 L221.50 690.2 L222.00 690.2 L222.50 690.3 L223.00 690.4 L223.50 690.5 L224.00 690.6 L224.50 690.7 L225.00 690.8 L225.50 690.9 L226.00 691.0 L226.50 691.1 L227.00 691.1 L227.50 691.2 L228.00 691.3 L228.50 691.3 L229.00 691.4 L229.50 691.4 L230.00 691.5 L230.50 691.5 L231.00 691.5 L231.50 691.5 L232.00 691.6 L232.50 691.6 L233.00 691.7 L233.50 691.7 L234.00 691.8 L234.50 691.9 L235.00 692.0 L235.50 692.1 L236.00 692.2 L236.50 692.3 L237.00 692.4 L237.50 692.5 L238.00 692.5 L238.50 692.6 L239.00 692.6 L239.50 692.7 L240.00 692.7 L240.50 692.8 L241.00 692.8 L241.50 692.8 L242.00 692.9 L242.50 692.9 L243.00 693.0 L243.50 693.0 L244.00 693.0 L244.50 693.0 L245.00 693.0 L245.50 693.0 L246.00 692.9 L246.50 692.9 L247.00 692.8 L247.50 692.7 L248.00 692.7 L248.50 692.6 L249.00 692.6 L249.50 692.6 L250.00 692.6 L250.50 692.7 L251.00 692.7 L251.50 692.8 L252.00 692.9 L252.50 693.0 L253.00 693.1 L253.50 693.2 L254.00 693.4 L254.50 693.5 L255.00 693.6 L255.50 693.7 L256.00 693.8 L256.50 693.8 L257.00 693.9 L257.50 693.9 L258.00 693.9 L258.50 693.9 L259.00 693.9 L259.50 693.9 L260.00 693.9 L260.50 693.9 L261.00 693.9 L261.50 693.9 L262.00 694.0 L262.50 694.0 L263.00 694.1 L263.50 694.2 L264.00 694.3 L264.50 694.4 L265.00 694.5 L265.50 694.6 L266.00 694.7 L266.50 694.7 L267.00 694.8 L267.50 694.9 L268.00 695.0 L268.50 695.1 L269.00 695.1 L269.50 695.2 L270.00 695.3 L270.50 695.3 L271.00 695.4 L271.50 695.4 L272.00 695.5 L272.50 695.5 L273.00 695.5 L273.50 695.6 L274.00 695.6 L274.50 695.6 L275.00 695.6 L275.50 695.6 L276.00 695.6 L276.50 695.6 L277.00 695.7 L277.50 695.7 L278.00 695.8 L278.50 695.8 L279.00 695.9 L279.50 696.0 L280.00 696.0 L280.50 696.1 L281.00 696.2 L281.50 696.2 L282.00 696.2 L282.50 696.3 L283.00 696.3 L283.50 696.3 L284.00 696.2 L284.50 696.2 L285.00 696.1 L285.50 696.1 L286.00 696.0 L286.50 696.0 L287.00 695.9 L287.50 695.9 L288.00 695.9 L288.50 695.9 L289.00 695.9 L289.50 695.9 L290.00 695.9 L290.50 696.0 L291.00 696.0 L291.50 696.1 L292.00 696.1 L292.50 696.2 L293.00 696.2 L293.50 696.2 L294.00 696.2 L294.50 696.2 L295.00 696.1 L295.50 696.1 L296.00 696.1 L296.50 696.2 L297.00 696.2 L297.50 696.2 L298.00 696.3 L298.50 696.4 L299.00 696.4 L299.50 696.5 L300.00 696.5 L300.50 696.6 L301.00 696.6 L301.50 696.6 L302.00 696.7 L302.50 696.7 L303.00 696.7 L303.50 696.6 L304.00 696.6 L304.50 696.6 L305.00 696.5 L305.50 696.4 L306.00 696.3 L306.50 696.1 L307.00 696.0 L307.50 695.8 L308.00 695.6 L308.50 695.5 L309.00 695.3 L309.50 695.2 L310.00 695.1 L310.50 694.9 L311.00 694.8 L311.50 694.7 L312.00 694.6 L312.50 694.4 L313.00 694.2 L313.50 693.9 L314.00 693.6 L314.50 693.3 L315.00 692.9 L315.50 692.5 L316.00 692.0 L316.50 691.5 L317.00 691.0 L317.50 690.4 L318.00 689.9 L318.50 689.2 L319.00 688.5 L319.50 687.7 L320.00 686.8 L320.50 685.8 L321.00 684.7 L321.50 683.4 L322.00 681.9 L322.50 680.3 L323.00 678.5 L323.50 676.5 L324.00 674.4 L324.50 672.0 L325.00 669.5 L325.50 666.7 L326.00 663.7 L326.50 660.4 L327.00 656.8 L327.50 652.9 L328.00 648.8 L328.50 644.3 L329.00 639.8 L329.50 635.2 L330.00 630.7 L330.50 626.7 L331.00 623.5 L331.50 621.2 L332.00 620.3 L332.50 620.7 L333.00 622.4 L333.50 625.2 L334.00 628.9 L334.50 633.2 L335.00 637.7 L335.50 642.3 L336.00 646.8 L336.50 651.0 L337.00 655.0 L337.50 658.6 L338.00 662.0 L338.50 665.0 L339.00 667.8 L339.50 670.3 L340.00 672.5 L340.50 674.6 L341.00 676.5 L341.50 678.1 L342.00 679.7 L342.50 681.1 L343.00 682.3 L343.50 683.5 L344.00 684.5 L344.50 685.4 L345.00 686.3 L345.50 687.0 L346.00 687.7 L346.50 688.4 L347.00 689.0 L347.50 689.5 L348.00 690.1 L348.50 690.5 L349.00 691.0 L349.50 691.4 L350.00 691.7 L350.50 692.0 L351.00 692.3 L351.50 692.5 L352.00 692.7 L352.50 692.8 L353.00 692.9 L353.50 692.9 L354.00 693.0 L354.50 693.1 L355.00 693.2 L355.50 693.3 L356.00 693.5 L356.50 693.7 L357.00 693.9 L357.50 694.1 L358.00 694.3 L358.50 694.5 L359.00 694.6 L359.50 694.7 L360.00 694.8 L360.50 694.8 L361.00 694.8 L361.50 694.8 L362.00 694.7 L362.50 694.6 L363.00 694.5 L363.50 694.4 L364.00 694.3 L364.50 694.1 L365.00 694.1 L365.50 694.0 L366.00 693.9 L366.50 693.8 L367.00 693.7 L367.50 693.7 L368.00 693.6 L368.50 693.4 L369.00 693.3 L369.50 693.1 L370.00 692.8 L370.50 692.5 L371.00 692.0 L371.50 691.5 L372.00 690.9 L372.50 690.2 L373.00 689.4 L373.50 688.4 L374.00 687.3 L374.50 686.0 L375.00 684.5 L375.50 682.7 L376.00 680.7 L376.50 678.5 L377.00 676.0 L377.50 673.3 L378.00 670.3 L378.50 667.1 L379.00 663.6 L379.50 659.9 L380.00 656.0 L380.50 652.0 L381.00 648.0 L381.50 644.0 L382.00 640.3 L382.50 636.9 L383.00 634.1 L383.50 632.2 L384.00 631.1 L384.50 631.2 L385.00 632.2 L385.50 634.2 L386.00 637.0 L386.50 640.3 L387.00 643.9 L387.50 647.8 L388.00 651.7 L388.50 655.6 L389.00 659.2 L389.50 662.7 L390.00 665.9 L390.50 668.8 L391.00 671.4 L391.50 673.6 L392.00 675.5 L392.50 677.1 L393.00 678.5 L393.50 679.5 L394.00 680.3 L394.50 680.9 L395.00 681.2 L395.50 681.4 L396.00 681.4 L396.50 681.3 L397.00 681.0 L397.50 680.5 L398.00 679.8 L398.50 678.8 L399.00 677.6 L399.50 676.2 L400.00 674.4 L400.50 672.3 L401.00 669.7 L401.50 666.8 L402.00 663.3 L402.50 659.3 L403.00 654.6 L403.50 649.2 L404.00 642.9 L404.50 635.8 L405.00 627.7 L405.50 618.5 L406.00 608.3 L406.50 597.0 L407.00 584.6 L407.50 571.2 L408.00 557.1 L408.50 542.5 L409.00 527.6 L409.50 512.9 L410.00 498.9 L410.50 486.2 L411.00 475.7 L411.50 467.9 L412.00 463.5 L412.50 462.9 L413.00 466.0 L413.50 472.7 L414.00 482.4 L414.50 494.4 L415.00 508.1 L415.50 522.7 L416.00 537.8 L416.50 552.7 L417.00 567.1 L417.50 580.8 L418.00 593.6 L418.50 605.3 L419.00 616.0 L419.50 625.5 L420.00 634.1 L420.50 641.7 L421.00 648.4 L421.50 654.3 L422.00 659.4 L422.50 663.9 L423.00 667.8 L423.50 671.3 L424.00 674.2 L424.50 676.8 L425.00 679.0 L425.50 681.0 L426.00 682.7 L426.50 684.1 L427.00 685.5 L427.50 686.6 L428.00 687.7 L428.50 688.7 L429.00 689.5 L429.50 690.3 L430.00 691.0 L430.50 691.7 L431.00 692.3 L431.50 692.8 L432.00 693.3 L432.50 693.7 L433.00 694.1 L433.50 694.5 L434.00 694.8 L434.50 695.1 L435.00 695.3 L435.50 695.6 L436.00 695.8 L436.50 696.0 L437.00 696.1 L437.50 696.2 L438.00 696.3 L438.50 696.4 L439.00 696.4 L439.50 696.5 L440.00 696.6 L440.50 696.7 L441.00 696.9 L441.50 697.1 L442.00 697.3 L442.50 697.6 L443.00 698.0 L443.50 698.3 L444.00 698.7 L444.50 699.0 L445.00 699.3 L445.50 699.6 L446.00 699.9 L446.50 700.2 L447.00 700.4 L447.50 700.6 L448.00 700.7 L448.50 700.9 L449.00 701.0 L449.50 701.1 L450.00 701.2 L450.50 701.3 L451.00 701.3 L451.50 701.4 L452.00 701.4 L452.50 701.5 L453.00 701.5 L453.50 701.6 L454.00 701.6 L454.50 701.6 L455.00 701.7 L455.50 701.7 L456.00 701.7 L456.50 701.7 L457.00 701.7 L457.50 701.7 L458.00 701.7 L458.50 701.7 L459.00 701.7 L459.50 701.7 L460.00 701.8 L460.50 701.8 L461.00 701.9 L461.50 702.0 L462.00 702.1 L462.50 702.2 L463.00 702.3 L463.50 702.4 L464.00 702.5 L464.50 702.5 L465.00 702.6 L465.50 702.6 L466.00 702.6 L466.50 702.6 L467.00 702.7 L467.50 702.7 L468.00 702.7 L468.50 702.7 L469.00 702.7 L469.50 702.8 L470.00 702.8 L470.50 702.9 L471.00 702.9 L471.50 703.0 L472.00 703.0 L472.50 703.0 L473.00 703.1 L473.50 703.1 L474.00 703.0 L474.50 703.0 L475.00 702.9 L475.50 702.9 L476.00 702.8 L476.50 702.7 L477.00 702.7 L477.50 702.7 L478.00 702.7 L478.50 702.7 L479.00 702.8 L479.50 702.8 L480.00 703.0 L480.50 703.1 L481.00 703.2 L481.50 703.4 L482.00 703.5 L482.50 703.7 L483.00 703.8 L483.50 704.0 L484.00 704.1 L484.50 704.2 L485.00 704.2 L485.50 704.3 L486.00 704.3 L486.50 704.3 L487.00 704.3 L487.50 704.2 L488.00 704.2 L488.50 704.1 L489.00 704.0 L489.50 704.0 L490.00 704.0 L490.50 704.0 L491.00 704.0 L491.50 704.0 L492.00 704.1 L492.50 704.2 L493.00 704.2 L493.50 704.3 L494.00 704.4 L494.50 704.5 L495.00 704.6 L495.50 704.6 L496.00 704.6 L496.50 704.7 L497.00 704.7 L497.50 704.7 L498.00 704.7 L498.50 704.8 L499.00 704.8 L499.50 704.9 L500.00 704.9 L500.50 705.0 L501.00 705.1 L501.50 705.1 L502.00 705.2 L502.50 705.3 L503.00 705.3 L503.50 705.4 L504.00 705.4 L504.50 705.4 L505.00 705.4 L505.50 705.4 L506.00 705.4 L506.50 705.4 L507.00 705.4 L507.50 705.4 L508.00 705.4 L508.50 705.4 L509.00 705.5 L509.50 705.5 L510.00 705.6 L510.50 705.6 L511.00 705.7 L511.50 705.7 L512.00 705.8 L512.50 705.8 L513.00 705.9 L513.50 705.9 L514.00 706.0 L514.50 706.0 L515.00 706.1 L515.50 706.2 L516.00 706.3 L516.50 706.4 L517.00 706.6 L517.50 706.7 L518.00 706.8 L518.50 706.9 L519.00 707.0 L519.50 707.1 L520.00 707.2 L520.50 707.2 L521.00 707.2 L521.50 707.1 L522.00 707.1 L522.50 707.0 L523.00 706.9 L523.50 706.8 L524.00 706.7 L524.50 706.6 L525.00 706.5 L525.50 706.4 L526.00 706.3 L526.50 706.2 L527.00 706.2 L527.50 706.2 L528.00 706.2 L528.50 706.2 L529.00 706.2 L529.50 706.3 L530.00 706.4 L530.50 706.5 L531.00 706.6 L531.50 706.7 L532.00 706.8 L532.50 706.9 L533.00 707.0 L533.50 707.0 L534.00 707.0 L534.50 707.0 L535.00 707.0 L535.50 706.9 L536.00 706.8 L536.50 706.7 L537.00 706.6 L537.50 706.5 L538.00 706.4 L538.50 706.3 L539.00 706.2 L539.50 706.2 L540.00 706.1 L540.50 706.1 L541.00 706.0 L541.50 706.0 L542.00 706.0 L542.50 706.1 L543.00 706.1 L543.50 706.1 L544.00 706.1 L544.50 706.2 L545.00 706.2 L545.50 706.2 L546.00 706.3 L546.50 706.3 L547.00 706.3 L547.50 706.4 L548.00 706.4 L548.50 706.5 L549.00 706.5 L549.50 706.6 L550.00 706.7 L550.50 706.7 L551.00 706.8 L551.50 706.9 L552.00 706.9 L552.50 706.9 L553.00 706.9 L553.50 706.9 L554.00 706.8 L554.50 706.8 L555.00 706.7 L555.50 706.6 L556.00 706.6 L556.50 706.5 L557.00 706.5 L557.50 706.5 L558.00 706.5 L558.50 706.5 L559.00 706.6 L559.50 706.7 L560.00 706.8 L560.50 706.8 L561.00 706.9 L561.50 707.0 L562.00 707.1 L562.50 707.2 L563.00 707.2 L563.50 707.2 L564.00 707.2 L564.50 707.3 L565.00 707.3 L565.50 707.3 L566.00 707.3 L566.50 707.3 L567.00 707.3 L567.50 707.3 L568.00 707.3 L568.50 707.3 L569.00 707.3 L569.50 707.2 L570.00 707.2 L570.50 707.1 L571.00 707.0 L571.50 707.0 L572.00 706.9 L572.50 706.8 L573.00 706.8 L573.50 706.7 L574.00 706.7 L574.50 706.8 L575.00 706.8 L575.50 706.9 L576.00 707.0 L576.50 707.1 L577.00 707.2 L577.50 707.3 L578.00 707.4 L578.50 707.5 L579.00 707.5 L579.50 707.6 L580.00 707.6 L580.50 707.7 L581.00 707.7 L581.50 707.7 L582.00 707.7 L582.50 707.7 L583.00 707.7 L583.50 707.6 L584.00 707.6 L584.50 707.5 L585.00 707.5 L585.50 707.4 L586.00 707.3 L586.50 707.2 L587.00 707.1 L587.50 707.0 L588.00 707.0 L588.50 706.9 L589.00 706.9 L589.50 706.9 L590.00 706.8 L590.50 706.8 L591.00 706.8 L591.50 706.8 L592.00 706.7 L592.50 706.7 L593.00 706.6 L593.50 706.6 L594.00 706.5 L594.50 706.4 L595.00 706.4 L595.50 706.3 L596.00 706.3 L596.50 706.3 L597.00 706.3 L597.50 706.4 L598.00 706.5 L598.50 706.6 L599.00 706.7 L599.50 706.9 L600.00 707.0 L600.50 707.1 L601.00 707.2 L601.50 707.3 L602.00 707.4 L602.50 707.4 L603.00 707.4 L603.50 707.4 L604.00 707.4 L604.50 707.3 L605.00 707.2 L605.50 707.0 L606.00 706.8 L606.50 706.5 L607.00 706.2 L607.50 705.8 L608.00 705.3 L608.50 704.8 L609.00 704.2 L609.50 703.6 L610.00 702.9 L610.50 702.2 L611.00 701.5 L611.50 700.7 L612.00 699.8 L612.50 699.0 L613.00 698.1 L613.50 697.1 L614.00 696.2 L614.50 695.2 L615.00 694.2 L615.50 693.2 L616.00 692.2 L616.50 691.4 L617.00 690.6 L617.50 689.9 L618.00 689.4 L618.50 689.1 L619.00 688.9 L619.50 689.0 L620.00 689.3 L620.50 689.7 L621.00 690.3 L621.50 691.0 L622.00 691.9 L622.50 692.8 L623.00 693.8 L623.50 694.8 L624.00 695.8 L624.50 696.8 L625.00 697.8 L625.50 698.7 L626.00 699.6 L626.50 700.5 L627.00 701.3 L627.50 702.1 L628.00 702.8 L628.50 703.4 L629.00 704.0 L629.50 704.5 L630.00 705.0 L630.50 705.4 L631.00 705.8 L631.50 706.1 L632.00 706.3 L632.50 706.6 L633.00 706.7 L633.50 706.9 L634.00 707.0 L634.50 707.0 L635.00 707.1 L635.50 707.1 L636.00 707.1 L636.50 707.2 L637.00 707.2 L637.50 707.3 L638.00 707.3 L638.50 707.4 L639.00 707.5 L639.50 707.6 L640.00 707.7 L640.50 707.8 L641.00 707.9 L641.50 708.0 L642.00 708.1 L642.50 708.2 L643.00 708.3 L643.50 708.4 L644.00 708.4 L644.50 708.5 L645.00 708.5 L645.50 708.5 L646.00 708.5 L646.50 708.5 L647.00 708.5 L647.50 708.5 L648.00 708.4 L648.50 708.4 L649.00 708.4 L649.50 708.3 L650.00 708.3 L650.50 708.3 L651.00 708.3 L651.50 708.2 L652.00 708.2 L652.50 708.2 L653.00 708.2 L653.50 708.2 L654.00 708.2 L654.50 708.2 L655.00 708.2 L655.50 708.2 L656.00 708.2 L656.50 708.2 L657.00 708.2 L657.50 708.2 L658.00 708.2 L658.50 708.2 L659.00 708.1 L659.50 708.1 L660.00 708.1 L660.50 708.1 L661.00 708.1 L661.50 708.1 L662.00 708.1 L662.50 708.1 L663.00 708.1 L663.50 708.0 L664.00 708.0 L664.50 707.9 L665.00 707.8 L665.50 707.7 L666.00 707.6 L666.50 707.5 L667.00 707.4 L667.50 707.4 L668.00 707.3 L668.50 707.3 L669.00 707.3 L669.50 707.4 L670.00 707.5 L670.50 707.6 L671.00 707.7 L671.50 707.8 L672.00 708.0 L672.50 708.1 L673.00 708.2 L673.50 708.2 L674.00 708.3 L674.50 708.3 L675.00 708.3 L675.50 708.3 L676.00 708.3 L676.50 708.3 L677.00 708.3 L677.50 708.3 L678.00 708.2 L678.50 708.2 L679.00 708.2 L679.50 708.2 L680.00 708.1 L680.50 708.1 L681.00 708.0 L681.50 708.0 L682.00 707.9 L682.50 707.9 L683.00 707.9 L683.50 707.9 L684.00 707.9 L684.50 707.9 L685.00 707.9 L685.50 707.9 L686.00 707.9 L686.50 707.9 L687.00 707.9 L687.50 707.8 L688.00 707.8 L688.50 707.7 L689.00 707.7 L689.50 707.6 L690.00 707.5 L690.50 707.5 L691.00 707.4 L691.50 707.4 L692.00 707.4 L692.50 707.4 L693.00 707.4 L693.50 707.5 L694.00 707.5 L694.50 707.6 L695.00 707.7 L695.50 707.7 L696.00 707.8 L696.50 707.9 L697.00 708.0 L697.50 708.1 L698.00 708.2 L698.50 708.3 L699.00 708.4 L699.50 708.5 L700.00 708.6 L700.50 708.7 L701.00 708.7 L701.50 708.8 L702.00 708.8 L702.50 708.8 L703.00 708.8 L703.50 708.8 L704.00 708.7 L704.50 708.7 L705.00 708.6 L705.50 708.5 L706.00 708.4 L706.50 708.3 L707.00 708.2 L707.50 708.1 L708.00 708.0 L708.50 708.0 L709.00 707.9 L709.50 707.9 L710.00 707.9 L710.50 707.8 L711.00 707.8 L711.50 707.8 L712.00 707.7 L712.50 707.7 L713.00 707.8 L713.50 707.8 L714.00 707.8 L714.50 707.9 L715.00 708.0 L715.50 708.1 L716.00 708.2 L716.50 708.3 L717.00 708.4 L717.50 708.5 L718.00 708.5 L718.50 708.4 L719.00 708.3 L719.50 708.2 L720.00 708.0 L720.50 707.8 L721.00 707.5 L721.50 707.2 L722.00 707.0 L722.50 706.7 L723.00 706.5 L723.50 706.3 L724.00 706.2 L724.50 706.1 L725.00 706.1 L725.50 706.1 L726.00 706.1 L726.50 706.2 L727.00 706.3 L727.50 706.4 L728.00 706.5 L728.50 706.6 L729.00 706.7 L729.50 706.8 L730.00 707.0 L730.50 707.1 L731.00 707.2 L731.50 707.3 L732.00 707.4 L732.50 707.6 L733.00 707.7 L733.50 707.9 L734.00 708.0 L734.50 708.2 L735.00 708.4 L735.50 708.5 L736.00 708.7 L736.50 708.8 L737.00 708.9 L737.50 709.0 L738.00 709.1 L738.50 709.2 L739.00 709.2 L739.50 709.2 L740.00 709.2 L740.50 709.2 L741.00 709.2 L741.50 709.2 L742.00 709.2 L742.50 709.2 L743.00 709.2 L743.50 709.2 L744.00 709.2 L744.50 709.3 L745.00 709.3 L745.50 709.3 L746.00 709.3 L746.50 709.3 L747.00 709.3 L747.50 709.2 L748.00 709.1 L748.50 709.0 L749.00 708.9 L749.50 708.8 L750.00 708.7 L750.50 708.7 L751.00 708.6 L751.50 708.5 L752.00 708.5 L752.50 708.4 L753.00 708.4 L753.50 708.3 L754.00 708.3 L754.50 708.3 L755.00 708.2 L755.50 708.2 L756.00 708.2 L756.50 708.2 L757.00 708.2 L757.50 708.2 L758.00 708.3 L758.50 708.3 L759.00 708.4 L759.50 708.4 L760.00 708.5 L760.50 708.5 L761.00 708.5 L761.50 708.5 L762.00 708.4 L762.50 708.3 L763.00 708.2 L763.50 708.0 L764.00 707.8 L764.50 707.6 L765.00 707.4 L765.50 707.2 L766.00 706.9 L766.50 706.6 L767.00 706.2 L767.50 705.8 L768.00 705.4 L768.50 704.8 L769.00 704.2 L769.50 703.4 L770.00 702.6 L770.50 701.7 L771.00 700.7 L771.50 699.6 L772.00 698.5 L772.50 697.3 L773.00 696.2 L773.50 695.1 L774.00 694.0 L774.50 693.0 L775.00 692.2 L775.50 691.5 L776.00 690.9 L776.50 690.5 L777.00 690.2 L777.50 690.2 L778.00 690.3 L778.50 690.7 L779.00 691.2 L779.50 691.9 L780.00 692.7 L780.50 693.6 L781.00 694.6 L781.50 695.7 L782.00 696.8 L782.50 697.9 L783.00 698.9 L783.50 699.9 L784.00 700.8 L784.50 701.6 L785.00 702.4 L785.50 703.1 L786.00 703.8 L786.50 704.5 L787.00 705.1 L787.50 705.7 L788.00 706.2 L788.50 706.7 L789.00 707.2 L789.50 707.6 L790.00 707.9 L790.50 708.2 L791.00 708.5 L791.50 708.7 L792.00 708.9 L792.50 709.0 L793.00 709.1 L793.50 709.1 L794.00 709.2 L794.50 709.2 L795.00 709.2 L795.50 709.2 L796.00 709.3 L796.50 709.3 L797.00 709.3 L797.50 709.3 L798.00 709.4 L798.50 709.4 L799.00 709.4 L799.50 709.5 L800.00 709.5 L800.50 709.6 L801.00 709.6 L801.50 709.6 L802.00 709.6 L802.50 709.6 L803.00 709.6 L803.50 709.5 L804.00 709.4 L804.50 709.3 L805.00 709.2 L805.50 709.0 L806.00 708.9 L806.50 708.8 L807.00 708.6 L807.50 708.5 L808.00 708.5 L808.50 708.4 L809.00 708.4 L809.50 708.5 L810.00 708.5 L810.50 708.6 L811.00 708.7 L811.50 708.8 L812.00 708.9 L812.50 709.0 L813.00 709.1 L813.50 709.1 L814.00 709.2 L814.50 709.3 L815.00 709.3 L815.50 709.4 L816.00 709.5 L816.50 709.5 L817.00 709.6 L817.50 709.7 L818.00 709.7 L818.50 709.8 L819.00 709.8 L819.50 709.8 L820.00 709.8 L820.50 709.7 L821.00 709.7 L821.50 709.7 L822.00 709.6 L822.50 709.6 L823.00 709.5 L823.50 709.5 L824.00 709.4 L824.50 709.3 L825.00 709.3 L825.50 709.2 L826.00 709.1 L826.50 709.0 L827.00 708.9 L827.50 708.9 L828.00 708.8 L828.50 708.8 L829.00 708.8 L829.50 708.8 L830.00 708.9 L830.50 708.9 L831.00 709.0 L831.50 709.0 L832.00 709.0 L832.50 709.1 L833.00 709.1 L833.50 709.0 L834.00 709.0 L834.50 709.0 L835.00 708.9 L835.50 708.9 L836.00 708.9 L836.50 709.0 L837.00 709.1 L837.50 709.2 L838.00 709.4 L838.50 709.6 L839.00 709.8 L839.50 710.0 L840.00 710.2 L840.50 710.5 L841.00 710.6 L841.50 710.8 L842.00 710.9 L842.50 711.0 L843.00 711.0 L843.50 711.0 L844.00 711.0 L844.50 711.0 L845.00 711.0 L845.50 710.9 L846.00 710.8 L846.50 710.8 L847.00 710.7 L847.50 710.6 L848.00 710.6 L848.50 710.5 L849.00 710.3 L849.50 710.2 L850.00 710.1 L850.50 709.9 L851.00 709.7 L851.50 709.6 L852.00 709.4 L852.50 709.3 L853.00 709.2 L853.50 709.1 L854.00 709.1 L854.50 709.1 L855.00 709.2 L855.50 709.2 L856.00 709.3 L856.50 709.4 L857.00 709.6 L857.50 709.7 L858.00 709.8 L858.50 709.8 L859.00 709.9 L859.50 709.9 L860.00 709.9 L860.50 709.9 L861.00 709.9 L861.50 709.9 L862.00 709.9 L862.50 709.9 L863.00 709.9 L863.50 709.9 L864.00 710.0 L864.50 710.0 L865.00 710.1 L865.50 710.1 L866.00 710.2 L866.50 710.3 L867.00 710.3 L867.50 710.3 L868.00 710.4 L868.50 710.3 L869.00 710.3 L869.50 710.2 L870.00 710.1 L870.50 710.0 L871.00 709.9 L871.50 709.8 L872.00 709.7 L872.50 709.5 L873.00 709.4 L873.50 709.3 L874.00 709.2 L874.50 709.1 L875.00 709.0 L875.50 709.0 L876.00 708.9 L876.50 708.9 L877.00 708.9 L877.50 708.9 L878.00 708.9 L878.50 708.9 L879.00 709.0 L879.50 709.0 L880.00 709.0 L880.50 709.1 L881.00 709.1 L881.50 709.1 L882.00 709.1 L882.50 709.1 L883.00 709.1 L883.50 709.1 L884.00 709.0 L884.50 709.0 L885.00 708.9 L885.50 708.8 L886.00 708.8 L886.50 708.7 L887.00 708.5 L887.50 708.4 L888.00 708.2 L888.50 708.0 L889.00 707.8 L889.50 707.5 L890.00 707.1 L890.50 706.7 L891.00 706.2 L891.50 705.7 L892.00 705.2 L892.50 704.6 L893.00 704.0 L893.50 703.3 L894.00 702.6 L894.50 701.9 L895.00 701.2 L895.50 700.5 L896.00 699.8 L896.50 699.1 L897.00 698.4 L897.50 697.8 L898.00 697.1 L898.50 696.6 L899.00 696.1 L899.50 695.7 L900.00 695.4 L900.50 695.2 L901.00 695.0 L901.50 695.0 L902.00 695.1 L902.50 695.3 L903.00 695.6 L903.50 696.0 L904.00 696.5 L904.50 697.0 L905.00 697.6 L905.50 698.2 L906.00 698.9 L906.50 699.5 L907.00 700.1 L907.50 700.8 L908.00 701.4 L908.50 702.0 L909.00 702.6 L909.50 703.3 L910.00 703.9 L910.50 704.5 L911.00 705.1 L911.50 705.7 L912.00 706.2 L912.50 706.8 L913.00 707.2 L913.50 707.6 L914.00 707.9 L914.50 708.1 L915.00 708.3 L915.50 708.4 L916.00 708.5 L916.50 708.6 L917.00 708.6 L917.50 708.6 L918.00 708.6 L918.50 708.7 L919.00 708.7 L919.50 708.8 L920.00 708.8 L920.50 708.8 L921.00 708.9 L921.50 708.9 L922.00 708.9 L922.50 709.0 L923.00 709.0 L923.50 709.0 L924.00 709.1 L924.50 709.1 L925.00 709.2 L925.50 709.2 L926.00 709.3 L926.50 709.4 L927.00 709.5 L927.50 709.6 L928.00 709.7 L928.50 709.8 L929.00 709.9 L929.50 709.9 L930.00 710.0 L930.50 710.0 L931.00 710.0 L931.50 710.0 L932.00 709.9 L932.50 709.8 L933.00 709.7 L933.50 709.6 L934.00 709.4 L934.50 709.2 L935.00 709.1 L935.50 708.9 L936.00 708.7 L936.50 708.6 L937.00 708.5 L937.50 708.4 L938.00 708.3 L938.50 708.3 L939.00 708.3 L939.50 708.4 L940.00 708.5 L940.50 708.6 L941.00 708.8 L941.50 709.0 L942.00 709.1 L942.50 709.3 L943.00 709.4 L943.50 709.4 L944.00 709.5 L944.50 709.5 L945.00 709.5 L945.50 709.4 L946.00 709.4 L946.50 709.3 L947.00 709.3 L947.50 709.3 L948.00 709.3 L948.50 709.4 L949.00 709.4 L949.50 709.5 L950.00 709.5 L950.50 709.6 L951.00 709.6 L951.50 709.7 L952.00 709.7 L952.50 709.7 L953.00 709.6 L953.50 709.6 L954.00 709.6 L954.50 709.5 L955.00 709.5 L955.50 709.5 L956.00 709.4 L956.50 709.4 L957.00 709.3 L957.50 709.3 L958.00 709.2 L958.50 709.2 L959.00 709.1 L959.50 709.0 L960.00 709.0 L960.50 708.9 L961.00 708.9 L961.50 708.8 L962.00 708.8 L962.50 708.7 L963.00 708.7 L963.50 708.7 L964.00 708.7 L964.50 708.7 L965.00 708.7 L965.50 708.7 L966.00 708.7 L966.50 708.7 L967.00 708.8 L967.50 708.8 L968.00 708.8 L968.50 708.8 L969.00 708.8 L969.50 708.8 L970.00 708.8 L970.50 708.8 L971.00 708.7 L971.50 708.7 L972.00 708.7 L972.50 708.7 L973.00 708.6 L973.50 708.6 L974.00 708.6 L974.50 708.5 L975.00 708.4 L975.50 708.4 L976.00 708.3 L976.50 708.1 L977.00 708.0 L977.50 707.8 L978.00 707.6 L978.50 707.3 L979.00 707.1 L979.50 706.8 L980.00 706.4 L980.50 706.1 L981.00 705.7 L981.50 705.3 L982.00 704.8 L982.50 704.3 L983.00 703.8 L983.50 703.2 L984.00 702.6 L984.50 702.0 L985.00 701.5 L985.50 700.9 L986.00 700.4 L986.50 699.9 L987.00 699.4 L987.50 699.0 L988.00 698.6 L988.50 698.3 L989.00 698.0 L989.50 697.8 L990.00 697.6 L990.50 697.4 L991.00 697.2 L991.50 697.1 L992.00 697.0 L992.50 697.0 L993.00 697.0 L993.50 697.1 L994.00 697.2 L994.50 697.4 L995.00 697.7 L995.50 697.9 L996.00 698.2 L996.50 698.4 L997.00 698.7 L997.50 699.0 L998.00 699.2 L998.50 699.5 L999.00 699.8 L999.50 700.1 L1000.00 700.4 L1000.50 700.6 L1001.00 700.9 L1001.50 701.1 L1002.00 701.2 L1002.50 701.4 L1003.00 701.5 L1003.50 701.5 L1004.00 701.5 L1004.50 701.5 L1005.00 701.4 L1005.50 701.4 L1006.00 701.3 L1006.50 701.2 L1007.00 701.2 L1007.50 701.1 L1008.00 701.0 L1008.50 701.0 L1009.00 700.9 L1009.50 700.9 L1010.00 700.9 L1010.50 700.9 L1011.00 701.0 L1011.50 701.1 L1012.00 701.3 L1012.50 701.4 L1013.00 701.7 L1013.50 702.0 L1014.00 702.3 L1014.50 702.7 L1015.00 703.1 L1015.50 703.6 L1016.00 704.0 L1016.50 704.5 L1017.00 705.0 L1017.50 705.4 L1018.00 705.9 L1018.50 706.3 L1019.00 706.7 L1019.50 707.1 L1020.00 707.4 L1020.50 707.7 L1021.00 708.0 L1021.50 708.2 L1022.00 708.4 L1022.50 708.6 L1023.00 708.7 L1023.50 708.8 L1024.00 709.0 L1024.50 709.1 L1025.00 709.2 L1025.50 709.4 L1026.00 709.6 L1026.50 709.8 L1027.00 710.0 L1027.50 710.2 L1028.00 710.4 L1028.50 710.6 L1029.00 710.7 L1029.50 710.8 L1030.00 710.9 L1030.50 710.9 L1031.00 710.9 L1031.50 710.9 L1032.00 710.8 L1032.50 710.7 L1033.00 710.6 L1033.50 710.5 L1034.00 710.5 L1034.50 710.4 L1035.00 710.4 L1035.50 710.4 L1036.00 710.5 L1036.50 710.6 L1037.00 710.7 L1037.50 710.8 L1038.00 710.9 L1038.50 711.0 L1039.00 711.1 L1039.50 711.2 L1040.00 711.2 L1040.50 711.3 L1041.00 711.3 L1041.50 711.3 L1042.00 711.2 L1042.50 711.2 L1043.00 711.1 L1043.50 711.0 L1044.00 710.9 L1044.50 710.8 L1045.00 710.7 L1045.50 710.7 L1046.00 710.6 L1046.50 710.5 L1047.00 710.5 L1047.50 710.5 L1048.00 710.6 L1048.50 710.6 L1049.00 710.7 L1049.50 710.8 L1050.00 710.9 L1050.50 711.0 L1051.00 711.1 L1051.50 711.1 L1052.00 711.2 L1052.50 711.3" fill="none" stroke="#000000" stroke-width="3.80" stroke-linejoin="round" stroke-linecap="round"/>
<path d="M90.0 672.8 L90.5 673.0 L91.0 673.2 L91.5 673.4 L92.0 673.6 L92.5 672.5 L93.0 671.4 L93.5 670.3 L94.0 669.1 L94.5 669.8 L95.0 670.4 L95.5 671.1 L96.0 671.7 L96.5 672.1 L97.0 672.5 L97.5 672.9 L98.0 673.3 L98.5 672.3 L99.0 671.4 L99.5 670.5 L100.0 669.5 L100.5 669.6 L101.0 669.7 L101.5 669.8 L102.0 669.9 L102.5 669.9 L103.0 669.8 L103.5 669.8 L104.0 669.7 L104.5 669.9 L105.0 670.1 L105.5 670.3 L106.0 670.5 L106.5 671.1 L107.0 671.7 L107.5 672.3 L108.0 672.9 L108.5 672.3 L109.0 671.8 L109.5 671.2 L110.0 670.7 L110.5 671.1 L111.0 671.5 L111.5 671.9 L112.0 672.3 L112.5 672.3 L113.0 672.3 L113.5 672.3 L114.0 672.3 L114.5 672.1 L115.0 671.8 L115.5 671.5 L116.0 671.2 L116.5 672.3 L117.0 673.4 L117.5 674.5 L118.0 675.6 L118.5 675.3 L119.0 675.0 L119.5 674.7 L120.0 674.4 L120.5 674.8 L121.0 675.2 L121.5 675.6 L122.0 676.1 L122.5 676.1 L123.0 676.1 L123.5 676.2 L124.0 676.2 L124.5 675.9 L125.0 675.5 L125.5 675.2 L126.0 674.9 L126.5 674.9 L127.0 675.0 L127.5 675.1 L128.0 675.2 L128.5 675.5 L129.0 675.9 L129.5 676.3 L130.0 676.7 L130.5 674.4 L131.0 672.1 L131.5 669.8 L132.0 667.5 L132.5 670.0 L133.0 672.4 L133.5 674.9 L134.0 677.3 L134.5 676.8 L135.0 676.3 L135.5 675.8 L136.0 675.3 L136.5 675.7 L137.0 676.1 L137.5 676.5 L138.0 677.0 L138.5 677.1 L139.0 677.2 L139.5 677.3 L140.0 677.4 L140.5 677.0 L141.0 676.5 L141.5 676.1 L142.0 675.6 L142.5 676.0 L143.0 676.3 L143.5 676.6 L144.0 677.0 L144.5 677.4 L145.0 677.9 L145.5 678.4 L146.0 678.8 L146.5 678.2 L147.0 677.6 L147.5 676.9 L148.0 676.3 L148.5 675.3 L149.0 674.4 L149.5 673.4 L150.0 672.4 L150.5 674.0 L151.0 675.5 L151.5 677.0 L152.0 678.6 L152.5 678.1 L153.0 677.7 L153.5 677.3 L154.0 676.9 L154.5 676.7 L155.0 676.6 L155.5 676.5 L156.0 676.3 L156.5 677.1 L157.0 677.8 L157.5 678.6 L158.0 679.3 L158.5 678.3 L159.0 677.2 L159.5 676.1 L160.0 675.1 L160.5 676.4 L161.0 677.7 L161.5 679.0 L162.0 680.3 L162.5 679.9 L163.0 679.5 L163.5 679.1 L164.0 678.7 L164.5 679.1 L165.0 679.4 L165.5 679.8 L166.0 680.2 L166.5 680.3 L167.0 680.4 L167.5 680.5 L168.0 680.7 L168.5 680.7 L169.0 680.8 L169.5 680.9 L170.0 681.0 L170.5 681.0 L171.0 681.0 L171.5 681.0 L172.0 681.0 L172.5 679.8 L173.0 678.6 L173.5 677.3 L174.0 676.1 L174.5 677.1 L175.0 678.0 L175.5 679.0 L176.0 680.0 L176.5 680.4 L177.0 680.8 L177.5 681.2 L178.0 681.7 L178.5 681.6 L179.0 681.6 L179.5 681.5 L180.0 681.4 L180.5 680.9 L181.0 680.4 L181.5 679.9 L182.0 679.4 L182.5 680.2 L183.0 681.0 L183.5 681.8 L184.0 682.6 L184.5 681.8 L185.0 681.0 L185.5 680.2 L186.0 679.5 L186.5 680.4 L187.0 681.4 L187.5 682.4 L188.0 683.3 L188.5 683.6 L189.0 683.8 L189.5 684.0 L190.0 684.3 L190.5 683.2 L191.0 682.1 L191.5 681.0 L192.0 680.0 L192.5 680.1 L193.0 680.3 L193.5 680.5 L194.0 680.7 L194.5 681.2 L195.0 681.7 L195.5 682.2 L196.0 682.8 L196.5 682.9 L197.0 683.0 L197.5 683.2 L198.0 683.3 L198.5 683.6 L199.0 683.9 L199.5 684.2 L200.0 684.5 L200.5 684.3 L201.0 684.2 L201.5 684.0 L202.0 683.8 L202.5 683.2 L203.0 682.6 L203.5 682.0 L204.0 681.3 L204.5 681.6 L205.0 681.9 L205.5 682.2 L206.0 682.4 L206.5 683.0 L207.0 683.6 L207.5 684.2 L208.0 684.8 L208.5 684.8 L209.0 684.9 L209.5 684.9 L210.0 685.0 L210.5 684.8 L211.0 684.7 L211.5 684.6 L212.0 684.5 L212.5 684.9 L213.0 685.3 L213.5 685.7 L214.0 686.2 L214.5 686.3 L215.0 686.4 L215.5 686.5 L216.0 686.6 L216.5 685.4 L217.0 684.2 L217.5 683.0 L218.0 681.8 L218.5 682.5 L219.0 683.1 L219.5 683.8 L220.0 684.5 L220.5 684.7 L221.0 684.9 L221.5 685.1 L222.0 685.3 L222.5 685.0 L223.0 684.6 L223.5 684.3 L224.0 684.0 L224.5 684.8 L225.0 685.5 L225.5 686.3 L226.0 687.0 L226.5 686.6 L227.0 686.1 L227.5 685.7 L228.0 685.3 L228.5 685.9 L229.0 686.6 L229.5 687.2 L230.0 687.9 L230.5 687.7 L231.0 687.4 L231.5 687.2 L232.0 687.0 L232.5 686.9 L233.0 686.8 L233.5 686.7 L234.0 686.6 L234.5 686.8 L235.0 687.1 L235.5 687.3 L236.0 687.6 L236.5 687.8 L237.0 688.1 L237.5 688.4 L238.0 688.7 L238.5 688.4 L239.0 688.1 L239.5 687.8 L240.0 687.5 L240.5 687.4 L241.0 687.3 L241.5 687.1 L242.0 687.0 L242.5 687.6 L243.0 688.2 L243.5 688.8 L244.0 689.4 L244.5 688.9 L245.0 688.3 L245.5 687.7 L246.0 687.1 L246.5 687.4 L247.0 687.8 L247.5 688.1 L248.0 688.5 L248.5 687.8 L249.0 687.1 L249.5 686.4 L250.0 685.8 L250.5 685.9 L251.0 686.0 L251.5 686.2 L252.0 686.3 L252.5 686.1 L253.0 685.8 L253.5 685.6 L254.0 685.3 L254.5 685.2 L255.0 685.2 L255.5 685.1 L256.0 684.9 L256.5 685.2 L257.0 685.5 L257.5 685.8 L258.0 686.0 L258.5 687.1 L259.0 688.2 L259.5 689.2 L260.0 690.3 L260.5 689.0 L261.0 687.7 L261.5 686.5 L262.0 685.3 L262.5 685.9 L263.0 686.5 L263.5 687.1 L264.0 687.7 L264.5 687.6 L265.0 687.5 L265.5 687.4 L266.0 687.4 L266.5 688.1 L267.0 688.8 L267.5 689.5 L268.0 690.2 L268.5 690.1 L269.0 689.9 L269.5 689.8 L270.0 689.6 L270.5 688.0 L271.0 686.4 L271.5 684.8 L272.0 683.2 L272.5 685.4 L273.0 687.7 L273.5 689.9 L274.0 692.1 L274.5 691.8 L275.0 691.5 L275.5 691.2 L276.0 690.9 L276.5 691.1 L277.0 691.2 L277.5 691.4 L278.0 691.6 L278.5 691.8 L279.0 692.0 L279.5 692.3 L280.0 692.5 L280.5 692.3 L281.0 692.0 L281.5 691.8 L282.0 691.5 L282.5 690.8 L283.0 690.1 L283.5 689.4 L284.0 688.7 L284.5 689.0 L285.0 689.4 L285.5 689.7 L286.0 690.1 L286.5 689.7 L287.0 689.3 L287.5 688.9 L288.0 688.5 L288.5 689.5 L289.0 690.4 L289.5 691.3 L290.0 692.3 L290.5 692.2 L291.0 692.1 L291.5 691.9 L292.0 691.8 L292.5 691.0 L293.0 690.2 L293.5 689.4 L294.0 688.5 L294.5 689.0 L295.0 689.5 L295.5 690.0 L296.0 690.5 L296.5 690.6 L297.0 690.8 L297.5 690.9 L298.0 691.0 L298.5 691.1 L299.0 691.1 L299.5 691.1 L300.0 691.1 L300.5 690.8 L301.0 690.4 L301.5 690.1 L302.0 689.7 L302.5 690.2 L303.0 690.8 L303.5 691.3 L304.0 691.8 L304.5 691.7 L305.0 691.7 L305.5 691.6 L306.0 691.5 L306.5 691.1 L307.0 690.6 L307.5 690.2 L308.0 689.8 L308.5 689.9 L309.0 690.0 L309.5 690.1 L310.0 690.2 L310.5 689.1 L311.0 687.9 L311.5 686.7 L312.0 685.6 L312.5 685.6 L313.0 685.7 L313.5 685.7 L314.0 685.7 L314.5 685.4 L315.0 685.1 L315.5 684.7 L316.0 684.3 L316.5 684.4 L317.0 684.4 L317.5 684.4 L318.0 684.3 L318.5 683.6 L319.0 682.7 L319.5 681.9 L320.0 680.9 L320.5 679.8 L321.0 678.5 L321.5 677.2 L322.0 675.7 L322.5 674.1 L323.0 672.3 L323.5 670.4 L324.0 668.3 L324.5 665.4 L325.0 662.4 L325.5 659.2 L326.0 655.9 L326.5 653.2 L327.0 650.4 L327.5 647.4 L328.0 644.3 L328.5 641.0 L329.0 637.9 L329.5 634.9 L330.0 632.2 L330.5 629.8 L331.0 627.9 L331.5 626.7 L332.0 626.2 L332.5 626.1 L333.0 626.7 L333.5 627.9 L334.0 629.7 L334.5 632.3 L335.0 635.3 L335.5 638.5 L336.0 641.8 L336.5 645.1 L337.0 648.3 L337.5 651.3 L338.0 654.2 L338.5 656.8 L339.0 659.2 L339.5 661.4 L340.0 663.3 L340.5 666.0 L341.0 668.6 L341.5 671.0 L342.0 673.3 L342.5 674.1 L343.0 674.9 L343.5 675.5 L344.0 676.0 L344.5 677.7 L345.0 679.3 L345.5 680.8 L346.0 682.3 L346.5 683.1 L347.0 683.9 L347.5 684.6 L348.0 685.3 L348.5 685.7 L349.0 686.1 L349.5 686.5 L350.0 686.9 L350.5 686.9 L351.0 686.9 L351.5 686.9 L352.0 686.8 L352.5 686.8 L353.0 686.8 L353.5 686.8 L354.0 686.7 L354.5 686.9 L355.0 687.1 L355.5 687.2 L356.0 687.4 L356.5 687.5 L357.0 687.5 L357.5 687.5 L358.0 687.6 L358.5 687.7 L359.0 687.7 L359.5 687.7 L360.0 687.7 L360.5 688.1 L361.0 688.4 L361.5 688.7 L362.0 689.0 L362.5 689.2 L363.0 689.4 L363.5 689.6 L364.0 689.8 L364.5 689.6 L365.0 689.3 L365.5 689.1 L366.0 688.8 L366.5 688.5 L367.0 688.2 L367.5 687.8 L368.0 687.4 L368.5 687.6 L369.0 687.8 L369.5 687.9 L370.0 687.9 L370.5 687.2 L371.0 686.4 L371.5 685.5 L372.0 684.5 L372.5 683.9 L373.0 683.2 L373.5 682.3 L374.0 681.3 L374.5 678.9 L375.0 676.3 L375.5 673.6 L376.0 670.7 L376.5 669.3 L377.0 667.7 L377.5 665.9 L378.0 663.8 L378.5 661.0 L379.0 658.1 L379.5 655.1 L380.0 652.0 L380.5 648.5 L381.0 645.2 L381.5 642.0 L382.0 639.2 L382.5 637.4 L383.0 636.1 L383.5 635.3 L384.0 635.0 L384.5 635.0 L385.0 635.5 L385.5 636.7 L386.0 638.3 L386.5 640.3 L387.0 642.7 L387.5 645.3 L388.0 648.1 L388.5 651.2 L389.0 654.3 L389.5 657.3 L390.0 660.2 L390.5 662.5 L391.0 664.6 L391.5 666.4 L392.0 668.0 L392.5 669.4 L393.0 670.5 L393.5 671.4 L394.0 672.1 L394.5 672.9 L395.0 673.5 L395.5 673.9 L396.0 674.1 L396.5 674.2 L397.0 674.0 L397.5 673.6 L398.0 672.9 L398.5 671.5 L399.0 669.9 L399.5 667.9 L400.0 665.6 L400.5 663.8 L401.0 661.4 L401.5 658.6 L402.0 655.3 L402.5 650.6 L403.0 645.3 L403.5 639.3 L404.0 632.6 L404.5 625.3 L405.0 617.2 L405.5 608.3 L406.0 598.5 L406.5 588.2 L407.0 577.1 L407.5 565.6 L408.0 553.8 L408.5 541.7 L409.0 530.0 L409.5 518.9 L410.0 508.8 L410.5 500.1 L411.0 493.1 L411.5 488.0 L412.0 485.2 L412.5 485.0 L413.0 487.1 L413.5 491.6 L414.0 498.1 L414.5 506.2 L415.0 515.8 L415.5 526.6 L416.0 538.2 L416.5 550.1 L417.0 562.2 L417.5 574.1 L418.0 585.5 L418.5 596.3 L419.0 606.3 L419.5 615.5 L420.0 623.9 L420.5 631.7 L421.0 638.6 L421.5 644.9 L422.0 650.4 L422.5 654.9 L423.0 658.7 L423.5 662.0 L424.0 664.8 L424.5 667.5 L425.0 669.8 L425.5 671.8 L426.0 673.5 L426.5 675.9 L427.0 678.1 L427.5 680.2 L428.0 682.2 L428.5 683.3 L429.0 684.2 L429.5 685.1 L430.0 685.8 L430.5 686.5 L431.0 687.1 L431.5 687.6 L432.0 688.1 L432.5 688.0 L433.0 687.9 L433.5 687.7 L434.0 687.5 L434.5 688.0 L435.0 688.6 L435.5 689.1 L436.0 689.6 L436.5 689.6 L437.0 689.6 L437.5 689.5 L438.0 689.4 L438.5 689.8 L439.0 690.1 L439.5 690.5 L440.0 690.8 L440.5 691.4 L441.0 692.0 L441.5 692.6 L442.0 693.2 L442.5 693.4 L443.0 693.7 L443.5 693.9 L444.0 694.1 L444.5 694.1 L445.0 694.2 L445.5 694.2 L446.0 694.1 L446.5 693.7 L447.0 693.2 L447.5 692.7 L448.0 692.2 L448.5 693.4 L449.0 694.5 L449.5 695.6 L450.0 696.7 L450.5 696.4 L451.0 696.0 L451.5 695.6 L452.0 695.1 L452.5 694.3 L453.0 693.5 L453.5 692.6 L454.0 691.8 L454.5 692.4 L455.0 693.1 L455.5 693.7 L456.0 694.3 L456.5 694.6 L457.0 694.8 L457.5 695.1 L458.0 695.3 L458.5 695.7 L459.0 696.1 L459.5 696.5 L460.0 696.9 L460.5 696.1 L461.0 695.3 L461.5 694.5 L462.0 693.7 L462.5 694.0 L463.0 694.3 L463.5 694.5 L464.0 694.8 L464.5 695.2 L465.0 695.5 L465.5 695.9 L466.0 696.2 L466.5 696.5 L467.0 696.8 L467.5 697.1 L468.0 697.3 L468.5 697.3 L469.0 697.2 L469.5 697.1 L470.0 697.1 L470.5 697.6 L471.0 698.1 L471.5 698.6 L472.0 699.1 L472.5 699.1 L473.0 699.1 L473.5 699.0 L474.0 699.0 L474.5 698.0 L475.0 697.0 L475.5 695.9 L476.0 694.9 L476.5 695.4 L477.0 696.0 L477.5 696.5 L478.0 697.1 L478.5 697.0 L479.0 696.9 L479.5 696.8 L480.0 696.8 L480.5 697.4 L481.0 697.9 L481.5 698.5 L482.0 699.1 L482.5 699.4 L483.0 699.6 L483.5 699.9 L484.0 700.2 L484.5 699.9 L485.0 699.7 L485.5 699.4 L486.0 699.1 L486.5 698.7 L487.0 698.2 L487.5 697.7 L488.0 697.2 L488.5 697.6 L489.0 697.9 L489.5 698.3 L490.0 698.7 L490.5 699.0 L491.0 699.3 L491.5 699.6 L492.0 699.9 L492.5 699.7 L493.0 699.6 L493.5 699.4 L494.0 699.2 L494.5 698.8 L495.0 698.3 L495.5 697.8 L496.0 697.3 L496.5 697.6 L497.0 697.8 L497.5 698.0 L498.0 698.3 L498.5 699.0 L499.0 699.7 L499.5 700.4 L500.0 701.1 L500.5 700.7 L501.0 700.2 L501.5 699.8 L502.0 699.4 L502.5 699.8 L503.0 700.3 L503.5 700.7 L504.0 701.2 L504.5 701.2 L505.0 701.1 L505.5 701.1 L506.0 701.1 L506.5 700.9 L507.0 700.7 L507.5 700.6 L508.0 700.4 L508.5 700.1 L509.0 699.8 L509.5 699.5 L510.0 699.2 L510.5 700.0 L511.0 700.7 L511.5 701.5 L512.0 702.2 L512.5 701.9 L513.0 701.6 L513.5 701.3 L514.0 701.0 L514.5 701.2 L515.0 701.3 L515.5 701.5 L516.0 701.6 L516.5 701.7 L517.0 701.8 L517.5 701.9 L518.0 702.0 L518.5 702.3 L519.0 702.6 L519.5 702.9 L520.0 703.2 L520.5 703.3 L521.0 703.3 L521.5 703.3 L522.0 703.3 L522.5 702.3 L523.0 701.4 L523.5 700.5 L524.0 699.5 L524.5 700.3 L525.0 701.1 L525.5 701.9 L526.0 702.7 L526.5 702.5 L527.0 702.4 L527.5 702.2 L528.0 702.1 L528.5 701.8 L529.0 701.4 L529.5 701.1 L530.0 700.8 L530.5 701.0 L531.0 701.3 L531.5 701.5 L532.0 701.7 L532.5 702.0 L533.0 702.4 L533.5 702.7 L534.0 703.1 L534.5 702.5 L535.0 702.0 L535.5 701.5 L536.0 700.9 L536.5 701.0 L537.0 701.2 L537.5 701.3 L538.0 701.4 L538.5 701.3 L539.0 701.1 L539.5 701.0 L540.0 700.9 L540.5 701.0 L541.0 701.0 L541.5 701.1 L542.0 701.3 L542.5 701.1 L543.0 700.9 L543.5 700.8 L544.0 700.6 L544.5 700.5 L545.0 700.4 L545.5 700.3 L546.0 700.2 L546.5 700.3 L547.0 700.5 L547.5 700.7 L548.0 700.8 L548.5 701.2 L549.0 701.6 L549.5 702.0 L550.0 702.4 L550.5 702.6 L551.0 702.8 L551.5 703.0 L552.0 703.2 L552.5 702.2 L553.0 701.2 L553.5 700.1 L554.0 699.1 L554.5 699.7 L555.0 700.3 L555.5 700.9 L556.0 701.5 L556.5 701.7 L557.0 701.9 L557.5 702.0 L558.0 702.2 L558.5 702.3 L559.0 702.4 L559.5 702.5 L560.0 702.6 L560.5 702.4 L561.0 702.2 L561.5 702.0 L562.0 701.8 L562.5 702.2 L563.0 702.7 L563.5 703.1 L564.0 703.6 L564.5 703.6 L565.0 703.5 L565.5 703.5 L566.0 703.5 L566.5 703.5 L567.0 703.6 L567.5 703.6 L568.0 703.6 L568.5 703.5 L569.0 703.4 L569.5 703.3 L570.0 703.2 L570.5 702.8 L571.0 702.4 L571.5 702.1 L572.0 701.7 L572.5 701.2 L573.0 700.7 L573.5 700.2 L574.0 699.7 L574.5 700.5 L575.0 701.3 L575.5 702.1 L576.0 703.0 L576.5 702.8 L577.0 702.6 L577.5 702.3 L578.0 702.1 L578.5 702.3 L579.0 702.5 L579.5 702.6 L580.0 702.8 L580.5 702.0 L581.0 701.3 L581.5 700.6 L582.0 699.8 L582.5 700.3 L583.0 700.8 L583.5 701.3 L584.0 701.8 L584.5 702.2 L585.0 702.7 L585.5 703.2 L586.0 703.6 L586.5 702.9 L587.0 702.2 L587.5 701.5 L588.0 700.8 L588.5 700.8 L589.0 700.8 L589.5 700.8 L590.0 700.9 L590.5 701.3 L591.0 701.7 L591.5 702.2 L592.0 702.6 L592.5 702.2 L593.0 701.8 L593.5 701.4 L594.0 701.0 L594.5 701.4 L595.0 701.7 L595.5 702.1 L596.0 702.5 L596.5 702.6 L597.0 702.7 L597.5 702.9 L598.0 703.0 L598.5 703.0 L599.0 703.0 L599.5 703.0 L600.0 703.1 L600.5 702.7 L601.0 702.4 L601.5 702.0 L602.0 701.6 L602.5 701.2 L603.0 700.8 L603.5 700.4 L604.0 699.9 L604.5 700.6 L605.0 701.3 L605.5 701.9 L606.0 702.5 L606.5 702.1 L607.0 701.6 L607.5 701.0 L608.0 700.4 L608.5 699.6 L609.0 698.7 L609.5 697.8 L610.0 696.8 L610.5 696.4 L611.0 695.8 L611.5 695.3 L612.0 694.7 L612.5 693.5 L613.0 692.3 L613.5 691.1 L614.0 689.9 L614.5 689.2 L615.0 688.6 L615.5 688.0 L616.0 687.5 L616.5 686.4 L617.0 685.5 L617.5 684.6 L618.0 683.9 L618.5 684.2 L619.0 684.6 L619.5 685.2 L620.0 685.8 L620.5 686.2 L621.0 686.6 L621.5 687.2 L622.0 687.8 L622.5 688.4 L623.0 689.1 L623.5 689.8 L624.0 690.6 L624.5 691.3 L625.0 692.0 L625.5 692.7 L626.0 693.4 L626.5 694.1 L627.0 694.9 L627.5 695.6 L628.0 696.2 L628.5 696.7 L629.0 697.2 L629.5 697.6 L630.0 697.9 L630.5 699.0 L631.0 700.1 L631.5 701.1 L632.0 702.1 L632.5 701.6 L633.0 701.1 L633.5 700.5 L634.0 699.9 L634.5 700.7 L635.0 701.4 L635.5 702.2 L636.0 702.9 L636.5 702.5 L637.0 702.0 L637.5 701.6 L638.0 701.2 L638.5 701.6 L639.0 702.0 L639.5 702.4 L640.0 702.8 L640.5 702.7 L641.0 702.6 L641.5 702.5 L642.0 702.3 L642.5 702.8 L643.0 703.3 L643.5 703.7 L644.0 704.1 L644.5 703.5 L645.0 702.8 L645.5 702.1 L646.0 701.4 L646.5 702.0 L647.0 702.6 L647.5 703.2 L648.0 703.8 L648.5 704.1 L649.0 704.3 L649.5 704.5 L650.0 704.7 L650.5 704.7 L651.0 704.6 L651.5 704.5 L652.0 704.4 L652.5 703.3 L653.0 702.1 L653.5 700.9 L654.0 699.8 L654.5 700.8 L655.0 701.9 L655.5 703.0 L656.0 704.0 L656.5 702.9 L657.0 701.8 L657.5 700.8 L658.0 699.7 L658.5 700.6 L659.0 701.4 L659.5 702.3 L660.0 703.2 L660.5 703.2 L661.0 703.1 L661.5 703.1 L662.0 703.1 L662.5 702.6 L663.0 702.1 L663.5 701.7 L664.0 701.2 L664.5 701.1 L665.0 701.0 L665.5 700.9 L666.0 700.9 L666.5 701.5 L667.0 702.1 L667.5 702.7 L668.0 703.4 L668.5 702.8 L669.0 702.3 L669.5 701.8 L670.0 701.3 L670.5 701.3 L671.0 701.4 L671.5 701.5 L672.0 701.6 L672.5 702.2 L673.0 702.7 L673.5 703.2 L674.0 703.7 L674.5 703.6 L675.0 703.4 L675.5 703.3 L676.0 703.1 L676.5 703.3 L677.0 703.5 L677.5 703.7 L678.0 703.9 L678.5 704.0 L679.0 704.1 L679.5 704.2 L680.0 704.3 L680.5 704.3 L681.0 704.2 L681.5 704.1 L682.0 704.1 L682.5 703.9 L683.0 703.7 L683.5 703.5 L684.0 703.3 L684.5 703.3 L685.0 703.2 L685.5 703.2 L686.0 703.1 L686.5 703.0 L687.0 702.8 L687.5 702.7 L688.0 702.5 L688.5 701.8 L689.0 701.0 L689.5 700.2 L690.0 699.4 L690.5 700.2 L691.0 701.0 L691.5 701.8 L692.0 702.6 L692.5 701.9 L693.0 701.2 L693.5 700.6 L694.0 699.9 L694.5 700.5 L695.0 701.2 L695.5 701.8 L696.0 702.4 L696.5 702.9 L697.0 703.4 L697.5 703.9 L698.0 704.3 L698.5 704.5 L699.0 704.7 L699.5 704.9 L700.0 705.1 L700.5 704.4 L701.0 703.6 L701.5 702.9 L702.0 702.1 L702.5 702.8 L703.0 703.6 L703.5 704.3 L704.0 705.1 L704.5 704.9 L705.0 704.8 L705.5 704.6 L706.0 704.4 L706.5 704.5 L707.0 704.6 L707.5 704.6 L708.0 704.7 L708.5 704.6 L709.0 704.5 L709.5 704.5 L710.0 704.4 L710.5 704.0 L711.0 703.6 L711.5 703.3 L712.0 702.9 L712.5 702.7 L713.0 702.5 L713.5 702.3 L714.0 702.1 L714.5 702.5 L715.0 702.9 L715.5 703.2 L716.0 703.6 L716.5 703.5 L717.0 703.3 L717.5 703.1 L718.0 702.8 L718.5 702.9 L719.0 702.9 L719.5 702.8 L720.0 702.8 L720.5 702.7 L721.0 702.6 L721.5 702.4 L722.0 702.3 L722.5 702.4 L723.0 702.4 L723.5 702.5 L724.0 702.7 L724.5 702.4 L725.0 702.2 L725.5 702.0 L726.0 701.9 L726.5 701.9 L727.0 702.0 L727.5 702.1 L728.0 702.3 L728.5 702.2 L729.0 702.0 L729.5 701.9 L730.0 701.8 L730.5 702.0 L731.0 702.1 L731.5 702.3 L732.0 702.4 L732.5 702.6 L733.0 702.8 L733.5 703.0 L734.0 703.2 L734.5 703.3 L735.0 703.5 L735.5 703.6 L736.0 703.6 L736.5 704.1 L737.0 704.6 L737.5 705.1 L738.0 705.5 L738.5 705.4 L739.0 705.3 L739.5 705.2 L740.0 705.1 L740.5 704.9 L741.0 704.7 L741.5 704.6 L742.0 704.4 L742.5 704.3 L743.0 704.3 L743.5 704.3 L744.0 704.2 L744.5 704.4 L745.0 704.6 L745.5 704.8 L746.0 705.0 L746.5 704.9 L747.0 704.9 L747.5 704.8 L748.0 704.8 L748.5 704.9 L749.0 705.0 L749.5 705.1 L750.0 705.2 L750.5 704.7 L751.0 704.3 L751.5 703.8 L752.0 703.3 L752.5 703.7 L753.0 704.1 L753.5 704.5 L754.0 704.9 L754.5 704.7 L755.0 704.5 L755.5 704.4 L756.0 704.2 L756.5 704.3 L757.0 704.4 L757.5 704.6 L758.0 704.7 L758.5 704.5 L759.0 704.3 L759.5 704.1 L760.0 703.9 L760.5 704.1 L761.0 704.3 L761.5 704.5 L762.0 704.6 L762.5 704.4 L763.0 704.1 L763.5 703.7 L764.0 703.4 L764.5 703.2 L765.0 702.9 L765.5 702.7 L766.0 702.3 L766.5 702.0 L767.0 701.6 L767.5 701.2 L768.0 700.7 L768.5 699.8 L769.0 698.8 L769.5 697.8 L770.0 696.7 L770.5 695.4 L771.0 694.1 L771.5 692.8 L772.0 691.5 L772.5 690.7 L773.0 689.8 L773.5 689.0 L774.0 688.3 L774.5 687.8 L775.0 687.4 L775.5 687.1 L776.0 686.9 L776.5 686.7 L777.0 686.6 L777.5 686.6 L778.0 686.8 L778.5 687.1 L779.0 687.5 L779.5 688.0 L780.0 688.7 L780.5 689.4 L781.0 690.3 L781.5 691.1 L782.0 692.1 L782.5 692.7 L783.0 693.3 L783.5 693.9 L784.0 694.5 L784.5 694.8 L785.0 695.1 L785.5 695.3 L786.0 695.4 L786.5 697.0 L787.0 698.6 L787.5 700.2 L788.0 701.7 L788.5 701.6 L789.0 701.4 L789.5 701.2 L790.0 701.0 L790.5 702.1 L791.0 703.1 L791.5 704.1 L792.0 705.1 L792.5 704.8 L793.0 704.4 L793.5 704.0 L794.0 703.6 L794.5 703.9 L795.0 704.1 L795.5 704.3 L796.0 704.5 L796.5 704.0 L797.0 703.5 L797.5 703.1 L798.0 702.6 L798.5 703.0 L799.0 703.4 L799.5 703.8 L800.0 704.2 L800.5 704.1 L801.0 704.1 L801.5 704.0 L802.0 703.9 L802.5 704.2 L803.0 704.6 L803.5 704.9 L804.0 705.2 L804.5 704.9 L805.0 704.5 L805.5 704.1 L806.0 703.7 L806.5 703.8 L807.0 703.9 L807.5 704.0 L808.0 704.2 L808.5 704.0 L809.0 703.8 L809.5 703.7 L810.0 703.6 L810.5 703.5 L811.0 703.3 L811.5 703.2 L812.0 703.1 L812.5 703.5 L813.0 704.0 L813.5 704.5 L814.0 704.9 L814.5 705.1 L815.0 705.3 L815.5 705.5 L816.0 705.7 L816.5 705.4 L817.0 705.1 L817.5 704.8 L818.0 704.4 L818.5 704.5 L819.0 704.6 L819.5 704.7 L820.0 704.7 L820.5 704.8 L821.0 705.0 L821.5 705.1 L822.0 705.2 L822.5 704.9 L823.0 704.6 L823.5 704.4 L824.0 704.1 L824.5 704.2 L825.0 704.4 L825.5 704.6 L826.0 704.7 L826.5 704.9 L827.0 705.1 L827.5 705.2 L828.0 705.4 L828.5 705.0 L829.0 704.6 L829.5 704.2 L830.0 703.7 L830.5 703.9 L831.0 704.0 L831.5 704.2 L832.0 704.3 L832.5 704.4 L833.0 704.5 L833.5 704.6 L834.0 704.6 L834.5 704.7 L835.0 704.8 L835.5 705.0 L836.0 705.1 L836.5 705.1 L837.0 705.0 L837.5 705.0 L838.0 705.1 L838.5 705.1 L839.0 705.2 L839.5 705.2 L840.0 705.3 L840.5 705.8 L841.0 706.3 L841.5 706.8 L842.0 707.2 L842.5 706.7 L843.0 706.2 L843.5 705.7 L844.0 705.2 L844.5 705.2 L845.0 705.2 L845.5 705.1 L846.0 705.1 L846.5 705.5 L847.0 705.8 L847.5 706.2 L848.0 706.5 L848.5 706.6 L849.0 706.6 L849.5 706.6 L850.0 706.6 L850.5 706.5 L851.0 706.4 L851.5 706.2 L852.0 706.1 L852.5 705.9 L853.0 705.6 L853.5 705.4 L854.0 705.2 L854.5 705.3 L855.0 705.4 L855.5 705.5 L856.0 705.6 L856.5 705.5 L857.0 705.4 L857.5 705.3 L858.0 705.2 L858.5 705.5 L859.0 705.8 L859.5 706.1 L860.0 706.4 L860.5 706.5 L861.0 706.5 L861.5 706.5 L862.0 706.5 L862.5 706.4 L863.0 706.3 L863.5 706.1 L864.0 706.0 L864.5 706.2 L865.0 706.3 L865.5 706.5 L866.0 706.7 L866.5 706.6 L867.0 706.6 L867.5 706.5 L868.0 706.4 L868.5 706.3 L869.0 706.1 L869.5 706.0 L870.0 705.8 L870.5 705.9 L871.0 705.9 L871.5 705.9 L872.0 705.9 L872.5 705.8 L873.0 705.8 L873.5 705.7 L874.0 705.6 L874.5 705.0 L875.0 704.3 L875.5 703.6 L876.0 703.0 L876.5 703.4 L877.0 703.8 L877.5 704.2 L878.0 704.6 L878.5 704.7 L879.0 704.8 L879.5 704.9 L880.0 705.0 L880.5 704.7 L881.0 704.4 L881.5 704.1 L882.0 703.8 L882.5 703.7 L883.0 703.7 L883.5 703.6 L884.0 703.5 L884.5 703.8 L885.0 704.1 L885.5 704.4 L886.0 704.7 L886.5 704.6 L887.0 704.5 L887.5 704.4 L888.0 704.2 L888.5 703.6 L889.0 702.9 L889.5 702.2 L890.0 701.4 L890.5 701.1 L891.0 700.7 L891.5 700.2 L892.0 699.7 L892.5 699.0 L893.0 698.2 L893.5 697.4 L894.0 696.6 L894.5 696.2 L895.0 695.8 L895.5 695.3 L896.0 694.9 L896.5 694.4 L897.0 693.8 L897.5 693.3 L898.0 692.9 L898.5 692.3 L899.0 691.8 L899.5 691.3 L900.0 691.0 L900.5 690.9 L901.0 690.9 L901.5 691.0 L902.0 691.2 L902.5 691.2 L903.0 691.3 L903.5 691.5 L904.0 691.7 L904.5 692.3 L905.0 692.9 L905.5 693.6 L906.0 694.2 L906.5 694.9 L907.0 695.6 L907.5 696.2 L908.0 696.9 L908.5 697.3 L909.0 697.7 L909.5 698.0 L910.0 698.3 L910.5 698.9 L911.0 699.3 L911.5 699.8 L912.0 700.2 L912.5 701.1 L913.0 701.8 L913.5 702.6 L914.0 703.3 L914.5 703.4 L915.0 703.5 L915.5 703.6 L916.0 703.6 L916.5 704.0 L917.0 704.3 L917.5 704.7 L918.0 705.0 L918.5 705.0 L919.0 704.9 L919.5 704.9 L920.0 704.9 L920.5 705.0 L921.0 705.1 L921.5 705.3 L922.0 705.4 L922.5 705.3 L923.0 705.3 L923.5 705.2 L924.0 705.2 L924.5 705.2 L925.0 705.3 L925.5 705.4 L926.0 705.5 L926.5 705.2 L927.0 704.9 L927.5 704.6 L928.0 704.4 L928.5 704.9 L929.0 705.4 L929.5 705.9 L930.0 706.4 L930.5 706.3 L931.0 706.3 L931.5 706.1 L932.0 706.0 L932.5 705.9 L933.0 705.7 L933.5 705.5 L934.0 705.3 L934.5 705.2 L935.0 705.0 L935.5 704.9 L936.0 704.8 L936.5 704.7 L937.0 704.6 L937.5 704.5 L938.0 704.5 L938.5 704.2 L939.0 703.9 L939.5 703.7 L940.0 703.4 L940.5 703.9 L941.0 704.4 L941.5 705.0 L942.0 705.5 L942.5 705.5 L943.0 705.5 L943.5 705.5 L944.0 705.5 L944.5 705.6 L945.0 705.6 L945.5 705.7 L946.0 705.7 L946.5 705.7 L947.0 705.6 L947.5 705.6 L948.0 705.5 L948.5 705.4 L949.0 705.3 L949.5 705.3 L950.0 705.2 L950.5 705.0 L951.0 704.9 L951.5 704.7 L952.0 704.5 L952.5 704.5 L953.0 704.4 L953.5 704.4 L954.0 704.3 L954.5 704.7 L955.0 705.0 L955.5 705.4 L956.0 705.7 L956.5 705.7 L957.0 705.8 L957.5 705.8 L958.0 705.8 L958.5 705.7 L959.0 705.6 L959.5 705.5 L960.0 705.3 L960.5 704.9 L961.0 704.5 L961.5 704.1 L962.0 703.7 L962.5 703.8 L963.0 703.9 L963.5 703.9 L964.0 704.0 L964.5 704.1 L965.0 704.1 L965.5 704.2 L966.0 704.3 L966.5 704.4 L967.0 704.4 L967.5 704.5 L968.0 704.6 L968.5 704.5 L969.0 704.5 L969.5 704.4 L970.0 704.3 L970.5 704.4 L971.0 704.4 L971.5 704.4 L972.0 704.4 L972.5 704.4 L973.0 704.3 L973.5 704.3 L974.0 704.2 L974.5 704.1 L975.0 703.9 L975.5 703.7 L976.0 703.5 L976.5 703.3 L977.0 702.9 L977.5 702.6 L978.0 702.2 L978.5 702.1 L979.0 702.0 L979.5 701.9 L980.0 701.7 L980.5 701.2 L981.0 700.8 L981.5 700.3 L982.0 699.7 L982.5 699.1 L983.0 698.4 L983.5 697.8 L984.0 697.1 L984.5 696.5 L985.0 695.9 L985.5 695.3 L986.0 694.7 L986.5 694.5 L987.0 694.3 L987.5 694.1 L988.0 694.0 L988.5 693.7 L989.0 693.6 L989.5 693.4 L990.0 693.3 L990.5 692.9 L991.0 692.6 L991.5 692.3 L992.0 692.0 L992.5 692.1 L993.0 692.3 L993.5 692.5 L994.0 692.7 L994.5 692.8 L995.0 692.9 L995.5 693.0 L996.0 693.1 L996.5 693.5 L997.0 693.8 L997.5 694.2 L998.0 694.5 L998.5 694.6 L999.0 694.7 L999.5 694.7 L1000.0 694.8 L1000.5 695.0 L1001.0 695.2 L1001.5 695.4 L1002.0 695.5 L1002.5 695.5 L1003.0 695.5 L1003.5 695.5 L1004.0 695.5 L1004.5 695.7 L1005.0 696.0 L1005.5 696.2 L1006.0 696.4 L1006.5 696.4 L1007.0 696.4 L1007.5 696.5 L1008.0 696.5 L1008.5 696.4 L1009.0 696.4 L1009.5 696.3 L1010.0 696.3 L1010.5 696.3 L1011.0 696.3 L1011.5 696.3 L1012.0 696.3 L1012.5 696.5 L1013.0 696.8 L1013.5 697.1 L1014.0 697.4 L1014.5 697.8 L1015.0 698.2 L1015.5 698.6 L1016.0 699.0 L1016.5 699.6 L1017.0 700.2 L1017.5 700.9 L1018.0 701.5 L1018.5 701.9 L1019.0 702.2 L1019.5 702.6 L1020.0 702.9 L1020.5 703.3 L1021.0 703.6 L1021.5 704.0 L1022.0 704.3 L1022.5 704.4 L1023.0 704.5 L1023.5 704.6 L1024.0 704.7 L1024.5 704.9 L1025.0 705.0 L1025.5 705.2 L1026.0 705.3 L1026.5 705.6 L1027.0 705.8 L1027.5 706.0 L1028.0 706.3 L1028.5 706.4 L1029.0 706.6 L1029.5 706.7 L1030.0 706.9 L1030.5 706.7 L1031.0 706.5 L1031.5 706.3 L1032.0 706.0 L1032.5 705.8 L1033.0 705.5 L1033.5 705.2 L1034.0 704.9 L1034.5 705.4 L1035.0 706.0 L1035.5 706.6 L1036.0 707.2 L1036.5 707.2 L1037.0 707.3 L1037.5 707.3 L1038.0 707.4 L1038.5 707.2 L1039.0 707.0 L1039.5 706.9 L1040.0 706.7 L1040.5 706.9 L1041.0 707.2 L1041.5 707.5 L1042.0 707.7 L1042.5 707.6 L1043.0 707.4 L1043.5 707.3 L1044.0 707.1 L1044.5 706.9 L1045.0 706.7 L1045.5 706.4 L1046.0 706.2 L1046.5 706.5 L1047.0 706.7 L1047.5 707.0 L1048.0 707.3 L1048.5 707.2 L1049.0 707.2 L1049.5 707.1 L1050.0 707.1 L1050.5 707.0 L1051.0 707.0 L1051.5 706.9 L1052.0 706.8 L1052.5 707.1 L1052.5 715.5 L1052.0 715.8 L1051.5 715.6 L1051.0 715.3 L1050.5 715.1 L1050.0 714.8 L1049.5 714.9 L1049.0 715.0 L1048.5 715.1 L1048.0 715.2 L1047.5 715.5 L1047.0 715.8 L1046.5 716.2 L1046.0 716.5 L1045.5 716.1 L1045.0 715.7 L1044.5 715.3 L1044.0 714.9 L1043.5 714.9 L1043.0 715.0 L1042.5 715.1 L1042.0 715.1 L1041.5 715.4 L1041.0 715.6 L1040.5 715.8 L1040.0 716.0 L1039.5 715.7 L1039.0 715.4 L1038.5 715.1 L1038.0 714.8 L1037.5 714.8 L1037.0 714.8 L1036.5 714.8 L1036.0 714.8 L1035.5 714.7 L1035.0 714.7 L1034.5 714.6 L1034.0 714.6 L1033.5 714.5 L1033.0 714.4 L1032.5 714.3 L1032.0 714.2 L1031.5 714.4 L1031.0 714.5 L1030.5 714.6 L1030.0 714.7 L1029.5 714.6 L1029.0 714.5 L1028.5 714.4 L1028.0 714.2 L1027.5 714.1 L1027.0 714.0 L1026.5 713.8 L1026.0 713.7 L1025.5 713.6 L1025.0 713.4 L1024.5 713.3 L1024.0 713.2 L1023.5 712.9 L1023.0 712.7 L1022.5 712.4 L1022.0 712.1 L1021.5 712.1 L1021.0 712.2 L1020.5 712.2 L1020.0 712.1 L1019.5 711.8 L1019.0 711.4 L1018.5 710.9 L1018.0 710.5 L1017.5 710.1 L1017.0 709.6 L1016.5 709.2 L1016.0 708.7 L1015.5 708.6 L1015.0 708.4 L1014.5 708.3 L1014.0 708.2 L1013.5 707.7 L1013.0 707.3 L1012.5 706.9 L1012.0 706.6 L1011.5 706.4 L1011.0 706.2 L1010.5 706.1 L1010.0 706.1 L1009.5 706.1 L1009.0 706.1 L1008.5 706.2 L1008.0 706.2 L1007.5 706.6 L1007.0 706.9 L1006.5 707.3 L1006.0 707.6 L1005.5 707.4 L1005.0 707.1 L1004.5 706.8 L1004.0 706.5 L1003.5 706.4 L1003.0 706.3 L1002.5 706.1 L1002.0 706.0 L1001.5 705.7 L1001.0 705.4 L1000.5 705.1 L1000.0 704.7 L999.5 704.5 L999.0 704.3 L998.5 704.1 L998.0 703.9 L997.5 703.7 L997.0 703.5 L996.5 703.4 L996.0 703.3 L995.5 703.3 L995.0 703.4 L994.5 703.4 L994.0 703.6 L993.5 703.1 L993.0 702.7 L992.5 702.4 L992.0 702.1 L991.5 702.3 L991.0 702.6 L990.5 702.8 L990.0 703.2 L989.5 703.2 L989.0 703.4 L988.5 703.5 L988.0 703.7 L987.5 704.1 L987.0 704.5 L986.5 705.0 L986.0 705.5 L985.5 705.9 L985.0 706.3 L984.5 706.7 L984.0 707.2 L983.5 707.9 L983.0 708.6 L982.5 709.2 L982.0 709.9 L981.5 710.5 L981.0 711.1 L980.5 711.7 L980.0 712.2 L979.5 712.1 L979.0 711.9 L978.5 711.7 L978.0 711.5 L977.5 711.8 L977.0 712.1 L976.5 712.4 L976.0 712.7 L975.5 712.8 L975.0 712.9 L974.5 713.0 L974.0 713.1 L973.5 713.1 L973.0 713.0 L972.5 713.0 L972.0 712.9 L971.5 713.0 L971.0 713.0 L970.5 713.1 L970.0 713.1 L969.5 713.0 L969.0 712.8 L968.5 712.7 L968.0 712.5 L967.5 712.5 L967.0 712.5 L966.5 712.4 L966.0 712.4 L965.5 712.6 L965.0 712.9 L964.5 713.2 L964.0 713.4 L963.5 713.3 L963.0 713.2 L962.5 713.2 L962.0 713.1 L961.5 713.2 L961.0 713.3 L960.5 713.4 L960.0 713.5 L959.5 713.5 L959.0 713.4 L958.5 713.4 L958.0 713.4 L957.5 713.4 L957.0 713.4 L956.5 713.5 L956.0 713.5 L955.5 713.5 L955.0 713.5 L954.5 713.5 L954.0 713.6 L953.5 713.7 L953.0 713.8 L952.5 713.9 L952.0 714.0 L951.5 713.8 L951.0 713.6 L950.5 713.3 L950.0 713.1 L949.5 713.5 L949.0 714.0 L948.5 714.4 L948.0 714.9 L947.5 714.5 L947.0 714.1 L946.5 713.7 L946.0 713.3 L945.5 713.3 L945.0 713.4 L944.5 713.4 L944.0 713.4 L943.5 713.2 L943.0 712.9 L942.5 712.7 L942.0 712.4 L941.5 712.7 L941.0 713.0 L940.5 713.2 L940.0 713.5 L939.5 713.2 L939.0 712.8 L938.5 712.5 L938.0 712.2 L937.5 712.6 L937.0 713.1 L936.5 713.6 L936.0 714.0 L935.5 714.0 L935.0 713.9 L934.5 713.9 L934.0 713.8 L933.5 713.8 L933.0 713.8 L932.5 713.7 L932.0 713.6 L931.5 713.7 L931.0 713.8 L930.5 713.9 L930.0 713.9 L929.5 713.9 L929.0 713.9 L928.5 713.8 L928.0 713.8 L927.5 713.6 L927.0 713.5 L926.5 713.4 L926.0 713.2 L925.5 713.2 L925.0 713.1 L924.5 713.1 L924.0 713.1 L923.5 713.5 L923.0 714.0 L922.5 714.4 L922.0 714.9 L921.5 714.4 L921.0 714.0 L920.5 713.5 L920.0 713.1 L919.5 713.0 L919.0 712.9 L918.5 712.9 L918.0 712.8 L917.5 712.8 L917.0 712.8 L916.5 712.8 L916.0 712.8 L915.5 712.5 L915.0 712.1 L914.5 711.7 L914.0 711.3 L913.5 711.3 L913.0 711.2 L912.5 711.1 L912.0 710.9 L911.5 710.6 L911.0 710.2 L910.5 709.8 L910.0 709.4 L909.5 708.7 L909.0 708.1 L908.5 707.4 L908.0 706.8 L907.5 706.0 L907.0 705.2 L906.5 704.5 L906.0 703.7 L905.5 703.1 L905.0 702.6 L904.5 702.1 L904.0 701.6 L903.5 701.2 L903.0 700.9 L902.5 700.7 L902.0 700.5 L901.5 700.7 L901.0 701.1 L900.5 701.5 L900.0 701.9 L899.5 702.0 L899.0 702.1 L898.5 702.3 L898.0 702.6 L897.5 703.0 L897.0 703.4 L896.5 703.8 L896.0 704.3 L895.5 704.9 L895.0 705.5 L894.5 706.2 L894.0 706.8 L893.5 707.5 L893.0 708.2 L892.5 708.8 L892.0 709.5 L891.5 709.8 L891.0 710.2 L890.5 710.5 L890.0 710.8 L889.5 711.5 L889.0 712.1 L888.5 712.8 L888.0 713.3 L887.5 713.4 L887.0 713.4 L886.5 713.4 L886.0 713.3 L885.5 713.2 L885.0 713.1 L884.5 713.0 L884.0 712.9 L883.5 712.8 L883.0 712.8 L882.5 712.7 L882.0 712.6 L881.5 712.8 L881.0 713.0 L880.5 713.1 L880.0 713.3 L879.5 713.3 L879.0 713.3 L878.5 713.3 L878.0 713.3 L877.5 713.4 L877.0 713.5 L876.5 713.6 L876.0 713.6 L875.5 713.5 L875.0 713.3 L874.5 713.1 L874.0 713.0 L873.5 713.1 L873.0 713.2 L872.5 713.3 L872.0 713.4 L871.5 713.4 L871.0 713.4 L870.5 713.4 L870.0 713.4 L869.5 713.4 L869.0 713.5 L868.5 713.6 L868.0 713.6 L867.5 713.6 L867.0 713.6 L866.5 713.5 L866.0 713.5 L865.5 713.8 L865.0 714.1 L864.5 714.4 L864.0 714.8 L863.5 714.4 L863.0 714.1 L862.5 713.7 L862.0 713.4 L861.5 713.6 L861.0 713.8 L860.5 713.9 L860.0 714.1 L859.5 713.9 L859.0 713.6 L858.5 713.3 L858.0 713.1 L857.5 713.8 L857.0 714.5 L856.5 715.2 L856.0 716.0 L855.5 715.5 L855.0 715.1 L854.5 714.7 L854.0 714.3 L853.5 714.0 L853.0 713.7 L852.5 713.4 L852.0 713.2 L851.5 713.5 L851.0 713.9 L850.5 714.3 L850.0 714.6 L849.5 714.8 L849.0 714.9 L848.5 715.0 L848.0 715.1 L847.5 715.3 L847.0 715.4 L846.5 715.6 L846.0 715.7 L845.5 715.6 L845.0 715.4 L844.5 715.3 L844.0 715.1 L843.5 715.0 L843.0 714.8 L842.5 714.7 L842.0 714.5 L841.5 714.3 L841.0 714.2 L840.5 714.0 L840.0 713.8 L839.5 713.8 L839.0 713.7 L838.5 713.7 L838.0 713.7 L837.5 713.7 L837.0 713.8 L836.5 713.9 L836.0 714.0 L835.5 713.8 L835.0 713.6 L834.5 713.4 L834.0 713.2 L833.5 713.2 L833.0 713.2 L832.5 713.1 L832.0 713.1 L831.5 713.4 L831.0 713.6 L830.5 713.8 L830.0 714.1 L829.5 714.0 L829.0 713.8 L828.5 713.7 L828.0 713.6 L827.5 713.7 L827.0 713.8 L826.5 713.9 L826.0 714.0 L825.5 713.8 L825.0 713.7 L824.5 713.5 L824.0 713.4 L823.5 713.4 L823.0 713.4 L822.5 713.4 L822.0 713.4 L821.5 714.0 L821.0 714.7 L820.5 715.3 L820.0 715.9 L819.5 715.6 L819.0 715.3 L818.5 715.1 L818.0 714.8 L817.5 714.5 L817.0 714.1 L816.5 713.8 L816.0 713.5 L815.5 713.8 L815.0 714.1 L814.5 714.4 L814.0 714.6 L813.5 714.8 L813.0 714.9 L812.5 715.0 L812.0 715.1 L811.5 714.5 L811.0 713.8 L810.5 713.2 L810.0 712.6 L809.5 712.7 L809.0 712.7 L808.5 712.8 L808.0 712.8 L807.5 712.8 L807.0 712.9 L806.5 712.9 L806.0 713.0 L805.5 713.0 L805.0 713.0 L804.5 712.9 L804.0 712.9 L803.5 713.3 L803.0 713.6 L802.5 713.8 L802.0 714.1 L801.5 714.1 L801.0 714.0 L800.5 714.0 L800.0 713.9 L799.5 714.2 L799.0 714.4 L798.5 714.7 L798.0 714.9 L797.5 714.5 L797.0 714.2 L796.5 713.8 L796.0 713.4 L795.5 713.8 L795.0 714.2 L794.5 714.6 L794.0 714.9 L793.5 714.9 L793.0 714.9 L792.5 714.9 L792.0 714.8 L791.5 714.0 L791.0 713.1 L790.5 712.2 L790.0 711.3 L789.5 711.0 L789.0 710.7 L788.5 710.3 L788.0 709.9 L787.5 709.7 L787.0 709.5 L786.5 709.2 L786.0 708.9 L785.5 708.1 L785.0 707.4 L784.5 706.5 L784.0 705.7 L783.5 704.9 L783.0 704.0 L782.5 703.2 L782.0 702.3 L781.5 701.6 L781.0 700.8 L780.5 700.1 L780.0 699.5 L779.5 698.8 L779.0 698.1 L778.5 697.6 L778.0 697.2 L777.5 697.0 L777.0 696.9 L776.5 697.0 L776.0 697.2 L775.5 698.0 L775.0 698.8 L774.5 699.8 L774.0 700.9 L773.5 701.8 L773.0 702.7 L772.5 703.7 L772.0 704.6 L771.5 705.4 L771.0 706.2 L770.5 706.9 L770.0 707.5 L769.5 708.2 L769.0 708.9 L768.5 709.4 L768.0 709.9 L767.5 710.1 L767.0 710.2 L766.5 710.3 L766.0 710.3 L765.5 710.6 L765.0 710.9 L764.5 711.1 L764.0 711.3 L763.5 711.9 L763.0 712.3 L762.5 712.8 L762.0 713.2 L761.5 713.1 L761.0 713.0 L760.5 712.8 L760.0 712.6 L759.5 713.0 L759.0 713.3 L758.5 713.7 L758.0 714.1 L757.5 713.6 L757.0 713.1 L756.5 712.6 L756.0 712.1 L755.5 712.2 L755.0 712.4 L754.5 712.5 L754.0 712.7 L753.5 712.6 L753.0 712.5 L752.5 712.4 L752.0 712.4 L751.5 712.8 L751.0 713.2 L750.5 713.6 L750.0 714.0 L749.5 713.7 L749.0 713.5 L748.5 713.3 L748.0 713.0 L747.5 713.1 L747.0 713.1 L746.5 713.2 L746.0 713.2 L745.5 713.3 L745.0 713.3 L744.5 713.4 L744.0 713.5 L743.5 713.3 L743.0 713.1 L742.5 712.9 L742.0 712.6 L741.5 712.8 L741.0 712.9 L740.5 713.0 L740.0 713.1 L739.5 713.6 L739.0 714.1 L738.5 714.5 L738.0 715.0 L737.5 714.7 L737.0 714.4 L736.5 714.1 L736.0 713.8 L735.5 713.3 L735.0 712.9 L734.5 712.4 L734.0 711.9 L733.5 712.0 L733.0 712.0 L732.5 712.0 L732.0 712.0 L731.5 712.0 L731.0 711.9 L730.5 711.9 L730.0 711.9 L729.5 712.2 L729.0 712.6 L728.5 713.0 L728.0 713.4 L727.5 712.8 L727.0 712.2 L726.5 711.7 L726.0 711.1 L725.5 711.1 L725.0 711.1 L724.5 711.2 L724.0 711.3 L723.5 711.6 L723.0 712.0 L722.5 712.4 L722.0 712.8 L721.5 712.9 L721.0 713.1 L720.5 713.2 L720.0 713.3 L719.5 713.2 L719.0 713.1 L718.5 712.9 L718.0 712.8 L717.5 712.5 L717.0 712.3 L716.5 712.1 L716.0 711.8 L715.5 711.8 L715.0 711.9 L714.5 711.9 L714.0 712.0 L713.5 712.0 L713.0 712.0 L712.5 712.0 L712.0 712.0 L711.5 711.8 L711.0 711.7 L710.5 711.5 L710.0 711.3 L709.5 711.9 L709.0 712.5 L708.5 713.1 L708.0 713.8 L707.5 713.5 L707.0 713.3 L706.5 713.1 L706.0 712.9 L705.5 712.7 L705.0 712.6 L704.5 712.4 L704.0 712.1 L703.5 712.5 L703.0 712.9 L702.5 713.2 L702.0 713.5 L701.5 713.5 L701.0 713.5 L700.5 713.5 L700.0 713.5 L699.5 713.0 L699.0 712.5 L698.5 712.0 L698.0 711.5 L697.5 712.1 L697.0 712.6 L696.5 713.1 L696.0 713.7 L695.5 713.9 L695.0 714.1 L694.5 714.3 L694.0 714.5 L693.5 713.9 L693.0 713.3 L692.5 712.7 L692.0 712.2 L691.5 712.0 L691.0 711.8 L690.5 711.6 L690.0 711.4 L689.5 711.8 L689.0 712.2 L688.5 712.6 L688.0 713.0 L687.5 713.4 L687.0 713.8 L686.5 714.2 L686.0 714.6 L685.5 713.9 L685.0 713.2 L684.5 712.5 L684.0 711.8 L683.5 711.9 L683.0 712.0 L682.5 712.1 L682.0 712.3 L681.5 712.3 L681.0 712.3 L680.5 712.4 L680.0 712.4 L679.5 712.4 L679.0 712.3 L678.5 712.3 L678.0 712.3 L677.5 712.2 L677.0 712.0 L676.5 711.9 L676.0 711.7 L675.5 711.8 L675.0 711.9 L674.5 712.0 L674.0 712.1 L673.5 712.1 L673.0 712.0 L672.5 711.9 L672.0 711.9 L671.5 712.0 L671.0 712.2 L670.5 712.3 L670.0 712.5 L669.5 712.5 L669.0 712.4 L668.5 712.4 L668.0 712.5 L667.5 712.4 L667.0 712.4 L666.5 712.3 L666.0 712.3 L665.5 712.3 L665.0 712.3 L664.5 712.4 L664.0 712.4 L663.5 712.3 L663.0 712.1 L662.5 712.0 L662.0 711.9 L661.5 711.8 L661.0 711.7 L660.5 711.7 L660.0 711.6 L659.5 711.7 L659.0 711.8 L658.5 711.9 L658.0 711.9 L657.5 711.9 L657.0 711.8 L656.5 711.7 L656.0 711.6 L655.5 712.2 L655.0 712.8 L654.5 713.5 L654.0 714.1 L653.5 713.8 L653.0 713.4 L652.5 713.1 L652.0 712.7 L651.5 712.5 L651.0 712.3 L650.5 712.1 L650.0 711.8 L649.5 712.0 L649.0 712.2 L648.5 712.4 L648.0 712.5 L647.5 712.6 L647.0 712.7 L646.5 712.7 L646.0 712.7 L645.5 712.8 L645.0 712.9 L644.5 713.0 L644.0 713.0 L643.5 713.6 L643.0 714.1 L642.5 714.6 L642.0 715.1 L641.5 714.8 L641.0 714.5 L640.5 714.2 L640.0 713.9 L639.5 713.4 L639.0 712.9 L638.5 712.4 L638.0 711.9 L637.5 712.1 L637.0 712.4 L636.5 712.7 L636.0 713.0 L635.5 713.2 L635.0 713.5 L634.5 713.7 L634.0 713.9 L633.5 713.6 L633.0 713.2 L632.5 712.9 L632.0 712.4 L631.5 711.5 L631.0 710.5 L630.5 709.5 L630.0 708.5 L629.5 708.0 L629.0 707.6 L628.5 707.0 L628.0 706.5 L627.5 706.0 L627.0 705.4 L626.5 704.9 L626.0 704.2 L625.5 703.3 L625.0 702.4 L624.5 701.5 L624.0 700.6 L623.5 699.7 L623.0 698.9 L622.5 698.1 L622.0 697.4 L621.5 696.7 L621.0 696.0 L620.5 695.6 L620.0 695.2 L619.5 695.3 L619.0 695.5 L618.5 695.9 L618.0 696.4 L617.5 696.7 L617.0 697.0 L616.5 697.4 L616.0 698.0 L615.5 699.1 L615.0 700.4 L614.5 701.6 L614.0 703.0 L613.5 703.4 L613.0 703.8 L612.5 704.2 L612.0 704.5 L611.5 705.4 L611.0 706.3 L610.5 707.2 L610.0 708.0 L609.5 708.5 L609.0 708.9 L608.5 709.2 L608.0 709.5 L607.5 710.0 L607.0 710.3 L606.5 710.7 L606.0 711.0 L605.5 711.8 L605.0 712.5 L604.5 713.2 L604.0 713.9 L603.5 713.3 L603.0 712.6 L602.5 712.0 L602.0 711.3 L601.5 711.3 L601.0 711.3 L600.5 711.2 L600.0 711.2 L599.5 711.4 L599.0 711.6 L598.5 711.7 L598.0 711.9 L597.5 711.6 L597.0 711.2 L596.5 710.8 L596.0 710.5 L595.5 710.4 L595.0 710.3 L594.5 710.2 L594.0 710.1 L593.5 710.4 L593.0 710.8 L592.5 711.1 L592.0 711.5 L591.5 711.6 L591.0 711.6 L590.5 711.7 L590.0 711.7 L589.5 711.9 L589.0 712.0 L588.5 712.1 L588.0 712.3 L587.5 711.9 L587.0 711.5 L586.5 711.2 L586.0 710.8 L585.5 711.7 L585.0 712.6 L584.5 713.4 L584.0 714.3 L583.5 714.3 L583.0 714.4 L582.5 714.4 L582.0 714.4 L581.5 714.0 L581.0 713.5 L580.5 713.1 L580.0 712.6 L579.5 712.2 L579.0 711.7 L578.5 711.2 L578.0 710.7 L577.5 711.3 L577.0 711.9 L576.5 712.6 L576.0 713.2 L575.5 712.6 L575.0 712.0 L574.5 711.5 L574.0 710.9 L573.5 711.7 L573.0 712.6 L572.5 713.5 L572.0 714.3 L571.5 713.6 L571.0 712.9 L570.5 712.2 L570.0 711.4 L569.5 711.4 L569.0 711.4 L568.5 711.4 L568.0 711.3 L567.5 712.4 L567.0 713.4 L566.5 714.5 L566.0 715.5 L565.5 714.4 L565.0 713.4 L564.5 712.3 L564.0 711.2 L563.5 711.4 L563.0 711.6 L562.5 711.7 L562.0 711.9 L561.5 712.2 L561.0 712.5 L560.5 712.8 L560.0 713.1 L559.5 712.6 L559.0 712.1 L558.5 711.6 L558.0 711.1 L557.5 711.5 L557.0 711.8 L556.5 712.1 L556.0 712.5 L555.5 712.0 L555.0 711.4 L554.5 710.9 L554.0 710.3 L553.5 710.4 L553.0 710.5 L552.5 710.6 L552.0 710.6 L551.5 710.5 L551.0 710.4 L550.5 710.3 L550.0 710.1 L549.5 710.8 L549.0 711.4 L548.5 712.1 L548.0 712.7 L547.5 712.2 L547.0 711.7 L546.5 711.2 L546.0 710.7 L545.5 710.5 L545.0 710.4 L544.5 710.2 L544.0 710.1 L543.5 710.5 L543.0 710.9 L542.5 711.4 L542.0 711.8 L541.5 711.6 L541.0 711.5 L540.5 711.3 L540.0 711.2 L539.5 710.9 L539.0 710.6 L538.5 710.3 L538.0 710.1 L537.5 710.3 L537.0 710.6 L536.5 710.9 L536.0 711.2 L535.5 711.3 L535.0 711.3 L534.5 711.4 L534.0 711.4 L533.5 711.7 L533.0 712.0 L532.5 712.2 L532.0 712.5 L531.5 712.6 L531.0 712.7 L530.5 712.8 L530.0 712.9 L529.5 712.3 L529.0 711.8 L528.5 711.2 L528.0 710.7 L527.5 710.8 L527.0 710.9 L526.5 711.0 L526.0 711.1 L525.5 711.0 L525.0 710.8 L524.5 710.7 L524.0 710.5 L523.5 710.5 L523.0 710.4 L522.5 710.4 L522.0 710.3 L521.5 710.8 L521.0 711.3 L520.5 711.7 L520.0 712.2 L519.5 711.8 L519.0 711.5 L518.5 711.1 L518.0 710.8 L517.5 711.4 L517.0 711.9 L516.5 712.5 L516.0 713.1 L515.5 712.5 L515.0 711.9 L514.5 711.4 L514.0 710.8 L513.5 710.7 L513.0 710.6 L512.5 710.5 L512.0 710.5 L511.5 710.2 L511.0 710.0 L510.5 709.8 L510.0 709.5 L509.5 709.6 L509.0 709.7 L508.5 709.7 L508.0 709.8 L507.5 710.0 L507.0 710.2 L506.5 710.4 L506.0 710.6 L505.5 710.2 L505.0 709.7 L504.5 709.3 L504.0 708.8 L503.5 708.9 L503.0 708.9 L502.5 708.9 L502.0 709.0 L501.5 709.8 L501.0 710.6 L500.5 711.4 L500.0 712.2 L499.5 711.7 L499.0 711.1 L498.5 710.6 L498.0 710.1 L497.5 709.9 L497.0 709.8 L496.5 709.6 L496.0 709.5 L495.5 709.6 L495.0 709.7 L494.5 709.9 L494.0 710.0 L493.5 709.8 L493.0 709.6 L492.5 709.3 L492.0 709.1 L491.5 709.8 L491.0 710.5 L490.5 711.2 L490.0 711.9 L489.5 711.1 L489.0 710.2 L488.5 709.4 L488.0 708.6 L487.5 709.0 L487.0 709.4 L486.5 709.8 L486.0 710.3 L485.5 710.9 L485.0 711.6 L484.5 712.2 L484.0 712.9 L483.5 712.0 L483.0 711.2 L482.5 710.4 L482.0 709.5 L481.5 709.0 L481.0 708.4 L480.5 707.9 L480.0 707.3 L479.5 707.6 L479.0 708.0 L478.5 708.3 L478.0 708.7 L477.5 708.1 L477.0 707.6 L476.5 707.1 L476.0 706.5 L475.5 707.3 L475.0 708.1 L474.5 708.8 L474.0 709.6 L473.5 710.1 L473.0 710.6 L472.5 711.0 L472.0 711.5 L471.5 710.4 L471.0 709.4 L470.5 708.3 L470.0 707.3 L469.5 707.0 L469.0 706.8 L468.5 706.5 L468.0 706.3 L467.5 707.3 L467.0 708.4 L466.5 709.4 L466.0 710.5 L465.5 709.5 L465.0 708.4 L464.5 707.4 L464.0 706.4 L463.5 707.0 L463.0 707.7 L462.5 708.3 L462.0 708.9 L461.5 708.1 L461.0 707.3 L460.5 706.5 L460.0 705.8 L459.5 706.0 L459.0 706.2 L458.5 706.4 L458.0 706.6 L457.5 706.6 L457.0 706.6 L456.5 706.6 L456.0 706.6 L455.5 706.3 L455.0 705.9 L454.5 705.6 L454.0 705.3 L453.5 705.4 L453.0 705.5 L452.5 705.6 L452.0 705.7 L451.5 705.9 L451.0 706.0 L450.5 706.1 L450.0 706.3 L449.5 705.9 L449.0 705.5 L448.5 705.1 L448.0 704.7 L447.5 704.7 L447.0 704.7 L446.5 704.7 L446.0 704.7 L445.5 704.8 L445.0 704.9 L444.5 705.0 L444.0 705.1 L443.5 704.5 L443.0 704.0 L442.5 703.4 L442.0 702.9 L441.5 703.1 L441.0 703.2 L440.5 703.4 L440.0 703.6 L439.5 703.3 L439.0 703.1 L438.5 702.8 L438.0 702.5 L437.5 702.3 L437.0 702.0 L436.5 701.8 L436.0 701.5 L435.5 701.1 L435.0 700.7 L434.5 700.2 L434.0 699.7 L433.5 699.2 L433.0 698.6 L432.5 698.0 L432.0 697.3 L431.5 696.8 L431.0 696.3 L430.5 695.6 L430.0 694.9 L429.5 694.2 L429.0 693.3 L428.5 692.3 L428.0 691.2 L427.5 690.6 L427.0 689.8 L426.5 688.7 L426.0 687.4 L425.5 685.6 L425.0 683.4 L424.5 680.9 L424.0 677.9 L423.5 673.5 L423.0 668.6 L422.5 663.3 L422.0 657.3 L421.5 651.6 L421.0 645.1 L420.5 637.9 L420.0 629.8 L419.5 620.9 L419.0 611.3 L418.5 600.8 L418.0 589.7 L417.5 577.7 L417.0 565.4 L416.5 552.9 L416.0 540.6 L415.5 529.0 L415.0 518.2 L414.5 508.5 L414.0 500.4 L413.5 494.0 L413.0 489.6 L412.5 487.6 L412.0 488.0 L411.5 490.6 L411.0 495.5 L410.5 502.5 L410.0 511.1 L409.5 521.5 L409.0 533.0 L408.5 545.1 L408.0 557.7 L407.5 569.7 L407.0 581.5 L406.5 592.8 L406.0 603.4 L405.5 613.6 L405.0 623.0 L404.5 631.5 L404.0 639.3 L403.5 646.2 L403.0 652.3 L402.5 657.6 L402.0 662.3 L401.5 667.1 L401.0 671.3 L400.5 675.0 L400.0 678.3 L399.5 680.3 L399.0 681.8 L398.5 683.1 L398.0 684.0 L397.5 684.6 L397.0 685.0 L396.5 685.1 L396.0 685.0 L395.5 685.3 L395.0 685.3 L394.5 685.1 L394.0 684.7 L393.5 683.6 L393.0 682.3 L392.5 680.7 L392.0 678.8 L391.5 676.9 L391.0 674.7 L390.5 672.2 L390.0 669.5 L389.5 665.9 L389.0 662.3 L388.5 658.6 L388.0 654.9 L387.5 651.9 L387.0 649.0 L386.5 646.4 L386.0 644.2 L385.5 642.5 L385.0 641.3 L384.5 640.7 L384.0 640.8 L383.5 641.4 L383.0 642.6 L382.5 644.5 L382.0 646.8 L381.5 649.5 L381.0 652.5 L380.5 655.7 L380.0 659.0 L379.5 662.8 L379.0 666.5 L378.5 670.1 L378.0 673.6 L377.5 676.8 L377.0 679.7 L376.5 682.3 L376.0 684.8 L375.5 686.6 L375.0 688.2 L374.5 689.5 L374.0 690.6 L373.5 692.6 L373.0 694.3 L372.5 696.0 L372.0 697.5 L371.5 697.5 L371.0 697.5 L370.5 697.4 L370.0 697.1 L369.5 697.8 L369.0 698.3 L368.5 698.9 L368.0 699.3 L367.5 699.1 L367.0 698.8 L366.5 698.4 L366.0 698.1 L365.5 698.4 L365.0 698.7 L364.5 699.0 L364.0 699.3 L363.5 699.9 L363.0 700.6 L362.5 701.3 L362.0 702.0 L361.5 702.1 L361.0 702.3 L360.5 702.4 L360.0 702.5 L359.5 701.7 L359.0 700.8 L358.5 700.0 L358.0 699.1 L357.5 698.9 L357.0 698.7 L356.5 698.5 L356.0 698.3 L355.5 698.2 L355.0 698.2 L354.5 698.1 L354.0 698.0 L353.5 697.9 L353.0 697.8 L352.5 697.7 L352.0 697.6 L351.5 698.2 L351.0 698.9 L350.5 699.4 L350.0 700.0 L349.5 698.9 L349.0 697.7 L348.5 696.5 L348.0 695.3 L347.5 694.8 L347.0 694.3 L346.5 693.7 L346.0 693.0 L345.5 692.7 L345.0 692.3 L344.5 691.8 L344.0 691.2 L343.5 689.4 L343.0 687.5 L342.5 685.5 L342.0 683.3 L341.5 682.1 L341.0 680.7 L340.5 679.1 L340.0 677.2 L339.5 674.3 L339.0 671.1 L338.5 667.7 L338.0 664.1 L337.5 661.3 L337.0 658.3 L336.5 655.2 L336.0 651.9 L335.5 647.7 L335.0 643.7 L334.5 640.1 L334.0 636.8 L333.5 634.3 L333.0 632.5 L332.5 631.4 L332.0 631.1 L331.5 632.2 L331.0 634.0 L330.5 636.6 L330.0 639.8 L329.5 642.3 L329.0 645.1 L328.5 648.0 L328.0 651.0 L327.5 655.2 L327.0 659.4 L326.5 663.5 L326.0 667.4 L325.5 670.2 L325.0 672.8 L324.5 675.1 L324.0 677.2 L323.5 680.4 L323.0 683.4 L322.5 686.3 L322.0 689.0 L321.5 689.8 L321.0 690.4 L320.5 690.8 L320.0 691.1 L319.5 691.9 L319.0 692.7 L318.5 693.3 L318.0 693.9 L317.5 695.2 L317.0 696.5 L316.5 697.8 L316.0 699.0 L315.5 699.2 L315.0 699.3 L314.5 699.4 L314.0 699.4 L313.5 699.4 L313.0 699.3 L312.5 699.2 L312.0 699.1 L311.5 699.8 L311.0 700.5 L310.5 701.3 L310.0 702.0 L309.5 702.6 L309.0 703.2 L308.5 703.9 L308.0 704.5 L307.5 703.7 L307.0 702.8 L306.5 702.0 L306.0 701.1 L305.5 701.0 L305.0 700.9 L304.5 700.8 L304.0 700.7 L303.5 701.3 L303.0 701.9 L302.5 702.6 L302.0 703.2 L301.5 702.5 L301.0 701.8 L300.5 701.2 L300.0 700.5 L299.5 701.0 L299.0 701.6 L298.5 702.2 L298.0 702.8 L297.5 703.1 L297.0 703.5 L296.5 703.9 L296.0 704.3 L295.5 703.5 L295.0 702.7 L294.5 701.9 L294.0 701.2 L293.5 700.8 L293.0 700.4 L292.5 700.1 L292.0 699.7 L291.5 700.6 L291.0 701.5 L290.5 702.4 L290.0 703.3 L289.5 703.4 L289.0 703.5 L288.5 703.6 L288.0 703.8 L287.5 703.5 L287.0 703.3 L286.5 703.1 L286.0 702.9 L285.5 702.3 L285.0 701.8 L284.5 701.3 L284.0 700.8 L283.5 700.5 L283.0 700.3 L282.5 700.0 L282.0 699.8 L281.5 699.9 L281.0 700.1 L280.5 700.2 L280.0 700.4 L279.5 700.9 L279.0 701.4 L278.5 701.9 L278.0 702.5 L277.5 702.3 L277.0 702.2 L276.5 702.1 L276.0 702.0 L275.5 701.5 L275.0 700.9 L274.5 700.4 L274.0 699.8 L273.5 700.5 L273.0 701.1 L272.5 701.7 L272.0 702.3 L271.5 701.9 L271.0 701.4 L270.5 701.0 L270.0 700.5 L269.5 700.3 L269.0 700.2 L268.5 700.0 L268.0 699.8 L267.5 699.9 L267.0 700.1 L266.5 700.2 L266.0 700.3 L265.5 699.9 L265.0 699.5 L264.5 699.1 L264.0 698.7 L263.5 698.9 L263.0 699.2 L262.5 699.4 L262.0 699.6 L261.5 699.6 L261.0 699.6 L260.5 699.5 L260.0 699.5 L259.5 699.1 L259.0 698.6 L258.5 698.2 L258.0 697.7 L257.5 698.1 L257.0 698.4 L256.5 698.8 L256.0 699.1 L255.5 698.6 L255.0 698.0 L254.5 697.5 L254.0 696.9 L253.5 697.5 L253.0 698.2 L252.5 698.8 L252.0 699.5 L251.5 699.7 L251.0 699.9 L250.5 700.1 L250.0 700.4 L249.5 699.4 L249.0 698.4 L248.5 697.5 L248.0 696.5 L247.5 697.6 L247.0 698.8 L246.5 699.9 L246.0 701.0 L245.5 701.0 L245.0 701.1 L244.5 701.1 L244.0 701.1 L243.5 700.2 L243.0 699.3 L242.5 698.3 L242.0 697.4 L241.5 697.3 L241.0 697.2 L240.5 697.2 L240.0 697.1 L239.5 696.8 L239.0 696.5 L238.5 696.1 L238.0 695.8 L237.5 696.0 L237.0 696.2 L236.5 696.4 L236.0 696.6 L235.5 697.2 L235.0 697.8 L234.5 698.5 L234.0 699.1 L233.5 698.6 L233.0 698.2 L232.5 697.7 L232.0 697.2 L231.5 696.8 L231.0 696.3 L230.5 695.9 L230.0 695.4 L229.5 696.2 L229.0 697.1 L228.5 697.9 L228.0 698.7 L227.5 697.9 L227.0 697.0 L226.5 696.2 L226.0 695.3 L225.5 695.5 L225.0 695.8 L224.5 696.0 L224.0 696.2 L223.5 696.8 L223.0 697.4 L222.5 697.9 L222.0 698.5 L221.5 698.2 L221.0 697.9 L220.5 697.6 L220.0 697.3 L219.5 697.1 L219.0 697.0 L218.5 696.8 L218.0 696.7 L217.5 696.3 L217.0 696.0 L216.5 695.6 L216.0 695.2 L215.5 695.7 L215.0 696.2 L214.5 696.6 L214.0 697.1 L213.5 696.7 L213.0 696.3 L212.5 695.9 L212.0 695.5 L211.5 695.2 L211.0 695.0 L210.5 694.7 L210.0 694.5 L209.5 694.8 L209.0 695.2 L208.5 695.6 L208.0 696.0 L207.5 695.6 L207.0 695.1 L206.5 694.7 L206.0 694.3 L205.5 693.9 L205.0 693.4 L204.5 692.9 L204.0 692.5 L203.5 692.8 L203.0 693.0 L202.5 693.3 L202.0 693.6 L201.5 694.0 L201.0 694.3 L200.5 694.7 L200.0 695.0 L199.5 695.1 L199.0 695.1 L198.5 695.2 L198.0 695.2 L197.5 694.3 L197.0 693.4 L196.5 692.5 L196.0 691.6 L195.5 693.0 L195.0 694.3 L194.5 695.7 L194.0 697.0 L193.5 696.3 L193.0 695.5 L192.5 694.8 L192.0 694.0 L191.5 695.7 L191.0 697.4 L190.5 699.0 L190.0 700.7 L189.5 698.8 L189.0 697.0 L188.5 695.1 L188.0 693.2 L187.5 693.1 L187.0 692.9 L186.5 692.7 L186.0 692.6 L185.5 692.1 L185.0 691.6 L184.5 691.1 L184.0 690.7 L183.5 691.0 L183.0 691.3 L182.5 691.6 L182.0 691.9 L181.5 691.9 L181.0 691.9 L180.5 691.9 L180.0 691.9 L179.5 691.5 L179.0 691.0 L178.5 690.6 L178.0 690.2 L177.5 691.7 L177.0 693.2 L176.5 694.7 L176.0 696.2 L175.5 695.2 L175.0 694.2 L174.5 693.1 L174.0 692.1 L173.5 692.4 L173.0 692.7 L172.5 693.0 L172.0 693.3 L171.5 692.7 L171.0 692.0 L170.5 691.4 L170.0 690.7 L169.5 690.2 L169.0 689.8 L168.5 689.3 L168.0 688.9 L167.5 688.8 L167.0 688.8 L166.5 688.8 L166.0 688.8 L165.5 688.6 L165.0 688.3 L164.5 688.1 L164.0 687.9 L163.5 688.2 L163.0 688.6 L162.5 689.0 L162.0 689.3 L161.5 689.2 L161.0 689.1 L160.5 688.9 L160.0 688.8 L159.5 688.3 L159.0 687.8 L158.5 687.3 L158.0 686.8 L157.5 687.4 L157.0 688.0 L156.5 688.6 L156.0 689.2 L155.5 688.5 L155.0 687.9 L154.5 687.2 L154.0 686.6 L153.5 686.7 L153.0 686.8 L152.5 687.0 L152.0 687.1 L151.5 687.8 L151.0 688.5 L150.5 689.1 L150.0 689.8 L149.5 689.0 L149.0 688.1 L148.5 687.3 L148.0 686.5 L147.5 686.3 L147.0 686.1 L146.5 685.9 L146.0 685.7 L145.5 685.9 L145.0 686.2 L144.5 686.4 L144.0 686.6 L143.5 686.5 L143.0 686.4 L142.5 686.2 L142.0 686.1 L141.5 685.9 L141.0 685.7 L140.5 685.5 L140.0 685.3 L139.5 686.5 L139.0 687.6 L138.5 688.8 L138.0 690.0 L137.5 689.3 L137.0 688.6 L136.5 687.9 L136.0 687.3 L135.5 687.1 L135.0 687.0 L134.5 686.8 L134.0 686.7 L133.5 686.3 L133.0 685.8 L132.5 685.4 L132.0 685.0 L131.5 685.6 L131.0 686.1 L130.5 686.7 L130.0 687.2 L129.5 686.6 L129.0 686.0 L128.5 685.4 L128.0 684.8 L127.5 685.4 L127.0 686.1 L126.5 686.8 L126.0 687.4 L125.5 687.3 L125.0 687.1 L124.5 687.0 L124.0 686.8 L123.5 686.4 L123.0 686.0 L122.5 685.7 L122.0 685.3 L121.5 685.1 L121.0 684.9 L120.5 684.8 L120.0 684.6 L119.5 684.9 L119.0 685.2 L118.5 685.5 L118.0 685.8 L117.5 685.1 L117.0 684.3 L116.5 683.6 L116.0 682.8 L115.5 683.7 L115.0 684.5 L114.5 685.4 L114.0 686.3 L113.5 685.3 L113.0 684.3 L112.5 683.3 L112.0 682.4 L111.5 682.8 L111.0 683.2 L110.5 683.7 L110.0 684.1 L109.5 683.7 L109.0 683.3 L108.5 682.8 L108.0 682.4 L107.5 683.0 L107.0 683.7 L106.5 684.3 L106.0 684.9 L105.5 684.4 L105.0 683.9 L104.5 683.3 L104.0 682.8 L103.5 682.6 L103.0 682.5 L102.5 682.4 L102.0 682.2 L101.5 683.1 L101.0 683.9 L100.5 684.8 L100.0 685.7 L99.5 685.3 L99.0 684.8 L98.5 684.4 L98.0 684.0 L97.5 683.3 L97.0 682.7 L96.5 682.0 L96.0 681.4 L95.5 682.0 L95.0 682.6 L94.5 683.2 L94.0 683.8 L93.5 683.0 L93.0 682.1 L92.5 681.3 L92.0 680.5 L91.5 681.3 L91.0 682.0 L90.5 682.8 L90.0 683.6Z" fill="#000000"/>
<use href="#al" x="320.6" y="592.5"/>
<use href="#al" x="373.8" y="603.1"/>
<use href="#al" x="398.3" y="432.6"/>
<use href="#al" x="608.7" y="659.8"/>
<use href="#al" x="766.3" y="661.3"/>
<use href="#al" x="891.3" y="664.1"/>
<use href="#al" x="986.1" y="665.5"/>
<use href="#al" x="291.9" y="359.2"/>
<use href="#sl" x="315.6" y="349.6"/>
<use href="#al" x="327.9" y="359.2"/>
<use href="#ac" x="355.2" y="349.7"/>
<use href="#al" x="328.9" y="319.2"/>
<use href="#sl" x="352.6" y="309.6"/>
<use href="#al" x="364.9" y="319.2"/>
<use href="#ac" x="392.2" y="309.7"/>
<use href="#al" x="372.5" y="267.3"/>
<use href="#sl" x="396.2" y="257.7"/>
<use href="#al" x="408.5" y="267.3"/>
<use href="#ac" x="435.8" y="257.8"/>
<use href="#al" x="577.0" y="392.3"/>
<use href="#sl" x="600.7" y="382.7"/>
<use href="#al" x="613.0" y="392.3"/>
<use href="#ac" x="640.3" y="382.8"/>
<use href="#al" x="730.9" y="391.1"/>
<use href="#sl" x="754.6" y="381.5"/>
<use href="#al" x="766.9" y="391.1"/>
<use href="#ac" x="794.2" y="381.6"/>
<use href="#al" x="861.3" y="396.1"/>
<use href="#sl" x="885.0" y="386.5"/>
<use href="#al" x="897.3" y="396.1"/>
<use href="#ac" x="924.6" y="386.6"/>
<use href="#al" x="953.6" y="394.9"/>
<use href="#sl" x="977.3" y="385.3"/>
<use href="#al" x="989.6" y="394.9"/>
<use href="#ac" x="1016.9" y="385.4"/>
<use href="#al" x="310.4" y="172.5"/>
<use href="#ac" x="338.4" y="163.0"/>
<use href="#ac" x="351.6" y="163.0"/>
<use href="#al" x="385.4" y="53.5"/>
<use href="#ac" x="413.4" y="44.0"/>
<use href="#ac" x="426.6" y="44.0"/>
<use href="#al" x="592.0" y="209.5"/>
<use href="#ac" x="620.0" y="200.0"/>
<use href="#ac" x="633.2" y="200.0"/>
<use href="#al" x="744.7" y="212.9"/>
<use href="#ac" x="772.7" y="203.4"/>
<use href="#ac" x="785.9" y="203.4"/>
<use href="#al" x="962.4" y="219.2"/>
<use href="#ac" x="990.4" y="209.7"/>
<use href="#ac" x="1003.6" y="209.7"/>
<use href="#al" x="317.9" y="121.4"/>
<use href="#ac" x="345.9" y="111.9"/>
<use href="#ac" x="359.1" y="111.9"/>
<use href="#sl" x="367.8" y="111.8"/>
<use href="#be" x="380.9" y="113.1"/>
<use href="#al" x="849.3" y="215.0"/>
<use href="#ac" x="877.3" y="205.5"/>
<use href="#ac" x="890.5" y="205.5"/>
<use href="#sl" x="899.2" y="205.4"/>
<use href="#be" x="912.3" y="206.7"/>
<use href="#be" x="654.3" y="206.6"/>

<rect x="718.5" y="13.8" width="328.5" height="177.4" fill="none" stroke="#555" stroke-width="1.4"/>
<line x1="735.6" y1="47.6" x2="831.4" y2="47.6" stroke="#000" stroke-width="3.5" stroke-linecap="round"/>
<line x1="735.6" y1="106.4" x2="831.4" y2="106.4" stroke="#ff0000" stroke-width="3.5" stroke-linecap="round"/>
<line x1="735.6" y1="165.3" x2="831.4" y2="165.3" stroke="#0000ff" stroke-width="3.5" stroke-linecap="round"/>
<text x="843.5" y="63" class="lg">CP<tspan font-weight="normal">–</tspan>Ti G4</text>
<text x="843" y="121.8" class="lg">Ti<tspan font-weight="normal">–</tspan>Zr</text>
<text x="843" y="180.3" class="lg" letter-spacing="0.25">Ti<tspan font-weight="normal">–</tspan>Zr<tspan font-weight="normal">–</tspan>Mo</text>


<text transform="translate(38.2 535.8) rotate(-90)" class="ti">Intensity (a.u)</text>
<text x="571.3" y="876.5" text-anchor="middle" class="ti2">2θ</text>

</svg>
</body></html>
